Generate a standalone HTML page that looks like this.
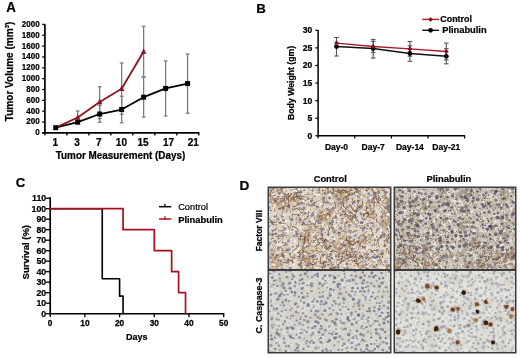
<!DOCTYPE html>
<html><head><meta charset="utf-8"><style>
html,body{margin:0;padding:0;background:#fff;width:520px;height:358px;overflow:hidden}
svg{display:block;filter:blur(0.4px)}
text{font-family:"Liberation Sans",sans-serif;stroke:#000;stroke-width:0.22px}
</style></head><body>
<svg width="520" height="358" viewBox="0 0 520 358">
<rect width="520" height="358" fill="#fff"/>
<text transform="translate(6.30 11.80) scale(1 1.070)" font-size="13.30" font-weight="bold" text-anchor="start" fill="#000">A</text>
<line x1="44.90" y1="24.20" x2="44.90" y2="133.60" stroke="#000" stroke-width="1.70"/>
<line x1="42.20" y1="132.90" x2="44.90" y2="132.90" stroke="#000" stroke-width="1.30"/>
<text transform="translate(39.60 135.30) scale(1 1.120)" font-size="8.00" font-weight="bold" text-anchor="end" fill="#000">0</text>
<line x1="42.20" y1="122.05" x2="44.90" y2="122.05" stroke="#000" stroke-width="1.30"/>
<text transform="translate(39.60 124.45) scale(1 1.120)" font-size="8.00" font-weight="bold" text-anchor="end" fill="#000">200</text>
<line x1="42.20" y1="111.20" x2="44.90" y2="111.20" stroke="#000" stroke-width="1.30"/>
<text transform="translate(39.60 113.60) scale(1 1.120)" font-size="8.00" font-weight="bold" text-anchor="end" fill="#000">400</text>
<line x1="42.20" y1="100.35" x2="44.90" y2="100.35" stroke="#000" stroke-width="1.30"/>
<text transform="translate(39.60 102.75) scale(1 1.120)" font-size="8.00" font-weight="bold" text-anchor="end" fill="#000">600</text>
<line x1="42.20" y1="89.50" x2="44.90" y2="89.50" stroke="#000" stroke-width="1.30"/>
<text transform="translate(39.60 91.90) scale(1 1.120)" font-size="8.00" font-weight="bold" text-anchor="end" fill="#000">800</text>
<line x1="42.20" y1="78.65" x2="44.90" y2="78.65" stroke="#000" stroke-width="1.30"/>
<text transform="translate(39.60 81.05) scale(1 1.120)" font-size="8.00" font-weight="bold" text-anchor="end" fill="#000">1000</text>
<line x1="42.20" y1="67.80" x2="44.90" y2="67.80" stroke="#000" stroke-width="1.30"/>
<text transform="translate(39.60 70.20) scale(1 1.120)" font-size="8.00" font-weight="bold" text-anchor="end" fill="#000">1200</text>
<line x1="42.20" y1="56.95" x2="44.90" y2="56.95" stroke="#000" stroke-width="1.30"/>
<text transform="translate(39.60 59.35) scale(1 1.120)" font-size="8.00" font-weight="bold" text-anchor="end" fill="#000">1400</text>
<line x1="42.20" y1="46.10" x2="44.90" y2="46.10" stroke="#000" stroke-width="1.30"/>
<text transform="translate(39.60 48.50) scale(1 1.120)" font-size="8.00" font-weight="bold" text-anchor="end" fill="#000">1600</text>
<line x1="42.20" y1="35.25" x2="44.90" y2="35.25" stroke="#000" stroke-width="1.30"/>
<text transform="translate(39.60 37.65) scale(1 1.120)" font-size="8.00" font-weight="bold" text-anchor="end" fill="#000">1800</text>
<line x1="42.20" y1="24.40" x2="44.90" y2="24.40" stroke="#000" stroke-width="1.30"/>
<text transform="translate(39.60 26.80) scale(1 1.120)" font-size="8.00" font-weight="bold" text-anchor="end" fill="#000">2000</text>
<line x1="42.20" y1="132.90" x2="199.40" y2="132.90" stroke="#000" stroke-width="1.70"/>
<line x1="44.90" y1="132.90" x2="44.90" y2="135.60" stroke="#000" stroke-width="1.30"/>
<line x1="66.89" y1="132.90" x2="66.89" y2="135.60" stroke="#000" stroke-width="1.30"/>
<line x1="88.87" y1="132.90" x2="88.87" y2="135.60" stroke="#000" stroke-width="1.30"/>
<line x1="110.86" y1="132.90" x2="110.86" y2="135.60" stroke="#000" stroke-width="1.30"/>
<line x1="132.84" y1="132.90" x2="132.84" y2="135.60" stroke="#000" stroke-width="1.30"/>
<line x1="154.83" y1="132.90" x2="154.83" y2="135.60" stroke="#000" stroke-width="1.30"/>
<line x1="176.81" y1="132.90" x2="176.81" y2="135.60" stroke="#000" stroke-width="1.30"/>
<line x1="198.80" y1="132.90" x2="198.80" y2="135.60" stroke="#000" stroke-width="1.30"/>
<text x="55.2" y="145.9" font-size="10.00" font-weight="bold" text-anchor="middle" fill="#000">1</text>
<text x="77.1" y="145.9" font-size="10.00" font-weight="bold" text-anchor="middle" fill="#000">3</text>
<text x="98.9" y="145.9" font-size="10.00" font-weight="bold" text-anchor="middle" fill="#000">7</text>
<text x="121.4" y="145.9" font-size="10.00" font-weight="bold" text-anchor="middle" fill="#000">10</text>
<text x="143.1" y="145.9" font-size="10.00" font-weight="bold" text-anchor="middle" fill="#000">15</text>
<text x="168.6" y="145.9" font-size="10.00" font-weight="bold" text-anchor="middle" fill="#000">17</text>
<text x="193.2" y="145.9" font-size="10.00" font-weight="bold" text-anchor="middle" fill="#000">21</text>
<text transform="translate(120.50 158.90) scale(1 1.120)" font-size="9.90" font-weight="bold" text-anchor="middle" fill="#000">Tumor Measurement (Days)</text>
<text transform="translate(12.5 71.4) rotate(-90)" x="0" y="0" font-size="10.05" font-weight="bold" text-anchor="middle" font-family="Liberation Sans, sans-serif">Tumor Volume (mm<tspan font-size="6" dy="-3.5">3</tspan><tspan dy="3.5">)</tspan></text>
<line x1="77.68" y1="111.00" x2="77.68" y2="122.60" stroke="#7c7c7c" stroke-width="1.30"/>
<line x1="75.78" y1="111.00" x2="79.58" y2="111.00" stroke="#7c7c7c" stroke-width="1.30"/>
<line x1="75.78" y1="122.60" x2="79.58" y2="122.60" stroke="#7c7c7c" stroke-width="1.30"/>
<line x1="99.66" y1="86.70" x2="99.66" y2="118.70" stroke="#7c7c7c" stroke-width="1.30"/>
<line x1="97.76" y1="86.70" x2="101.56" y2="86.70" stroke="#7c7c7c" stroke-width="1.30"/>
<line x1="97.76" y1="118.70" x2="101.56" y2="118.70" stroke="#7c7c7c" stroke-width="1.30"/>
<line x1="99.66" y1="105.50" x2="99.66" y2="122.30" stroke="#7c7c7c" stroke-width="1.30"/>
<line x1="97.76" y1="105.50" x2="101.56" y2="105.50" stroke="#7c7c7c" stroke-width="1.30"/>
<line x1="97.76" y1="122.30" x2="101.56" y2="122.30" stroke="#7c7c7c" stroke-width="1.30"/>
<line x1="121.65" y1="63.00" x2="121.65" y2="114.30" stroke="#7c7c7c" stroke-width="1.30"/>
<line x1="119.75" y1="63.00" x2="123.55" y2="63.00" stroke="#7c7c7c" stroke-width="1.30"/>
<line x1="119.75" y1="114.30" x2="123.55" y2="114.30" stroke="#7c7c7c" stroke-width="1.30"/>
<line x1="121.65" y1="96.30" x2="121.65" y2="122.80" stroke="#7c7c7c" stroke-width="1.30"/>
<line x1="119.75" y1="96.30" x2="123.55" y2="96.30" stroke="#7c7c7c" stroke-width="1.30"/>
<line x1="119.75" y1="122.80" x2="123.55" y2="122.80" stroke="#7c7c7c" stroke-width="1.30"/>
<line x1="143.64" y1="26.30" x2="143.64" y2="76.90" stroke="#7c7c7c" stroke-width="1.30"/>
<line x1="141.74" y1="26.30" x2="145.54" y2="26.30" stroke="#7c7c7c" stroke-width="1.30"/>
<line x1="141.74" y1="76.90" x2="145.54" y2="76.90" stroke="#7c7c7c" stroke-width="1.30"/>
<line x1="143.64" y1="77.40" x2="143.64" y2="117.10" stroke="#7c7c7c" stroke-width="1.30"/>
<line x1="141.74" y1="77.40" x2="145.54" y2="77.40" stroke="#7c7c7c" stroke-width="1.30"/>
<line x1="141.74" y1="117.10" x2="145.54" y2="117.10" stroke="#7c7c7c" stroke-width="1.30"/>
<line x1="165.62" y1="61.00" x2="165.62" y2="116.00" stroke="#7c7c7c" stroke-width="1.30"/>
<line x1="163.72" y1="61.00" x2="167.52" y2="61.00" stroke="#7c7c7c" stroke-width="1.30"/>
<line x1="163.72" y1="116.00" x2="167.52" y2="116.00" stroke="#7c7c7c" stroke-width="1.30"/>
<line x1="187.61" y1="54.00" x2="187.61" y2="113.20" stroke="#7c7c7c" stroke-width="1.30"/>
<line x1="185.71" y1="54.00" x2="189.51" y2="54.00" stroke="#7c7c7c" stroke-width="1.30"/>
<line x1="185.71" y1="113.20" x2="189.51" y2="113.20" stroke="#7c7c7c" stroke-width="1.30"/>
<polyline points="55.69,127.69 77.68,122.21 99.66,114.02 121.65,109.52 143.64,97.20 165.62,88.42 187.61,83.59" fill="none" stroke="#000" stroke-width="1.80"/>
<polyline points="55.69,127.69 77.68,117.49 99.66,101.98 121.65,88.69 143.64,51.58" fill="none" stroke="#8b1520" stroke-width="1.80"/>
<rect x="53.19" y="125.19" width="5" height="5" fill="#000"/>
<rect x="75.18" y="119.71" width="5" height="5" fill="#000"/>
<rect x="97.16" y="111.52" width="5" height="5" fill="#000"/>
<rect x="119.15" y="107.02" width="5" height="5" fill="#000"/>
<rect x="141.14" y="94.70" width="5" height="5" fill="#000"/>
<rect x="163.12" y="85.92" width="5" height="5" fill="#000"/>
<rect x="185.11" y="81.09" width="5" height="5" fill="#000"/>
<polygon points="77.68,114.29 74.88,119.69 80.48,119.69" fill="#8b1520"/>
<polygon points="99.66,98.78 96.86,104.18 102.46,104.18" fill="#8b1520"/>
<polygon points="121.65,85.49 118.85,90.89 124.45,90.89" fill="#8b1520"/>
<polygon points="143.64,48.38 140.84,53.78 146.44,53.78" fill="#8b1520"/>
<text x="256.3" y="13.3" font-size="13.30" font-weight="bold" text-anchor="start" fill="#000">B</text>
<line x1="318.10" y1="30.00" x2="318.10" y2="136.60" stroke="#000" stroke-width="1.50"/>
<line x1="315.30" y1="135.80" x2="318.10" y2="135.80" stroke="#000" stroke-width="1.20"/>
<text transform="translate(312.40 138.70) scale(1 1.100)" font-size="8.60" font-weight="bold" text-anchor="end" fill="#000">0</text>
<line x1="315.30" y1="118.22" x2="318.10" y2="118.22" stroke="#000" stroke-width="1.20"/>
<text transform="translate(312.40 121.12) scale(1 1.100)" font-size="8.60" font-weight="bold" text-anchor="end" fill="#000">5</text>
<line x1="315.30" y1="100.63" x2="318.10" y2="100.63" stroke="#000" stroke-width="1.20"/>
<text transform="translate(312.40 103.53) scale(1 1.100)" font-size="8.60" font-weight="bold" text-anchor="end" fill="#000">10</text>
<line x1="315.30" y1="83.05" x2="318.10" y2="83.05" stroke="#000" stroke-width="1.20"/>
<text transform="translate(312.40 85.95) scale(1 1.100)" font-size="8.60" font-weight="bold" text-anchor="end" fill="#000">15</text>
<line x1="315.30" y1="65.47" x2="318.10" y2="65.47" stroke="#000" stroke-width="1.20"/>
<text transform="translate(312.40 68.37) scale(1 1.100)" font-size="8.60" font-weight="bold" text-anchor="end" fill="#000">20</text>
<line x1="315.30" y1="47.88" x2="318.10" y2="47.88" stroke="#000" stroke-width="1.20"/>
<text transform="translate(312.40 50.78) scale(1 1.100)" font-size="8.60" font-weight="bold" text-anchor="end" fill="#000">25</text>
<line x1="315.30" y1="30.30" x2="318.10" y2="30.30" stroke="#000" stroke-width="1.20"/>
<text transform="translate(312.40 33.20) scale(1 1.100)" font-size="8.60" font-weight="bold" text-anchor="end" fill="#000">30</text>
<line x1="317.40" y1="135.80" x2="465.10" y2="135.80" stroke="#000" stroke-width="1.50"/>
<line x1="318.10" y1="135.80" x2="318.10" y2="138.40" stroke="#000" stroke-width="1.20"/>
<line x1="354.73" y1="135.80" x2="354.73" y2="138.40" stroke="#000" stroke-width="1.20"/>
<line x1="391.35" y1="135.80" x2="391.35" y2="138.40" stroke="#000" stroke-width="1.20"/>
<line x1="427.98" y1="135.80" x2="427.98" y2="138.40" stroke="#000" stroke-width="1.20"/>
<line x1="464.60" y1="135.80" x2="464.60" y2="138.40" stroke="#000" stroke-width="1.20"/>
<text x="336.5" y="149.6" font-size="8.50" font-weight="bold" text-anchor="middle" fill="#000">Day-0</text>
<text x="373.2" y="149.6" font-size="8.50" font-weight="bold" text-anchor="middle" fill="#000">Day-7</text>
<text x="409.9" y="149.6" font-size="8.50" font-weight="bold" text-anchor="middle" fill="#000">Day-14</text>
<text x="446.3" y="149.6" font-size="8.50" font-weight="bold" text-anchor="middle" fill="#000">Day-21</text>
<text x="0.0" y="0.0" font-size="8.70" font-weight="bold" text-anchor="middle" fill="#000" transform="translate(294.0 82.9) rotate(-90)">Body Weight (gm)</text>
<line x1="336.50" y1="37.50" x2="336.50" y2="56.00" stroke="#555" stroke-width="1.10"/>
<line x1="334.20" y1="37.50" x2="338.80" y2="37.50" stroke="#555" stroke-width="1.10"/>
<line x1="334.20" y1="56.00" x2="338.80" y2="56.00" stroke="#555" stroke-width="1.10"/>
<line x1="373.20" y1="39.40" x2="373.20" y2="52.50" stroke="#555" stroke-width="1.10"/>
<line x1="370.90" y1="39.40" x2="375.50" y2="39.40" stroke="#555" stroke-width="1.10"/>
<line x1="370.90" y1="52.50" x2="375.50" y2="52.50" stroke="#555" stroke-width="1.10"/>
<line x1="373.20" y1="41.30" x2="373.20" y2="58.10" stroke="#555" stroke-width="1.10"/>
<line x1="370.90" y1="41.30" x2="375.50" y2="41.30" stroke="#555" stroke-width="1.10"/>
<line x1="370.90" y1="58.10" x2="375.50" y2="58.10" stroke="#555" stroke-width="1.10"/>
<line x1="409.90" y1="41.50" x2="409.90" y2="56.20" stroke="#555" stroke-width="1.10"/>
<line x1="407.60" y1="41.50" x2="412.20" y2="41.50" stroke="#555" stroke-width="1.10"/>
<line x1="407.60" y1="56.20" x2="412.20" y2="56.20" stroke="#555" stroke-width="1.10"/>
<line x1="409.90" y1="45.80" x2="409.90" y2="61.30" stroke="#555" stroke-width="1.10"/>
<line x1="407.60" y1="45.80" x2="412.20" y2="45.80" stroke="#555" stroke-width="1.10"/>
<line x1="407.60" y1="61.30" x2="412.20" y2="61.30" stroke="#555" stroke-width="1.10"/>
<line x1="446.30" y1="43.10" x2="446.30" y2="59.90" stroke="#555" stroke-width="1.10"/>
<line x1="444.00" y1="43.10" x2="448.60" y2="43.10" stroke="#555" stroke-width="1.10"/>
<line x1="444.00" y1="59.90" x2="448.60" y2="59.90" stroke="#555" stroke-width="1.10"/>
<line x1="446.30" y1="48.70" x2="446.30" y2="63.80" stroke="#555" stroke-width="1.10"/>
<line x1="444.00" y1="48.70" x2="448.60" y2="48.70" stroke="#555" stroke-width="1.10"/>
<line x1="444.00" y1="63.80" x2="448.60" y2="63.80" stroke="#555" stroke-width="1.10"/>
<polyline points="336.50,46.60 373.20,48.60 409.90,53.40 446.30,56.30" fill="none" stroke="#111" stroke-width="1.50"/>
<polyline points="336.50,43.10 373.20,46.50 409.90,48.90 446.30,51.50" fill="none" stroke="#a81c2a" stroke-width="1.40"/>
<circle cx="336.50" cy="46.60" r="2.4" fill="#000"/>
<circle cx="373.20" cy="48.60" r="2.4" fill="#000"/>
<circle cx="409.90" cy="53.40" r="2.4" fill="#000"/>
<circle cx="446.30" cy="56.30" r="2.4" fill="#000"/>
<polygon points="336.50,40.50 338.90,43.10 336.50,45.70 334.10,43.10" fill="#8a1020"/>
<polygon points="373.20,43.90 375.60,46.50 373.20,49.10 370.80,46.50" fill="#8a1020"/>
<polygon points="409.90,46.30 412.30,48.90 409.90,51.50 407.50,48.90" fill="#8a1020"/>
<polygon points="446.30,48.90 448.70,51.50 446.30,54.10 443.90,51.50" fill="#8a1020"/>
<line x1="422.30" y1="19.40" x2="439.10" y2="19.40" stroke="#a81c2a" stroke-width="1.40"/>
<polygon points="430.60,16.90 432.90,19.40 430.60,21.90 428.30,19.40" fill="#8a1020"/>
<text x="440.3" y="22.0" font-size="8.90" font-weight="bold" text-anchor="start" fill="#000">Control</text>
<line x1="422.30" y1="30.30" x2="439.10" y2="30.30" stroke="#111" stroke-width="1.40"/>
<circle cx="430.6" cy="30.3" r="2.4" fill="#000"/>
<text x="442.2" y="32.9" font-size="9.30" font-weight="bold" text-anchor="start" fill="#000">Plinabulin</text>
<text x="15.8" y="187.0" font-size="13.20" font-weight="bold" text-anchor="start" fill="#000">C</text>
<line x1="50.20" y1="197.20" x2="50.20" y2="314.50" stroke="#000" stroke-width="1.70"/>
<line x1="45.60" y1="313.70" x2="50.20" y2="313.70" stroke="#000" stroke-width="1.30"/>
<text transform="translate(46.20 316.80) scale(1 1.080)" font-size="8.80" font-weight="bold" text-anchor="end" fill="#000">0</text>
<line x1="45.60" y1="303.20" x2="50.20" y2="303.20" stroke="#000" stroke-width="1.30"/>
<text transform="translate(46.20 306.30) scale(1 1.080)" font-size="8.80" font-weight="bold" text-anchor="end" fill="#000">10</text>
<line x1="45.60" y1="292.70" x2="50.20" y2="292.70" stroke="#000" stroke-width="1.30"/>
<text transform="translate(46.20 295.80) scale(1 1.080)" font-size="8.80" font-weight="bold" text-anchor="end" fill="#000">20</text>
<line x1="45.60" y1="282.20" x2="50.20" y2="282.20" stroke="#000" stroke-width="1.30"/>
<text transform="translate(46.20 285.30) scale(1 1.080)" font-size="8.80" font-weight="bold" text-anchor="end" fill="#000">30</text>
<line x1="45.60" y1="271.70" x2="50.20" y2="271.70" stroke="#000" stroke-width="1.30"/>
<text transform="translate(46.20 274.80) scale(1 1.080)" font-size="8.80" font-weight="bold" text-anchor="end" fill="#000">40</text>
<line x1="45.60" y1="261.20" x2="50.20" y2="261.20" stroke="#000" stroke-width="1.30"/>
<text transform="translate(46.20 264.30) scale(1 1.080)" font-size="8.80" font-weight="bold" text-anchor="end" fill="#000">50</text>
<line x1="45.60" y1="250.70" x2="50.20" y2="250.70" stroke="#000" stroke-width="1.30"/>
<text transform="translate(46.20 253.80) scale(1 1.080)" font-size="8.80" font-weight="bold" text-anchor="end" fill="#000">60</text>
<line x1="45.60" y1="240.20" x2="50.20" y2="240.20" stroke="#000" stroke-width="1.30"/>
<text transform="translate(46.20 243.30) scale(1 1.080)" font-size="8.80" font-weight="bold" text-anchor="end" fill="#000">70</text>
<line x1="45.60" y1="229.70" x2="50.20" y2="229.70" stroke="#000" stroke-width="1.30"/>
<text transform="translate(46.20 232.80) scale(1 1.080)" font-size="8.80" font-weight="bold" text-anchor="end" fill="#000">80</text>
<line x1="45.60" y1="219.20" x2="50.20" y2="219.20" stroke="#000" stroke-width="1.30"/>
<text transform="translate(46.20 222.30) scale(1 1.080)" font-size="8.80" font-weight="bold" text-anchor="end" fill="#000">90</text>
<line x1="45.60" y1="208.70" x2="50.20" y2="208.70" stroke="#000" stroke-width="1.30"/>
<text transform="translate(46.20 211.80) scale(1 1.080)" font-size="8.80" font-weight="bold" text-anchor="end" fill="#000">100</text>
<line x1="45.60" y1="198.20" x2="50.20" y2="198.20" stroke="#000" stroke-width="1.30"/>
<text transform="translate(46.20 201.30) scale(1 1.080)" font-size="8.80" font-weight="bold" text-anchor="end" fill="#000">110</text>
<line x1="49.40" y1="313.70" x2="224.30" y2="313.70" stroke="#000" stroke-width="1.60"/>
<line x1="50.20" y1="313.70" x2="50.20" y2="317.20" stroke="#000" stroke-width="1.30"/>
<text transform="translate(50.20 325.90) scale(1 1.140)" font-size="8.40" font-weight="bold" text-anchor="middle" fill="#000">0</text>
<line x1="84.90" y1="313.70" x2="84.90" y2="317.20" stroke="#000" stroke-width="1.30"/>
<text transform="translate(84.90 325.90) scale(1 1.140)" font-size="8.40" font-weight="bold" text-anchor="middle" fill="#000">10</text>
<line x1="119.60" y1="313.70" x2="119.60" y2="317.20" stroke="#000" stroke-width="1.30"/>
<text transform="translate(119.60 325.90) scale(1 1.140)" font-size="8.40" font-weight="bold" text-anchor="middle" fill="#000">20</text>
<line x1="154.30" y1="313.70" x2="154.30" y2="317.20" stroke="#000" stroke-width="1.30"/>
<text transform="translate(154.30 325.90) scale(1 1.140)" font-size="8.40" font-weight="bold" text-anchor="middle" fill="#000">30</text>
<line x1="189.00" y1="313.70" x2="189.00" y2="317.20" stroke="#000" stroke-width="1.30"/>
<text transform="translate(189.00 325.90) scale(1 1.140)" font-size="8.40" font-weight="bold" text-anchor="middle" fill="#000">40</text>
<line x1="223.70" y1="313.70" x2="223.70" y2="317.20" stroke="#000" stroke-width="1.30"/>
<text transform="translate(223.70 325.90) scale(1 1.140)" font-size="8.40" font-weight="bold" text-anchor="middle" fill="#000">50</text>
<text x="136.7" y="339.8" font-size="9.00" font-weight="bold" text-anchor="middle" fill="#000">Days</text>
<text transform="translate(29.0 252.2) rotate(-90)" font-size="9.5" font-weight="bold" text-anchor="middle" font-family="Liberation Sans, sans-serif">Survival (%)</text>
<polyline points="50.20,208.70 102.25,208.70 102.25,278.74 119.60,278.74 119.60,296.16 123.07,296.16 123.07,313.70" fill="none" stroke="#000" stroke-width="1.60"/>
<polyline points="50.20,208.70 123.07,208.70 123.07,229.70 154.30,229.70 154.30,250.70 171.65,250.70 171.65,271.70 178.59,271.70 178.59,292.70 185.53,292.70 185.53,313.70" fill="none" stroke="#a8101e" stroke-width="1.70"/>
<line x1="159.00" y1="206.70" x2="171.20" y2="206.70" stroke="#000" stroke-width="1.50"/>
<line x1="164.90" y1="203.80" x2="164.90" y2="206.70" stroke="#000" stroke-width="1.30"/>
<text transform="translate(178.20 210.30) scale(1 1.050)" font-size="9.25" text-anchor="start" fill="#000">Control</text>
<line x1="159.00" y1="219.00" x2="171.20" y2="219.00" stroke="#a8101e" stroke-width="1.50"/>
<line x1="164.90" y1="216.20" x2="164.90" y2="219.00" stroke="#a8101e" stroke-width="1.30"/>
<text x="178.2" y="222.5" font-size="9.35" font-weight="bold" text-anchor="start" fill="#000">Plinabulin</text>
<text x="239.4" y="189.6" font-size="13.60" font-weight="bold" text-anchor="start" fill="#000">D</text>
<text transform="translate(330.20 182.10) scale(1 1.060)" font-size="9.30" font-weight="bold" text-anchor="middle" fill="#000">Control</text>
<text transform="translate(448.90 182.30) scale(1 1.060)" font-size="9.40" font-weight="bold" text-anchor="middle" fill="#000">Plinabulin</text>
<text transform="translate(261.5 230.8) rotate(-90)" font-size="8.5" font-weight="bold" text-anchor="middle" font-family="Liberation Sans, sans-serif">Factor VIII</text>
<text transform="translate(261.5 305.5) rotate(-90)" font-size="8.9" font-weight="bold" text-anchor="middle" font-family="Liberation Sans, sans-serif">C. Caspase-3</text>
<defs><filter id="bl" x="-5%" y="-5%" width="110%" height="110%"><feGaussianBlur stdDeviation="0.45"/></filter><style>polyline{fill:none;stroke-linecap:round;stroke-linejoin:round}</style></defs>
<clipPath id="c1"><rect x="269" y="188" width="121" height="81"/></clipPath>
<g clip-path="url(#c1)">
<rect x="269" y="188" width="121" height="81" fill="#dcd6cb"/>
<filter id="f1_0" x="0" y="0" width="100%" height="100%" color-interpolation-filters="sRGB"><feTurbulence type="fractalNoise" baseFrequency="0.06" numOctaves="2" seed="10"/><feColorMatrix type="matrix" values="0 0 0 0 0.776 0 0 0 0 0.682 0 0 0 0 0.565 4.00 0 0 0 -1.90"/><feGaussianBlur stdDeviation="0.3"/></filter>
<rect x="269" y="188" width="121" height="81" filter="url(#f1_0)"/>
<filter id="f1_1" x="0" y="0" width="100%" height="100%" color-interpolation-filters="sRGB"><feTurbulence type="fractalNoise" baseFrequency="0.5" numOctaves="2" seed="11"/><feColorMatrix type="matrix" values="0 0 0 0 0.557 0 0 0 0 0.416 0 0 0 0 0.282 0 5.00 0 0 -2.85"/><feGaussianBlur stdDeviation="0.3"/></filter>
<rect x="269" y="188" width="121" height="81" filter="url(#f1_1)"/>
<filter id="f1_2" x="0" y="0" width="100%" height="100%" color-interpolation-filters="sRGB"><feTurbulence type="fractalNoise" baseFrequency="0.3" numOctaves="1" seed="12"/><feColorMatrix type="matrix" values="0 0 0 0 0.949 0 0 0 0 0.941 0 0 0 0 0.918 0 0 5.00 0 -2.70"/><feGaussianBlur stdDeviation="0.3"/></filter>
<rect x="269" y="188" width="121" height="81" filter="url(#f1_2)"/>
<g filter="url(#bl)">
<polyline points="283.8,258.0 283.0,256.0 282.0,253.8 282.1,252.3" stroke="#6a4428" stroke-width="1.0" stroke-opacity="0.72"/>
<polyline points="315.7,237.6 316.5,236.0 318.5,234.8 319.0,233.0" stroke="#6a4428" stroke-width="0.6" stroke-opacity="0.72"/>
<polyline points="334.7,265.8 334.0,267.8 334.9,269.2 336.2,271.0" stroke="#7a5030" stroke-width="0.7" stroke-opacity="0.72"/>
<polyline points="351.6,250.7 353.4,251.6 354.4,254.3 356.5,255.4" stroke="#a08060" stroke-width="0.9" stroke-opacity="0.72"/>
<polyline points="282.1,214.3 282.7,211.4 282.9,208.7 283.5,207.0" stroke="#90704c" stroke-width="1.0" stroke-opacity="0.72"/>
<polyline points="329.4,266.0 327.3,266.1 325.4,265.3 324.0,264.0" stroke="#a08060" stroke-width="0.9" stroke-opacity="0.72"/>
<polyline points="359.3,193.3 357.8,192.8 356.6,191.3 356.1,189.2" stroke="#86603c" stroke-width="0.9" stroke-opacity="0.72"/>
<polyline points="389.9,236.4 389.2,238.5 386.8,239.5 384.2,240.4" stroke="#7a5030" stroke-width="0.8" stroke-opacity="0.72"/>
<polyline points="310.0,258.0 307.6,258.5 305.0,258.5 302.3,259.0" stroke="#a08060" stroke-width="0.8" stroke-opacity="0.72"/>
<polyline points="283.2,252.1 282.1,253.9 281.4,256.1 279.7,257.0" stroke="#86603c" stroke-width="0.8" stroke-opacity="0.72"/>
<polyline points="267.2,231.9 267.0,229.6 268.1,227.5 269.0,226.1" stroke="#6a4428" stroke-width="0.9" stroke-opacity="0.72"/>
<polyline points="366.6,255.4 365.2,257.4 365.3,258.7 367.4,260.2" stroke="#7a5030" stroke-width="0.7" stroke-opacity="0.72"/>
<polyline points="366.7,201.7 367.3,203.3 366.2,205.5 364.9,206.9" stroke="#a08060" stroke-width="0.7" stroke-opacity="0.72"/>
<polyline points="326.2,188.0 325.1,189.3 325.1,192.1 325.1,193.8" stroke="#90704c" stroke-width="0.8" stroke-opacity="0.72"/>
<polyline points="388.9,205.2 388.7,208.1 388.7,210.3 389.1,212.9" stroke="#a08060" stroke-width="0.9" stroke-opacity="0.72"/>
<polyline points="331.6,205.0 329.9,203.4 327.7,202.4 326.0,203.1" stroke="#7a5030" stroke-width="1.0" stroke-opacity="0.72"/>
<polyline points="305.3,259.0 302.9,260.0 301.4,260.9 301.1,263.7" stroke="#6a4428" stroke-width="0.8" stroke-opacity="0.72"/>
<polyline points="294.2,262.6 291.6,261.6 290.0,259.9 288.3,259.8" stroke="#6a4428" stroke-width="0.7" stroke-opacity="0.72"/>
<polyline points="351.3,222.8 353.4,224.0 355.5,224.3 358.3,223.8" stroke="#86603c" stroke-width="0.6" stroke-opacity="0.72"/>
<polyline points="292.1,213.9 293.8,214.6 296.3,214.4 298.8,215.9" stroke="#86603c" stroke-width="1.0" stroke-opacity="0.72"/>
<polyline points="371.7,231.4 372.0,230.0 371.0,228.8 368.9,228.1" stroke="#86603c" stroke-width="0.9" stroke-opacity="0.72"/>
<polyline points="342.0,257.5 341.2,259.1 339.1,260.2 336.5,259.2" stroke="#7a5030" stroke-width="0.8" stroke-opacity="0.72"/>
<polyline points="363.3,213.3 361.2,215.4 361.0,216.9 362.2,218.9" stroke="#5a3c22" stroke-width="0.6" stroke-opacity="0.72"/>
<polyline points="335.8,234.1 337.3,233.2 338.7,232.5 340.2,232.8" stroke="#6a4428" stroke-width="0.9" stroke-opacity="0.72"/>
<polyline points="268.5,243.0 271.3,242.7 272.4,241.3 274.4,241.1" stroke="#6a4428" stroke-width="0.8" stroke-opacity="0.72"/>
<polyline points="352.1,199.5 353.5,196.9 355.4,195.8 357.6,195.8" stroke="#a08060" stroke-width="0.8" stroke-opacity="0.72"/>
<polyline points="279.5,241.4 281.9,239.7 283.2,237.7 284.0,236.1" stroke="#6a4428" stroke-width="0.6" stroke-opacity="0.72"/>
<polyline points="306.7,237.1 304.7,238.9 301.9,239.5 300.0,238.6" stroke="#86603c" stroke-width="0.7" stroke-opacity="0.72"/>
<polyline points="334.7,212.1 336.0,213.4 335.8,215.5 334.9,217.7" stroke="#7a5030" stroke-width="0.8" stroke-opacity="0.72"/>
<polyline points="305.3,213.8 302.9,215.2 301.7,216.7 300.1,218.3" stroke="#90704c" stroke-width="0.6" stroke-opacity="0.72"/>
<polyline points="294.5,254.7 293.1,257.1 292.0,257.9 291.8,260.5" stroke="#86603c" stroke-width="0.8" stroke-opacity="0.72"/>
<polyline points="374.8,199.1 373.6,198.4 373.2,196.8 374.0,193.9" stroke="#86603c" stroke-width="0.7" stroke-opacity="0.72"/>
<polyline points="355.7,256.9 354.0,257.0 351.5,256.9 349.2,255.5" stroke="#90704c" stroke-width="0.9" stroke-opacity="0.72"/>
<polyline points="380.4,257.5 380.9,255.9 381.2,254.3 382.6,252.3" stroke="#86603c" stroke-width="0.9" stroke-opacity="0.72"/>
<polyline points="352.3,224.0 351.0,225.6 350.0,226.6 348.5,226.9" stroke="#5a3c22" stroke-width="0.6" stroke-opacity="0.72"/>
<polyline points="347.8,221.4 346.0,222.1 345.2,223.4 344.8,226.0" stroke="#5a3c22" stroke-width="0.8" stroke-opacity="0.72"/>
<polyline points="288.5,193.6 287.1,194.7 284.2,194.6 282.5,192.9" stroke="#7a5030" stroke-width="0.7" stroke-opacity="0.72"/>
<polyline points="328.9,226.7 329.6,228.9 328.4,231.5 328.4,233.9" stroke="#6a4428" stroke-width="1.0" stroke-opacity="0.72"/>
<polyline points="362.4,240.8 360.6,242.8 360.1,244.5 360.4,246.8" stroke="#7a5030" stroke-width="0.9" stroke-opacity="0.72"/>
<polyline points="359.1,236.5 361.9,236.0 363.6,235.9 365.0,235.1" stroke="#90704c" stroke-width="0.9" stroke-opacity="0.72"/>
<polyline points="364.8,228.1 363.0,228.9 360.8,228.4 359.8,226.5" stroke="#6a4428" stroke-width="0.9" stroke-opacity="0.72"/>
<polyline points="345.6,208.7 347.1,209.2 349.0,211.1 350.2,213.3" stroke="#5a3c22" stroke-width="0.9" stroke-opacity="0.72"/>
<polyline points="297.1,258.3 299.0,259.0 300.0,260.8 300.5,262.9" stroke="#7a5030" stroke-width="0.6" stroke-opacity="0.72"/>
<polyline points="342.1,220.7 343.7,221.3 344.6,222.3 346.6,222.9" stroke="#6a4428" stroke-width="0.6" stroke-opacity="0.72"/>
<polyline points="388.6,206.6 389.4,208.0 391.0,208.9 392.6,211.1" stroke="#5a3c22" stroke-width="0.9" stroke-opacity="0.72"/>
<polyline points="368.1,268.8 365.4,268.0 363.8,266.5 362.2,265.5" stroke="#6a4428" stroke-width="1.0" stroke-opacity="0.72"/>
<polyline points="270.0,234.4 272.4,233.7 274.8,234.0 276.3,232.8" stroke="#86603c" stroke-width="0.8" stroke-opacity="0.72"/>
<polyline points="351.7,250.5 352.2,253.0 353.2,254.9 355.0,256.8" stroke="#90704c" stroke-width="0.8" stroke-opacity="0.72"/>
<polyline points="348.0,218.1 349.6,218.8 352.0,220.3 352.9,222.3" stroke="#5a3c22" stroke-width="0.8" stroke-opacity="0.72"/>
<polyline points="331.6,265.7 333.1,263.7 334.4,261.6 334.4,259.4" stroke="#a08060" stroke-width="0.8" stroke-opacity="0.72"/>
<polyline points="320.2,220.4 322.2,218.8 324.7,218.8 327.3,218.7" stroke="#a08060" stroke-width="1.0" stroke-opacity="0.72"/>
<polyline points="303.4,187.8 301.5,185.9 300.0,184.9 298.5,184.9" stroke="#90704c" stroke-width="0.6" stroke-opacity="0.72"/>
<polyline points="381.1,253.9 379.3,254.3 377.6,254.8 376.2,256.5" stroke="#86603c" stroke-width="0.8" stroke-opacity="0.72"/>
<polyline points="360.1,221.9 359.0,222.7 356.6,224.4 354.7,224.9" stroke="#a08060" stroke-width="0.7" stroke-opacity="0.72"/>
<polyline points="305.1,230.9 305.6,232.2 305.6,235.1 305.1,237.1" stroke="#90704c" stroke-width="0.9" stroke-opacity="0.72"/>
<polyline points="288.1,241.5 288.7,239.8 289.5,238.3 290.5,237.1" stroke="#86603c" stroke-width="0.9" stroke-opacity="0.72"/>
<polyline points="308.2,204.9 310.9,205.3 313.1,203.5 314.7,202.6" stroke="#5a3c22" stroke-width="1.0" stroke-opacity="0.72"/>
<polyline points="298.1,208.9 299.8,211.0 301.1,213.0 300.7,214.5" stroke="#86603c" stroke-width="0.8" stroke-opacity="0.72"/>
<polyline points="287.3,252.2 288.6,250.9 289.5,249.6 289.7,247.2" stroke="#6a4428" stroke-width="0.6" stroke-opacity="0.72"/>
<polyline points="316.6,227.9 318.0,227.9 320.8,228.6 322.1,228.2" stroke="#a08060" stroke-width="0.8" stroke-opacity="0.72"/>
<polyline points="357.5,261.4 355.7,261.5 354.1,261.3 352.5,261.9" stroke="#5a3c22" stroke-width="0.8" stroke-opacity="0.72"/>
<polyline points="288.1,205.7 288.9,203.6 288.5,201.1 287.5,199.0" stroke="#7a5030" stroke-width="1.0" stroke-opacity="0.72"/>
<polyline points="272.8,253.8 273.5,251.9 274.8,249.4 275.7,246.7" stroke="#a08060" stroke-width="0.7" stroke-opacity="0.72"/>
<polyline points="381.2,187.3 381.7,188.6 382.6,189.9 384.2,192.1" stroke="#6a4428" stroke-width="0.6" stroke-opacity="0.72"/>
<polyline points="274.6,257.5 276.1,257.2 277.0,256.2 279.1,254.7" stroke="#a08060" stroke-width="0.9" stroke-opacity="0.72"/>
<polyline points="291.0,224.0 290.8,225.8 290.3,227.4 289.0,229.8" stroke="#7a5030" stroke-width="0.7" stroke-opacity="0.72"/>
<polyline points="342.7,233.6 341.1,234.8 340.0,236.0 338.0,236.2" stroke="#a08060" stroke-width="0.6" stroke-opacity="0.72"/>
<polyline points="300.4,237.9 301.3,236.6 301.2,235.2 300.0,233.5" stroke="#6a4428" stroke-width="0.6" stroke-opacity="0.72"/>
<polyline points="278.4,255.1 275.7,256.3 275.0,258.5 274.7,260.0" stroke="#5a3c22" stroke-width="0.9" stroke-opacity="0.72"/>
<polyline points="379.3,223.9 378.5,222.4 377.2,221.1 376.9,219.7" stroke="#86603c" stroke-width="0.7" stroke-opacity="0.72"/>
<polyline points="283.3,253.5 284.8,252.5 286.1,251.4 287.7,250.3" stroke="#86603c" stroke-width="0.8" stroke-opacity="0.72"/>
<polyline points="315.9,262.1 314.0,264.0 312.3,265.6 310.0,265.9" stroke="#90704c" stroke-width="0.8" stroke-opacity="0.72"/>
<polyline points="379.1,256.7 379.8,258.5 380.3,259.9 381.5,261.8" stroke="#6a4428" stroke-width="0.7" stroke-opacity="0.72"/>
<polyline points="366.9,231.4 365.7,232.7 363.7,233.5 363.2,235.0" stroke="#86603c" stroke-width="1.0" stroke-opacity="0.72"/>
<polyline points="307.7,213.8 308.3,215.9 307.0,218.5 304.4,219.2" stroke="#6a4428" stroke-width="1.0" stroke-opacity="0.72"/>
<polyline points="367.2,197.4 364.3,196.6 362.6,194.8 361.9,193.0" stroke="#a08060" stroke-width="0.7" stroke-opacity="0.72"/>
<polyline points="305.4,236.9 304.7,238.0 304.4,239.7 305.2,241.0" stroke="#5a3c22" stroke-width="1.0" stroke-opacity="0.72"/>
<polyline points="344.5,255.0 346.9,255.5 348.3,255.0 350.7,254.5" stroke="#6a4428" stroke-width="0.9" stroke-opacity="0.72"/>
<polyline points="294.2,257.3 291.9,257.4 290.2,256.0 289.6,254.4" stroke="#7a5030" stroke-width="0.8" stroke-opacity="0.72"/>
<polyline points="375.2,261.9 373.0,262.2 370.8,260.6 369.5,258.3" stroke="#86603c" stroke-width="0.8" stroke-opacity="0.72"/>
<polyline points="268.0,231.2 266.6,231.3 264.4,231.0 262.4,230.5" stroke="#86603c" stroke-width="0.9" stroke-opacity="0.72"/>
<polyline points="324.3,202.1 323.5,203.2 323.5,205.0 321.9,207.1" stroke="#90704c" stroke-width="0.9" stroke-opacity="0.72"/>
<polyline points="391.2,210.0 388.4,209.3 386.2,208.7 384.3,207.9" stroke="#7a5030" stroke-width="0.8" stroke-opacity="0.72"/>
<polyline points="340.3,232.7 342.0,231.1 344.6,231.5 346.4,231.9" stroke="#5a3c22" stroke-width="0.7" stroke-opacity="0.72"/>
<polyline points="349.4,249.8 350.6,249.0 350.7,247.2 349.8,244.7" stroke="#a08060" stroke-width="0.9" stroke-opacity="0.72"/>
<polyline points="327.2,214.6 326.1,216.2 325.5,217.4 325.7,219.2" stroke="#7a5030" stroke-width="0.8" stroke-opacity="0.72"/>
<polyline points="302.9,270.8 302.7,273.4 301.9,275.2 300.2,276.5" stroke="#a08060" stroke-width="0.9" stroke-opacity="0.72"/>
<polyline points="385.7,220.2 385.1,221.8 385.9,224.2 387.3,225.0" stroke="#6a4428" stroke-width="0.8" stroke-opacity="0.72"/>
<polyline points="357.4,256.9 359.6,259.0 361.1,260.7 363.5,262.2" stroke="#6a4428" stroke-width="0.9" stroke-opacity="0.72"/>
<polyline points="351.9,257.0 353.7,255.3 354.4,252.7 355.2,251.6" stroke="#7a5030" stroke-width="0.9" stroke-opacity="0.72"/>
<polyline points="277.9,219.1 276.2,217.7 276.0,216.2 276.7,214.9" stroke="#5a3c22" stroke-width="0.8" stroke-opacity="0.72"/>
<polyline points="354.8,200.2 353.4,202.8 352.0,205.1 350.1,207.0" stroke="#7a5030" stroke-width="0.9" stroke-opacity="0.72"/>
<polyline points="344.9,259.2 346.1,261.5 348.0,263.6 348.5,264.9" stroke="#a08060" stroke-width="0.8" stroke-opacity="0.72"/>
<polyline points="362.0,257.6 363.3,259.8 364.3,260.9 366.4,261.7" stroke="#90704c" stroke-width="1.0" stroke-opacity="0.72"/>
<polyline points="274.3,256.9 273.1,255.6 271.9,254.2 270.4,252.7" stroke="#90704c" stroke-width="0.8" stroke-opacity="0.72"/>
<polyline points="309.3,237.5 308.7,239.9 308.2,241.3 308.2,243.7" stroke="#a08060" stroke-width="0.9" stroke-opacity="0.72"/>
<polyline points="390.6,204.1 389.5,203.1 389.1,200.6 387.7,198.7" stroke="#a08060" stroke-width="0.6" stroke-opacity="0.72"/>
<polyline points="288.5,195.9 286.3,194.9 284.4,194.8 282.1,193.4" stroke="#90704c" stroke-width="0.7" stroke-opacity="0.72"/>
<polyline points="359.9,209.8 359.6,208.0 360.2,206.2 359.4,204.4" stroke="#6a4428" stroke-width="0.7" stroke-opacity="0.72"/>
<polyline points="363.2,243.9 365.5,242.7 366.1,240.9 366.0,239.5" stroke="#6a4428" stroke-width="0.6" stroke-opacity="0.72"/>
<polyline points="382.7,217.6 383.0,216.2 382.7,214.8 384.3,212.3" stroke="#6a4428" stroke-width="0.7" stroke-opacity="0.72"/>
<polyline points="367.4,240.5 369.4,238.5 370.8,236.5 372.4,235.0" stroke="#90704c" stroke-width="0.8" stroke-opacity="0.72"/>
<polyline points="383.7,211.6 384.5,212.9 385.1,214.3 387.2,216.2" stroke="#86603c" stroke-width="0.8" stroke-opacity="0.72"/>
<polyline points="298.3,209.0 296.3,208.7 294.7,209.8 292.5,210.5" stroke="#90704c" stroke-width="0.8" stroke-opacity="0.72"/>
<polyline points="367.6,229.1 366.0,227.8 364.5,227.7 362.1,227.2" stroke="#7a5030" stroke-width="0.8" stroke-opacity="0.72"/>
<polyline points="367.1,251.2 366.6,252.7 364.5,254.5 362.5,256.7" stroke="#7a5030" stroke-width="0.7" stroke-opacity="0.72"/>
<polyline points="350.4,253.9 347.5,254.6 345.4,253.4 343.3,252.7" stroke="#6a4428" stroke-width="0.8" stroke-opacity="0.72"/>
<polyline points="364.4,236.9 362.5,236.3 361.2,235.6 359.9,235.1" stroke="#a08060" stroke-width="0.9" stroke-opacity="0.72"/>
<polyline points="368.5,256.7 366.4,255.2 364.4,253.5 362.3,251.4" stroke="#86603c" stroke-width="0.9" stroke-opacity="0.72"/>
<polyline points="369.5,206.8 369.2,204.6 368.7,203.1 369.1,200.3" stroke="#86603c" stroke-width="0.8" stroke-opacity="0.72"/>
<polyline points="357.9,207.5 357.7,204.7 358.0,202.7 357.7,200.1" stroke="#86603c" stroke-width="0.8" stroke-opacity="0.72"/>
<polyline points="354.4,240.0 352.5,241.5 350.9,241.5 348.8,240.9" stroke="#86603c" stroke-width="0.9" stroke-opacity="0.72"/>
<polyline points="282.2,235.5 280.3,237.0 278.3,236.6 276.7,237.2" stroke="#86603c" stroke-width="0.9" stroke-opacity="0.72"/>
<polyline points="365.1,225.2 362.5,225.7 360.9,225.4 358.6,225.2" stroke="#90704c" stroke-width="0.8" stroke-opacity="0.72"/>
<polyline points="300.3,196.6 303.0,196.4 305.8,197.0 307.8,197.2" stroke="#90704c" stroke-width="0.9" stroke-opacity="0.72"/>
<polyline points="303.1,199.2 305.7,200.4 307.5,199.5 310.0,199.0" stroke="#7a5030" stroke-width="0.8" stroke-opacity="0.72"/>
<polyline points="315.8,186.5 318.5,185.4 320.4,185.3 322.7,183.9" stroke="#90704c" stroke-width="1.0" stroke-opacity="0.72"/>
<polyline points="289.0,235.8 286.3,235.9 284.4,234.2 283.3,232.0" stroke="#a08060" stroke-width="1.0" stroke-opacity="0.72"/>
<polyline points="276.7,219.8 275.2,220.0 274.2,221.1 272.9,221.5" stroke="#90704c" stroke-width="0.7" stroke-opacity="0.72"/>
<polyline points="268.5,267.2 268.5,269.2 268.1,272.2 267.1,273.8" stroke="#90704c" stroke-width="0.9" stroke-opacity="0.72"/>
<polyline points="391.0,254.3 389.1,252.7 388.4,250.6 386.5,248.4" stroke="#86603c" stroke-width="0.8" stroke-opacity="0.72"/>
<polyline points="372.6,252.3 371.9,250.6 370.4,249.7 368.6,249.2" stroke="#5a3c22" stroke-width="0.6" stroke-opacity="0.72"/>
<polyline points="386.2,267.5 388.1,268.9 389.5,270.6 390.1,272.2" stroke="#7a5030" stroke-width="0.8" stroke-opacity="0.72"/>
<polyline points="315.9,202.6 313.3,202.6 311.4,204.4 310.0,206.4" stroke="#90704c" stroke-width="0.8" stroke-opacity="0.72"/>
<polyline points="351.1,232.4 352.6,232.7 355.0,231.8 357.2,230.5" stroke="#7a5030" stroke-width="0.7" stroke-opacity="0.72"/>
<polyline points="355.7,215.6 353.3,216.9 352.2,218.7 351.8,221.4" stroke="#90704c" stroke-width="0.6" stroke-opacity="0.72"/>
<polyline points="313.6,223.7 310.9,223.9 309.7,224.8 307.0,224.6" stroke="#6a4428" stroke-width="0.9" stroke-opacity="0.72"/>
<polyline points="346.2,206.9 346.6,208.4 345.4,210.6 343.7,211.6" stroke="#90704c" stroke-width="0.7" stroke-opacity="0.72"/>
<polyline points="356.5,207.6 357.9,206.6 359.8,206.3 362.1,205.7" stroke="#86603c" stroke-width="0.6" stroke-opacity="0.72"/>
<polyline points="288.0,243.0 286.0,243.3 283.9,244.5 282.3,246.0" stroke="#a08060" stroke-width="0.9" stroke-opacity="0.72"/>
<polyline points="283.2,233.6 282.4,235.1 280.5,236.2 277.8,235.5" stroke="#6a4428" stroke-width="0.6" stroke-opacity="0.72"/>
<polyline points="360.3,257.9 360.2,256.3 360.1,253.6 359.7,251.7" stroke="#7a5030" stroke-width="0.7" stroke-opacity="0.72"/>
<polyline points="376.7,269.4 375.0,267.1 373.3,265.0 371.8,264.5" stroke="#86603c" stroke-width="0.8" stroke-opacity="0.72"/>
<polyline points="339.9,191.5 341.0,190.5 342.4,188.8 343.7,187.5" stroke="#86603c" stroke-width="1.0" stroke-opacity="0.72"/>
<polyline points="325.8,265.4 324.8,263.6 323.4,261.7 322.1,260.8" stroke="#90704c" stroke-width="0.8" stroke-opacity="0.72"/>
<polyline points="391.6,191.6 390.9,189.8 389.7,187.9 387.4,187.6" stroke="#6a4428" stroke-width="0.8" stroke-opacity="0.72"/>
<polyline points="268.8,262.7 268.1,264.8 266.9,266.8 265.7,268.9" stroke="#90704c" stroke-width="0.8" stroke-opacity="0.72"/>
<polyline points="329.5,254.9 331.1,253.8 332.3,251.3 332.1,249.8" stroke="#86603c" stroke-width="0.9" stroke-opacity="0.72"/>
<polyline points="319.6,216.6 319.3,218.5 318.0,220.8 317.9,223.4" stroke="#5a3c22" stroke-width="0.8" stroke-opacity="0.72"/>
<polyline points="338.7,238.6 341.6,238.2 342.9,237.5 344.4,235.4" stroke="#86603c" stroke-width="0.7" stroke-opacity="0.72"/>
<polyline points="279.4,247.3 281.9,248.2 282.9,249.5 284.2,251.3" stroke="#86603c" stroke-width="1.0" stroke-opacity="0.72"/>
<polyline points="374.4,197.3 372.3,198.8 372.1,200.6 370.6,203.0" stroke="#6a4428" stroke-width="0.9" stroke-opacity="0.72"/>
<polyline points="354.8,239.5 352.1,240.6 350.7,242.4 348.5,242.5" stroke="#a08060" stroke-width="0.7" stroke-opacity="0.72"/>
<polyline points="291.5,190.7 294.1,189.2 295.8,189.0 296.8,189.8" stroke="#5a3c22" stroke-width="0.6" stroke-opacity="0.72"/>
<polyline points="298.7,232.9 299.9,233.7 300.6,234.9 301.2,236.4" stroke="#86603c" stroke-width="0.7" stroke-opacity="0.72"/>
<polyline points="330.2,213.6 331.3,211.5 331.0,209.2 332.5,207.4" stroke="#90704c" stroke-width="0.8" stroke-opacity="0.72"/>
<polyline points="269.9,187.8 271.4,189.6 271.2,191.7 270.3,193.4" stroke="#6a4428" stroke-width="0.9" stroke-opacity="0.72"/>
<polyline points="291.4,229.7 289.4,228.4 287.6,226.2 287.4,223.9" stroke="#a08060" stroke-width="0.8" stroke-opacity="0.72"/>
<polyline points="374.1,224.3 371.9,223.3 369.9,222.3 368.6,220.3" stroke="#86603c" stroke-width="0.7" stroke-opacity="0.72"/>
<polyline points="268.8,250.4 269.1,248.5 269.3,246.8 269.5,244.9" stroke="#a08060" stroke-width="0.7" stroke-opacity="0.72"/>
<polyline points="374.8,190.6 375.4,193.4 376.7,195.2 378.7,195.4" stroke="#86603c" stroke-width="0.7" stroke-opacity="0.72"/>
<polyline points="340.6,252.9 341.0,251.5 339.7,248.8 339.4,247.3" stroke="#a08060" stroke-width="0.7" stroke-opacity="0.72"/>
<polyline points="318.2,215.0 320.5,216.0 322.1,218.0 322.6,220.4" stroke="#86603c" stroke-width="0.7" stroke-opacity="0.72"/>
<polyline points="319.6,230.7 318.2,230.2 315.3,230.5 313.0,230.4" stroke="#a08060" stroke-width="0.7" stroke-opacity="0.72"/>
<polyline points="356.1,218.2 355.4,216.6 355.4,214.6 356.3,212.3" stroke="#5a3c22" stroke-width="0.8" stroke-opacity="0.72"/>
<polyline points="351.4,188.7 349.3,190.5 347.9,191.7 345.8,192.8" stroke="#86603c" stroke-width="0.9" stroke-opacity="0.72"/>
<polyline points="349.8,222.5 351.9,221.3 352.5,219.7 353.7,217.6" stroke="#86603c" stroke-width="0.8" stroke-opacity="0.72"/>
<polyline points="365.1,190.6 363.8,189.7 362.4,189.3 361.4,187.9" stroke="#a08060" stroke-width="0.6" stroke-opacity="0.72"/>
<polyline points="358.5,258.5 360.5,257.5 361.4,256.5 361.3,254.8" stroke="#7a5030" stroke-width="0.7" stroke-opacity="0.72"/>
<polyline points="339.7,230.3 340.3,228.4 338.9,225.8 338.7,224.5" stroke="#86603c" stroke-width="0.8" stroke-opacity="0.72"/>
<polyline points="269.0,201.7 268.6,200.1 266.6,198.1 263.9,198.0" stroke="#a08060" stroke-width="0.7" stroke-opacity="0.72"/>
<polyline points="371.1,198.8 373.0,198.5 375.1,198.6 377.1,200.0" stroke="#6a4428" stroke-width="0.6" stroke-opacity="0.72"/>
<polyline points="273.8,247.9 275.0,250.2 274.3,252.6 273.4,255.2" stroke="#a08060" stroke-width="0.6" stroke-opacity="0.72"/>
<polyline points="298.5,202.6 297.0,204.9 295.3,206.5 293.3,206.7" stroke="#5a3c22" stroke-width="1.0" stroke-opacity="0.72"/>
<polyline points="371.0,227.6 371.0,230.0 372.1,232.4 373.1,233.9" stroke="#86603c" stroke-width="1.0" stroke-opacity="0.72"/>
<polyline points="383.3,250.2 382.1,251.6 381.1,253.5 381.7,255.0" stroke="#7a5030" stroke-width="0.7" stroke-opacity="0.72"/>
<polyline points="282.8,232.6 281.2,230.9 279.6,230.5 278.4,229.3" stroke="#86603c" stroke-width="0.9" stroke-opacity="0.72"/>
<polyline points="288.4,258.8 287.9,260.9 285.6,262.6 283.1,262.6" stroke="#6a4428" stroke-width="0.9" stroke-opacity="0.72"/>
<polyline points="326.9,189.0 328.0,191.1 328.1,193.1 326.8,194.5" stroke="#90704c" stroke-width="0.9" stroke-opacity="0.72"/>
<polyline points="350.2,215.1 350.2,216.5 351.2,218.6 350.5,220.2" stroke="#7a5030" stroke-width="0.9" stroke-opacity="0.72"/>
<polyline points="305.1,233.9 304.3,235.4 304.1,237.7 305.5,240.3" stroke="#7a5030" stroke-width="0.7" stroke-opacity="0.72"/>
<polyline points="378.3,198.0 379.3,199.9 378.8,202.1 376.9,203.3" stroke="#5a3c22" stroke-width="0.9" stroke-opacity="0.72"/>
<polyline points="321.9,229.5 321.5,231.1 320.3,232.4 319.8,233.9" stroke="#7a5030" stroke-width="0.6" stroke-opacity="0.72"/>
<polyline points="327.7,201.6 326.8,200.2 326.5,198.5 325.8,196.2" stroke="#90704c" stroke-width="0.7" stroke-opacity="0.72"/>
<polyline points="338.9,257.2 339.4,256.0 339.5,253.8 338.5,252.8" stroke="#86603c" stroke-width="0.8" stroke-opacity="0.72"/>
<polyline points="310.7,227.5 308.0,226.5 306.5,225.3 304.1,224.4" stroke="#6a4428" stroke-width="0.8" stroke-opacity="0.72"/>
<polyline points="318.9,192.1 321.1,193.8 322.7,193.5 324.3,192.6" stroke="#86603c" stroke-width="0.9" stroke-opacity="0.72"/>
<polyline points="386.0,221.4 387.6,220.4 388.3,218.5 389.2,217.0" stroke="#a08060" stroke-width="0.9" stroke-opacity="0.72"/>
<polyline points="328.8,209.9 329.6,211.2 331.4,211.8 333.3,213.5" stroke="#7a5030" stroke-width="0.8" stroke-opacity="0.72"/>
<polyline points="323.2,256.8 325.2,255.2 326.4,253.0 325.6,250.9" stroke="#90704c" stroke-width="0.8" stroke-opacity="0.72"/>
<polyline points="307.9,230.2 308.2,232.2 309.0,234.6 308.4,236.6" stroke="#90704c" stroke-width="0.8" stroke-opacity="0.72"/>
<polyline points="273.4,247.7 274.3,245.4 275.4,243.9 275.1,241.3" stroke="#86603c" stroke-width="0.7" stroke-opacity="0.72"/>
<polyline points="283.8,265.1 285.7,265.2 287.6,266.4 289.6,267.6" stroke="#90704c" stroke-width="0.6" stroke-opacity="0.72"/>
<polyline points="348.8,229.3 349.9,230.4 352.6,231.5 354.3,231.7" stroke="#a08060" stroke-width="0.8" stroke-opacity="0.72"/>
<polyline points="305.5,233.1 303.6,234.3 302.6,236.4 300.4,237.1" stroke="#7a5030" stroke-width="0.7" stroke-opacity="0.72"/>
<polyline points="286.3,186.5 287.7,185.1 289.9,183.9 291.9,183.2" stroke="#90704c" stroke-width="0.8" stroke-opacity="0.72"/>
<polyline points="371.4,190.6 369.9,189.4 368.5,188.5 366.0,187.2" stroke="#6a4428" stroke-width="0.8" stroke-opacity="0.72"/>
<polyline points="385.4,236.2 383.6,237.0 380.9,237.0 378.3,238.1" stroke="#6a4428" stroke-width="0.8" stroke-opacity="0.72"/>
<polyline points="366.8,191.5 368.4,189.3 369.9,186.9 369.6,185.5" stroke="#5a3c22" stroke-width="0.7" stroke-opacity="0.72"/>
<polyline points="318.2,214.2 320.7,215.3 321.7,217.4 321.3,219.6" stroke="#86603c" stroke-width="0.7" stroke-opacity="0.72"/>
<polyline points="388.4,237.9 387.7,239.5 386.9,242.1 387.4,243.5" stroke="#6a4428" stroke-width="0.8" stroke-opacity="0.72"/>
<polyline points="390.7,233.6 392.3,232.5 394.1,232.2 396.5,232.7" stroke="#5a3c22" stroke-width="0.7" stroke-opacity="0.72"/>
<polyline points="361.1,200.8 359.1,201.1 356.8,201.4 354.4,202.5" stroke="#a08060" stroke-width="0.8" stroke-opacity="0.72"/>
<polyline points="346.4,247.5 345.2,249.2 344.2,250.9 343.1,252.3" stroke="#7a5030" stroke-width="0.8" stroke-opacity="0.72"/>
<polyline points="374.4,265.3 376.7,265.3 378.2,263.9 378.0,262.0" stroke="#90704c" stroke-width="0.8" stroke-opacity="0.72"/>
<polyline points="349.6,220.8 351.0,219.6 351.7,217.7 353.3,215.9" stroke="#7a5030" stroke-width="0.6" stroke-opacity="0.72"/>
<polyline points="348.4,268.3 346.3,269.3 344.6,268.8 343.4,267.4" stroke="#7a5030" stroke-width="0.9" stroke-opacity="0.72"/>
<polyline points="303.7,222.9 303.0,221.0 301.1,219.8 299.5,217.3" stroke="#86603c" stroke-width="0.7" stroke-opacity="0.72"/>
<polyline points="321.6,232.1 320.6,229.3 321.4,227.8 320.9,224.9" stroke="#7a5030" stroke-width="1.0" stroke-opacity="0.72"/>
<polyline points="285.3,223.6 282.6,223.5 280.1,223.0 278.1,221.8" stroke="#6a4428" stroke-width="0.7" stroke-opacity="0.72"/>
<polyline points="288.8,206.0 285.9,206.1 284.3,207.6 283.1,208.6" stroke="#86603c" stroke-width="0.9" stroke-opacity="0.72"/>
<polyline points="302.0,248.9 303.3,248.5 304.9,247.9 306.5,246.0" stroke="#6a4428" stroke-width="0.9" stroke-opacity="0.72"/>
<polyline points="305.0,208.7 303.8,209.6 301.1,209.9 299.5,208.9" stroke="#5a3c22" stroke-width="0.9" stroke-opacity="0.72"/>
<polyline points="391.3,230.4 390.8,228.9 389.8,227.3 389.6,225.3" stroke="#86603c" stroke-width="1.0" stroke-opacity="0.72"/>
<polyline points="382.4,202.6 383.9,203.4 386.5,204.0 388.0,204.2" stroke="#7a5030" stroke-width="0.9" stroke-opacity="0.72"/>
<polyline points="369.4,186.6 367.3,186.5 365.5,184.8 364.0,182.4" stroke="#86603c" stroke-width="0.8" stroke-opacity="0.72"/>
<polyline points="272.9,224.6 272.1,222.5 270.6,220.2 268.5,219.1" stroke="#5a3c22" stroke-width="1.0" stroke-opacity="0.72"/>
<polyline points="367.6,217.1 370.0,217.3 372.6,217.4 374.0,219.3" stroke="#6a4428" stroke-width="0.8" stroke-opacity="0.72"/>
<polyline points="342.3,194.2 339.9,192.7 338.3,191.1 336.1,189.3" stroke="#90704c" stroke-width="0.8" stroke-opacity="0.72"/>
<polyline points="371.1,213.0 373.4,213.5 374.6,214.3 377.3,215.1" stroke="#7a5030" stroke-width="0.6" stroke-opacity="0.72"/>
<polyline points="348.8,193.4 347.6,192.2 345.5,191.1 343.6,189.8" stroke="#5a3c22" stroke-width="0.9" stroke-opacity="0.72"/>
<polyline points="350.8,188.5 352.2,187.5 354.9,187.8 357.3,189.5" stroke="#5a3c22" stroke-width="0.8" stroke-opacity="0.72"/>
<polyline points="300.6,200.8 299.8,198.6 298.1,197.3 296.5,195.2" stroke="#a08060" stroke-width="0.9" stroke-opacity="0.72"/>
<polyline points="390.6,233.6 388.9,233.9 387.4,236.5 386.1,238.9" stroke="#6a4428" stroke-width="0.9" stroke-opacity="0.72"/>
<polyline points="299.4,257.3 300.0,255.6 298.9,252.8 300.2,250.4" stroke="#5a3c22" stroke-width="0.8" stroke-opacity="0.72"/>
<polyline points="338.2,213.7 337.0,214.3 336.0,215.7 333.5,216.8" stroke="#86603c" stroke-width="0.6" stroke-opacity="0.72"/>
<polyline points="300.2,267.7 299.9,266.3 300.1,263.9 300.9,261.6" stroke="#5a3c22" stroke-width="0.6" stroke-opacity="0.72"/>
<polyline points="329.3,215.2 329.2,213.6 329.7,211.0 328.6,209.0" stroke="#7a5030" stroke-width="0.7" stroke-opacity="0.72"/>
<polyline points="285.8,259.6 288.1,260.3 289.8,261.0 292.0,260.5" stroke="#7a5030" stroke-width="0.6" stroke-opacity="0.72"/>
<polyline points="341.5,190.8 344.4,190.3 346.2,191.2 346.9,192.5" stroke="#7a5030" stroke-width="0.9" stroke-opacity="0.72"/>
<polyline points="271.3,240.1 272.2,237.5 272.3,235.6 274.5,233.6" stroke="#7a5030" stroke-width="0.7" stroke-opacity="0.72"/>
<polyline points="384.8,217.1 385.5,215.5 385.4,213.0 387.1,211.6" stroke="#6a4428" stroke-width="0.8" stroke-opacity="0.72"/>
<polyline points="358.5,265.0 357.1,264.0 356.4,262.3 357.2,260.8" stroke="#7a5030" stroke-width="0.9" stroke-opacity="0.72"/>
<polyline points="314.6,189.0 314.7,186.2 313.1,184.0 312.1,181.3" stroke="#a08060" stroke-width="0.8" stroke-opacity="0.72"/>
<polyline points="292.1,214.4 292.1,215.9 292.2,218.4 290.6,220.1" stroke="#90704c" stroke-width="0.8" stroke-opacity="0.72"/>
<polyline points="336.2,221.9 336.9,219.0 336.4,217.6 334.7,215.9" stroke="#a08060" stroke-width="0.6" stroke-opacity="0.72"/>
<polyline points="341.8,226.7 339.5,227.9 337.4,229.9 335.7,231.3" stroke="#86603c" stroke-width="1.0" stroke-opacity="0.72"/>
<polyline points="379.8,188.1 380.2,185.5 380.5,182.9 379.7,180.4" stroke="#5a3c22" stroke-width="0.9" stroke-opacity="0.72"/>
<polyline points="314.6,226.7 315.2,224.5 315.5,221.9 316.7,220.1" stroke="#5a3c22" stroke-width="0.9" stroke-opacity="0.72"/>
<polyline points="318.3,193.1 318.7,191.7 319.5,190.0 318.9,188.6" stroke="#6a4428" stroke-width="0.8" stroke-opacity="0.72"/>
<polyline points="311.3,193.7 309.6,194.5 306.8,194.4 304.6,194.9" stroke="#86603c" stroke-width="0.8" stroke-opacity="0.72"/>
<polyline points="390.5,239.9 388.7,237.5 388.6,235.7 388.1,234.4" stroke="#5a3c22" stroke-width="0.7" stroke-opacity="0.72"/>
<polyline points="349.2,205.6 350.5,206.2 352.0,206.7 353.9,208.9" stroke="#90704c" stroke-width="0.6" stroke-opacity="0.72"/>
<polyline points="315.3,246.0 316.5,247.5 319.3,248.1 321.2,249.7" stroke="#86603c" stroke-width="0.8" stroke-opacity="0.72"/>
<polyline points="366.3,223.9 367.9,223.5 370.4,223.0 371.7,222.8" stroke="#7a5030" stroke-width="0.8" stroke-opacity="0.72"/>
<polyline points="334.5,202.3 335.8,204.3 335.5,206.1 335.6,207.9" stroke="#6a4428" stroke-width="0.9" stroke-opacity="0.72"/>
<polyline points="345.4,258.7 344.2,260.1 342.9,261.0 341.5,261.4" stroke="#6a4428" stroke-width="0.7" stroke-opacity="0.72"/>
<polyline points="380.3,239.0 380.1,237.6 381.1,236.6 381.6,234.6" stroke="#90704c" stroke-width="1.0" stroke-opacity="0.72"/>
<polyline points="268.1,197.8 270.5,196.3 271.1,194.1 270.8,192.8" stroke="#86603c" stroke-width="0.7" stroke-opacity="0.72"/>
<polyline points="390.3,218.8 388.6,219.9 387.8,222.4 387.2,223.8" stroke="#90704c" stroke-width="0.7" stroke-opacity="0.72"/>
<polyline points="270.2,190.4 270.4,192.4 268.9,194.5 267.0,196.4" stroke="#6a4428" stroke-width="0.9" stroke-opacity="0.72"/>
<polyline points="271.3,233.2 269.1,232.4 267.3,232.6 265.6,233.3" stroke="#90704c" stroke-width="0.6" stroke-opacity="0.72"/>
<polyline points="338.2,202.2 336.6,201.9 334.8,203.0 334.2,205.7" stroke="#86603c" stroke-width="0.6" stroke-opacity="0.72"/>
<polyline points="367.1,257.3 369.1,258.1 371.7,257.7 374.4,257.5" stroke="#6a4428" stroke-width="1.0" stroke-opacity="0.72"/>
<polyline points="349.8,260.2 351.9,260.4 353.9,260.7 355.6,262.2" stroke="#5a3c22" stroke-width="0.7" stroke-opacity="0.72"/>
<polyline points="317.5,218.8 317.1,216.0 317.8,214.6 320.0,213.6" stroke="#86603c" stroke-width="0.6" stroke-opacity="0.72"/>
<polyline points="319.4,235.8 321.3,238.0 322.5,240.3 321.9,242.3" stroke="#90704c" stroke-width="0.6" stroke-opacity="0.72"/>
<polyline points="308.9,189.2 310.3,187.2 311.0,185.1 311.4,183.3" stroke="#5a3c22" stroke-width="0.9" stroke-opacity="0.72"/>
<polyline points="328.2,218.6 329.6,217.5 329.6,216.0 330.2,213.6" stroke="#7a5030" stroke-width="0.7" stroke-opacity="0.72"/>
<polyline points="277.1,224.7 274.2,224.9 272.1,223.6 270.4,221.4" stroke="#6a4428" stroke-width="0.8" stroke-opacity="0.72"/>
<polyline points="337.3,265.3 338.4,264.5 339.6,262.6 341.4,260.8" stroke="#6a4428" stroke-width="0.8" stroke-opacity="0.72"/>
<polyline points="309.7,258.1 309.0,260.8 310.0,262.6 311.4,263.4" stroke="#7a5030" stroke-width="0.7" stroke-opacity="0.72"/>
<polyline points="316.4,200.8 318.7,201.0 321.1,199.7 322.7,197.3" stroke="#a08060" stroke-width="0.8" stroke-opacity="0.72"/>
<polyline points="386.8,202.1 388.1,203.6 389.7,204.9 391.6,206.1" stroke="#6a4428" stroke-width="0.6" stroke-opacity="0.72"/>
<polyline points="371.0,249.7 372.7,251.9 374.1,253.6 375.1,254.9" stroke="#5a3c22" stroke-width="0.9" stroke-opacity="0.72"/>
<polyline points="302.7,215.5 303.6,213.4 303.6,211.5 303.9,208.7" stroke="#a08060" stroke-width="0.8" stroke-opacity="0.72"/>
<polyline points="300.1,258.4 301.4,259.9 303.8,260.9 305.6,262.1" stroke="#7a5030" stroke-width="0.9" stroke-opacity="0.72"/>
<polyline points="280.8,198.9 280.4,200.4 279.6,202.7 278.5,203.6" stroke="#6a4428" stroke-width="0.8" stroke-opacity="0.72"/>
<polyline points="378.1,240.5 377.2,242.2 376.7,244.1 375.8,245.7" stroke="#7a5030" stroke-width="0.9" stroke-opacity="0.72"/>
<polyline points="322.2,215.7 319.6,215.9 317.9,216.3 316.9,217.3" stroke="#86603c" stroke-width="1.0" stroke-opacity="0.72"/>
<polyline points="275.4,236.4 278.4,236.3 280.3,234.7 281.9,234.7" stroke="#7a5030" stroke-width="0.8" stroke-opacity="0.72"/>
<polyline points="355.1,216.5 353.6,215.8 352.0,216.1 349.7,215.3" stroke="#5a3c22" stroke-width="0.8" stroke-opacity="0.72"/>
<polyline points="355.0,188.9 356.5,189.3 357.7,191.0 358.6,192.8" stroke="#86603c" stroke-width="1.0" stroke-opacity="0.72"/>
<polyline points="379.5,192.9 378.5,190.2 377.9,188.2 376.9,187.3" stroke="#6a4428" stroke-width="0.7" stroke-opacity="0.72"/>
<polyline points="291.3,225.1 290.8,222.7 291.8,220.5 293.2,218.1" stroke="#a08060" stroke-width="0.8" stroke-opacity="0.72"/>
<polyline points="297.2,247.8 296.3,248.8 294.1,249.9 292.4,251.8" stroke="#6a4428" stroke-width="0.9" stroke-opacity="0.72"/>
<polyline points="321.9,235.7 321.2,233.0 321.8,230.6 322.8,229.5" stroke="#a08060" stroke-width="0.8" stroke-opacity="0.72"/>
<polyline points="352.8,241.3 350.1,241.5 349.1,240.5 349.2,237.8" stroke="#90704c" stroke-width="0.8" stroke-opacity="0.72"/>
<polyline points="388.5,200.9 386.6,198.8 384.3,197.7 382.0,197.0" stroke="#90704c" stroke-width="0.8" stroke-opacity="0.72"/>
<polyline points="303.7,254.9 303.0,253.7 303.3,251.5 304.2,248.8" stroke="#86603c" stroke-width="0.7" stroke-opacity="0.72"/>
<polyline points="316.1,269.9 318.5,270.3 320.9,270.8 323.6,271.9" stroke="#5a3c22" stroke-width="0.7" stroke-opacity="0.72"/>
<polyline points="328.1,188.8 325.6,187.7 324.9,185.9 322.4,184.4" stroke="#6a4428" stroke-width="0.9" stroke-opacity="0.72"/>
<polyline points="382.5,257.6 381.3,258.8 380.9,260.5 382.1,263.1" stroke="#a08060" stroke-width="0.6" stroke-opacity="0.72"/>
<polyline points="349.2,189.7 347.7,189.7 345.4,188.0 345.2,185.6" stroke="#7a5030" stroke-width="0.7" stroke-opacity="0.72"/>
<polyline points="338.8,260.4 339.1,257.7 339.0,255.5 340.2,253.4" stroke="#86603c" stroke-width="0.8" stroke-opacity="0.72"/>
<polyline points="275.8,239.5 277.8,237.7 278.7,235.8 277.7,233.6" stroke="#a08060" stroke-width="0.7" stroke-opacity="0.72"/>
<polyline points="305.1,265.3 307.2,265.6 309.8,264.2 311.0,262.2" stroke="#7a5030" stroke-width="0.8" stroke-opacity="0.72"/>
<polyline points="377.7,265.8 376.4,266.5 374.3,267.8 373.2,269.5" stroke="#7a5030" stroke-width="0.7" stroke-opacity="0.72"/>
<polyline points="344.6,233.4 345.3,231.1 346.0,228.7 346.2,226.8" stroke="#90704c" stroke-width="0.8" stroke-opacity="0.72"/>
<polyline points="298.3,230.8 296.8,228.3 294.6,226.9 292.9,226.4" stroke="#6a4428" stroke-width="1.0" stroke-opacity="0.72"/>
<polyline points="363.5,197.9 361.9,195.8 360.5,195.0 359.0,194.4" stroke="#a08060" stroke-width="0.8" stroke-opacity="0.72"/>
<polyline points="331.8,266.9 333.0,268.3 333.7,270.1 335.6,271.9" stroke="#6a4428" stroke-width="0.7" stroke-opacity="0.72"/>
<polyline points="382.4,262.7 381.1,263.0 378.8,261.7 377.7,260.3" stroke="#7a5030" stroke-width="0.6" stroke-opacity="0.72"/>
<polyline points="353.0,244.5 351.4,244.9 349.0,243.3 347.2,242.8" stroke="#5a3c22" stroke-width="0.7" stroke-opacity="0.72"/>
<polyline points="340.6,244.7 342.3,244.9 343.8,244.7 346.3,245.8" stroke="#7a5030" stroke-width="0.8" stroke-opacity="0.72"/>
<polyline points="377.1,251.7 375.3,250.3 373.0,250.7 370.8,252.4" stroke="#5a3c22" stroke-width="0.9" stroke-opacity="0.72"/>
<polyline points="319.9,238.8 322.2,238.3 324.1,239.2 324.9,241.2" stroke="#5a3c22" stroke-width="1.0" stroke-opacity="0.72"/>
<polyline points="347.8,200.0 347.2,197.7 348.7,195.5 350.5,194.9" stroke="#7a5030" stroke-width="0.7" stroke-opacity="0.72"/>
<polyline points="348.0,211.8 349.6,212.8 351.5,213.0 352.9,214.8" stroke="#5a3c22" stroke-width="0.7" stroke-opacity="0.72"/>
<polyline points="287.0,208.4 288.7,208.7 290.0,210.3 291.1,212.9" stroke="#a08060" stroke-width="0.7" stroke-opacity="0.72"/>
<polyline points="383.2,189.1 382.8,187.2 382.5,185.4 382.0,184.0" stroke="#90704c" stroke-width="1.0" stroke-opacity="0.78"/>
<polyline points="349.4,212.9 347.8,214.4 346.1,214.3 344.7,215.6" stroke="#a08060" stroke-width="0.9" stroke-opacity="0.78"/>
<polyline points="340.1,209.8 341.3,207.8 341.3,205.1 340.7,203.6" stroke="#6a4428" stroke-width="0.9" stroke-opacity="0.78"/>
<polyline points="382.2,202.6 382.8,200.9 384.1,200.3 385.3,198.7" stroke="#90704c" stroke-width="0.9" stroke-opacity="0.78"/>
<polyline points="342.2,201.8 343.1,203.6 343.6,206.2 345.5,208.4" stroke="#5a3c22" stroke-width="1.0" stroke-opacity="0.78"/>
<polyline points="378.1,199.3 377.5,200.5 378.5,203.0 379.9,204.0" stroke="#5a3c22" stroke-width="1.0" stroke-opacity="0.78"/>
<polyline points="348.3,196.0 350.0,195.6 351.0,194.6 351.8,193.5" stroke="#90704c" stroke-width="0.8" stroke-opacity="0.78"/>
<polyline points="373.6,197.2 373.2,198.8 374.1,201.1 374.6,203.1" stroke="#90704c" stroke-width="1.0" stroke-opacity="0.78"/>
<polyline points="343.2,199.0 344.7,197.5 347.1,196.0 348.6,196.0" stroke="#5a3c22" stroke-width="1.0" stroke-opacity="0.78"/>
<polyline points="341.5,194.0 340.1,192.7 339.3,191.1 338.4,189.6" stroke="#5a3c22" stroke-width="0.8" stroke-opacity="0.78"/>
<polyline points="347.5,195.0 349.2,193.2 350.4,191.0 351.3,189.5" stroke="#7a5030" stroke-width="0.9" stroke-opacity="0.78"/>
<polyline points="331.3,193.9 332.5,195.0 333.8,197.0 335.0,198.2" stroke="#a08060" stroke-width="0.8" stroke-opacity="0.78"/>
<polyline points="332.5,188.9 333.7,190.6 333.3,192.5 332.0,194.0" stroke="#7a5030" stroke-width="0.8" stroke-opacity="0.78"/>
<polyline points="346.8,211.1 345.1,212.7 344.8,214.1 345.4,216.6" stroke="#7a5030" stroke-width="0.9" stroke-opacity="0.78"/>
<polyline points="348.5,195.3 350.7,194.3 352.6,193.5 354.6,194.1" stroke="#86603c" stroke-width="1.1" stroke-opacity="0.78"/>
<polyline points="373.2,208.5 374.2,207.0 373.9,204.1 372.6,202.7" stroke="#86603c" stroke-width="0.9" stroke-opacity="0.78"/>
<polyline points="372.3,191.3 372.2,189.0 371.1,187.7 370.4,185.9" stroke="#a08060" stroke-width="0.8" stroke-opacity="0.78"/>
<polyline points="367.2,206.7 366.3,209.2 366.9,211.5 367.7,214.3" stroke="#6a4428" stroke-width="0.9" stroke-opacity="0.78"/>
<polyline points="370.8,208.6 370.7,210.9 372.1,212.0 372.5,213.4" stroke="#86603c" stroke-width="1.0" stroke-opacity="0.78"/>
<polyline points="338.9,189.8 340.6,191.8 343.4,192.2 344.4,193.5" stroke="#5a3c22" stroke-width="0.8" stroke-opacity="0.78"/>
<polyline points="353.6,210.9 355.6,211.6 358.0,211.0 359.3,209.9" stroke="#90704c" stroke-width="1.0" stroke-opacity="0.78"/>
<polyline points="338.8,195.0 340.6,197.2 340.3,200.1 340.7,201.9" stroke="#a08060" stroke-width="0.9" stroke-opacity="0.78"/>
<polyline points="356.0,203.0 353.6,201.4 352.4,200.5 351.9,198.0" stroke="#86603c" stroke-width="0.8" stroke-opacity="0.78"/>
<polyline points="370.5,213.7 369.5,215.0 368.3,215.6 366.4,217.1" stroke="#7a5030" stroke-width="1.0" stroke-opacity="0.78"/>
<polyline points="358.0,198.1 359.9,199.0 361.6,199.1 363.3,199.5" stroke="#a08060" stroke-width="0.7" stroke-opacity="0.78"/>
<polyline points="343.6,199.5 342.8,201.5 343.5,203.0 343.6,204.8" stroke="#86603c" stroke-width="0.9" stroke-opacity="0.78"/>
<polyline points="355.7,215.0 353.5,216.0 352.8,217.2 352.2,218.7" stroke="#6a4428" stroke-width="0.9" stroke-opacity="0.78"/>
<polyline points="385.6,198.0 385.2,195.6 385.5,193.6 384.5,190.8" stroke="#90704c" stroke-width="1.0" stroke-opacity="0.78"/>
<polyline points="387.9,205.6 387.5,207.0 386.3,207.9 384.6,208.0" stroke="#7a5030" stroke-width="0.8" stroke-opacity="0.78"/>
<polyline points="389.6,198.3 392.1,198.1 394.1,197.4 395.6,195.8" stroke="#7a5030" stroke-width="1.1" stroke-opacity="0.78"/>
<polyline points="387.2,192.6 386.3,194.2 384.1,196.0 381.4,196.3" stroke="#90704c" stroke-width="0.9" stroke-opacity="0.78"/>
<polyline points="360.4,208.5 362.0,206.1 362.9,205.0 362.7,203.2" stroke="#90704c" stroke-width="1.0" stroke-opacity="0.78"/>
<polyline points="357.4,190.2 357.9,188.9 360.5,187.8 362.4,186.2" stroke="#a08060" stroke-width="0.8" stroke-opacity="0.78"/>
<polyline points="388.7,193.1 387.2,193.2 385.9,193.4 384.4,194.7" stroke="#a08060" stroke-width="0.7" stroke-opacity="0.78"/>
<polyline points="356.7,210.7 354.9,211.2 352.9,209.8 351.5,207.3" stroke="#7a5030" stroke-width="1.1" stroke-opacity="0.78"/>
<polyline points="333.1,188.5 334.5,191.1 337.0,191.7 339.7,192.5" stroke="#6a4428" stroke-width="1.0" stroke-opacity="0.78"/>
<polyline points="345.0,212.6 346.2,214.2 348.6,215.7 350.3,216.7" stroke="#86603c" stroke-width="1.0" stroke-opacity="0.78"/>
<polyline points="375.1,194.2 374.0,193.4 372.9,190.6 371.9,188.2" stroke="#7a5030" stroke-width="1.1" stroke-opacity="0.78"/>
<polyline points="388.7,211.9 390.9,213.6 393.3,214.1 396.1,215.0" stroke="#5a3c22" stroke-width="0.8" stroke-opacity="0.78"/>
<polyline points="371.7,213.9 374.1,215.4 374.5,216.9 376.2,217.6" stroke="#86603c" stroke-width="0.8" stroke-opacity="0.78"/>
<polyline points="383.9,206.9 386.3,208.5 388.1,209.4 389.5,210.9" stroke="#86603c" stroke-width="1.0" stroke-opacity="0.78"/>
<polyline points="351.0,211.9 352.3,213.1 353.0,214.4 354.3,214.8" stroke="#90704c" stroke-width="1.1" stroke-opacity="0.78"/>
<polyline points="330.2,209.2 329.2,211.7 327.2,213.8 326.4,216.5" stroke="#90704c" stroke-width="0.8" stroke-opacity="0.78"/>
<polyline points="373.4,192.4 376.3,192.5 378.5,190.6 380.3,190.6" stroke="#86603c" stroke-width="1.0" stroke-opacity="0.78"/>
<polyline points="362.2,209.4 361.4,207.6 361.9,206.1 360.8,203.5" stroke="#a08060" stroke-width="1.0" stroke-opacity="0.78"/>
<polyline points="359.6,190.1 358.6,191.2 357.0,192.1 354.7,192.0" stroke="#5a3c22" stroke-width="0.9" stroke-opacity="0.78"/>
<polyline points="365.9,189.9 367.4,187.8 367.9,186.4 368.0,184.7" stroke="#86603c" stroke-width="0.9" stroke-opacity="0.78"/>
<polyline points="387.1,191.8 386.8,193.2 385.5,194.4 384.0,194.2" stroke="#a08060" stroke-width="0.9" stroke-opacity="0.78"/>
<polyline points="386.3,207.1 384.7,206.2 383.4,205.6 380.7,204.4" stroke="#90704c" stroke-width="0.8" stroke-opacity="0.78"/>
<polyline points="352.5,190.4 350.0,190.6 348.2,191.7 345.6,192.7" stroke="#86603c" stroke-width="0.9" stroke-opacity="0.78"/>
<polyline points="341.1,207.1 342.2,208.4 343.5,210.4 344.3,211.8" stroke="#7a5030" stroke-width="0.7" stroke-opacity="0.78"/>
<polyline points="386.6,202.4 388.8,201.8 390.3,202.2 392.2,201.9" stroke="#a08060" stroke-width="0.8" stroke-opacity="0.78"/>
<polyline points="345.4,214.3 343.2,214.8 341.2,214.0 340.0,212.6" stroke="#86603c" stroke-width="1.0" stroke-opacity="0.78"/>
<polyline points="374.5,198.5 375.1,196.1 376.0,193.8 375.3,192.5" stroke="#6a4428" stroke-width="0.8" stroke-opacity="0.78"/>
<polyline points="367.8,194.6 370.7,195.4 372.5,194.9 374.4,195.7" stroke="#90704c" stroke-width="0.9" stroke-opacity="0.78"/>
<polyline points="360.6,206.8 359.2,207.3 356.9,209.2 355.2,211.1" stroke="#5a3c22" stroke-width="1.1" stroke-opacity="0.78"/>
<polyline points="368.6,212.9 366.0,213.0 363.6,214.5 363.3,216.3" stroke="#5a3c22" stroke-width="1.1" stroke-opacity="0.78"/>
<polyline points="381.3,208.4 379.8,206.3 377.9,205.5 376.4,205.6" stroke="#a08060" stroke-width="1.0" stroke-opacity="0.78"/>
<polyline points="388.6,207.0 387.7,208.2 388.0,210.4 389.6,212.1" stroke="#7a5030" stroke-width="1.0" stroke-opacity="0.78"/>
<polyline points="362.6,207.5 360.9,206.2 358.9,206.7 356.9,205.2" stroke="#86603c" stroke-width="0.9" stroke-opacity="0.78"/>
<polyline points="321.8,246.3 323.5,245.2 326.2,245.5 327.5,247.4" stroke="#86603c" stroke-width="0.8" stroke-opacity="0.78"/>
<polyline points="326.6,243.2 324.3,244.1 322.1,246.1 320.4,246.2" stroke="#86603c" stroke-width="0.8" stroke-opacity="0.78"/>
<polyline points="309.4,260.5 309.8,259.2 310.1,257.5 309.2,256.2" stroke="#90704c" stroke-width="1.0" stroke-opacity="0.78"/>
<polyline points="347.7,266.8 347.6,268.1 346.4,269.0 344.5,270.7" stroke="#86603c" stroke-width="1.0" stroke-opacity="0.78"/>
<polyline points="333.2,259.2 330.9,258.1 328.4,257.0 327.0,257.3" stroke="#a08060" stroke-width="0.8" stroke-opacity="0.78"/>
<polyline points="302.2,268.8 301.3,267.2 300.8,265.5 301.0,263.9" stroke="#86603c" stroke-width="1.1" stroke-opacity="0.78"/>
<polyline points="320.3,263.7 320.5,260.7 320.3,258.9 321.0,257.4" stroke="#6a4428" stroke-width="1.0" stroke-opacity="0.78"/>
<polyline points="315.9,255.8 313.7,256.1 311.2,256.7 309.1,255.9" stroke="#5a3c22" stroke-width="0.7" stroke-opacity="0.78"/>
<polyline points="352.4,256.5 351.1,254.0 350.2,253.0 348.0,251.3" stroke="#86603c" stroke-width="0.8" stroke-opacity="0.78"/>
<polyline points="300.5,253.7 300.1,255.1 299.8,257.3 298.9,258.4" stroke="#5a3c22" stroke-width="0.8" stroke-opacity="0.78"/>
<polyline points="355.1,263.5 356.6,263.7 358.8,263.3 361.0,262.1" stroke="#7a5030" stroke-width="0.9" stroke-opacity="0.78"/>
<polyline points="309.5,244.7 308.5,242.2 307.7,239.4 307.0,237.4" stroke="#90704c" stroke-width="0.9" stroke-opacity="0.78"/>
<polyline points="321.8,262.3 320.2,262.1 317.8,261.0 316.1,261.8" stroke="#a08060" stroke-width="1.0" stroke-opacity="0.78"/>
<polyline points="312.4,262.5 313.5,260.0 312.8,258.0 312.2,256.1" stroke="#a08060" stroke-width="1.0" stroke-opacity="0.78"/>
<polyline points="332.7,258.7 331.7,257.2 329.4,256.4 326.5,256.0" stroke="#86603c" stroke-width="0.9" stroke-opacity="0.78"/>
<polyline points="308.4,246.3 310.7,244.3 310.8,241.8 311.5,240.1" stroke="#a08060" stroke-width="0.9" stroke-opacity="0.78"/>
<polyline points="346.6,267.2 347.8,269.7 347.2,272.1 345.9,274.6" stroke="#6a4428" stroke-width="0.7" stroke-opacity="0.78"/>
<polyline points="351.4,259.3 352.8,258.6 353.8,257.3 355.6,256.8" stroke="#86603c" stroke-width="1.0" stroke-opacity="0.78"/>
<polyline points="321.3,263.9 323.1,263.2 325.5,261.9 326.8,261.2" stroke="#6a4428" stroke-width="1.1" stroke-opacity="0.78"/>
<polyline points="303.4,251.8 305.0,251.5 307.5,252.7 310.2,253.8" stroke="#6a4428" stroke-width="0.8" stroke-opacity="0.78"/>
<polyline points="348.2,257.9 348.1,255.8 346.9,254.8 346.9,252.4" stroke="#6a4428" stroke-width="1.0" stroke-opacity="0.78"/>
<polyline points="315.1,246.8 317.5,245.4 319.0,244.6 319.5,242.9" stroke="#6a4428" stroke-width="1.0" stroke-opacity="0.78"/>
<polyline points="314.2,262.3 314.8,264.3 317.2,265.8 319.2,265.8" stroke="#a08060" stroke-width="0.8" stroke-opacity="0.78"/>
<polyline points="348.9,242.3 348.1,244.0 348.4,245.8 350.0,248.2" stroke="#90704c" stroke-width="1.1" stroke-opacity="0.78"/>
<polyline points="318.0,242.9 317.9,240.5 315.9,238.3 313.6,236.6" stroke="#6a4428" stroke-width="1.1" stroke-opacity="0.78"/>
<polyline points="341.6,253.6 342.9,256.1 342.7,257.7 341.4,259.6" stroke="#7a5030" stroke-width="0.8" stroke-opacity="0.78"/>
<polyline points="341.9,261.7 341.6,260.3 342.6,257.6 342.1,256.3" stroke="#5a3c22" stroke-width="0.8" stroke-opacity="0.78"/>
<polyline points="324.4,252.8 321.8,252.7 319.9,252.1 317.3,253.6" stroke="#a08060" stroke-width="0.8" stroke-opacity="0.78"/>
<polyline points="349.6,255.0 350.8,252.5 352.5,251.6 355.2,251.8" stroke="#a08060" stroke-width="0.8" stroke-opacity="0.78"/>
<polyline points="356.5,260.8 356.4,257.9 355.5,255.4 356.3,253.9" stroke="#6a4428" stroke-width="1.0" stroke-opacity="0.78"/>
<polyline points="349.9,257.3 348.0,258.9 346.0,258.9 344.3,257.1" stroke="#5a3c22" stroke-width="1.0" stroke-opacity="0.78"/>
<polyline points="327.3,264.3 329.6,264.7 331.0,263.7 331.6,262.3" stroke="#5a3c22" stroke-width="0.9" stroke-opacity="0.78"/>
<polyline points="321.1,266.3 322.5,267.9 322.6,270.2 323.5,271.9" stroke="#86603c" stroke-width="1.1" stroke-opacity="0.78"/>
<polyline points="322.4,267.1 323.3,265.5 323.4,263.0 324.4,261.2" stroke="#6a4428" stroke-width="0.9" stroke-opacity="0.78"/>
<polyline points="350.1,252.4 347.6,251.3 345.4,251.5 343.8,252.0" stroke="#7a5030" stroke-width="1.0" stroke-opacity="0.78"/>
<polyline points="336.8,252.2 335.5,251.3 333.0,250.9 330.3,251.5" stroke="#5a3c22" stroke-width="1.0" stroke-opacity="0.78"/>
<polyline points="301.0,248.9 302.6,250.2 302.9,252.4 301.2,254.8" stroke="#6a4428" stroke-width="0.9" stroke-opacity="0.78"/>
<polyline points="341.4,261.2 340.7,263.4 339.1,264.6 336.8,264.7" stroke="#86603c" stroke-width="0.8" stroke-opacity="0.78"/>
<polyline points="359.2,240.8 356.7,241.4 354.9,243.3 352.9,245.4" stroke="#6a4428" stroke-width="1.1" stroke-opacity="0.78"/>
<polyline points="329.7,268.2 332.1,268.6 334.0,267.6 336.3,266.9" stroke="#5a3c22" stroke-width="1.1" stroke-opacity="0.78"/>
<polyline points="304.7,243.9 304.5,241.0 304.9,238.2 304.7,236.0" stroke="#7a5030" stroke-width="1.1" stroke-opacity="0.78"/>
<polyline points="308.0,262.0 309.8,263.7 311.5,264.3 314.3,264.7" stroke="#5a3c22" stroke-width="0.9" stroke-opacity="0.78"/>
<polyline points="326.3,249.5 327.8,248.9 328.9,247.1 330.7,245.3" stroke="#5a3c22" stroke-width="1.1" stroke-opacity="0.78"/>
<polyline points="328.3,241.4 326.2,241.0 323.4,240.8 320.7,239.6" stroke="#7a5030" stroke-width="1.1" stroke-opacity="0.78"/>
<polyline points="314.0,262.6 313.0,259.8 311.4,258.5 309.9,257.7" stroke="#90704c" stroke-width="0.7" stroke-opacity="0.78"/>
<polyline points="339.3,250.4 340.3,248.6 342.0,247.6 343.4,246.8" stroke="#7a5030" stroke-width="0.8" stroke-opacity="0.78"/>
<polyline points="322.9,243.2 324.0,241.4 325.1,239.7 326.6,239.3" stroke="#5a3c22" stroke-width="1.0" stroke-opacity="0.78"/>
<polyline points="351.1,245.5 349.4,246.1 347.9,247.6 347.1,250.3" stroke="#86603c" stroke-width="0.9" stroke-opacity="0.78"/>
<polyline points="317.5,248.7 314.8,248.1 313.0,246.2 311.0,245.9" stroke="#86603c" stroke-width="0.8" stroke-opacity="0.78"/>
<polyline points="343.5,243.2 343.5,241.4 344.6,240.3 346.4,240.3" stroke="#86603c" stroke-width="0.8" stroke-opacity="0.78"/>
<polyline points="329.5,243.0 332.3,243.2 334.1,245.5 335.2,246.8" stroke="#86603c" stroke-width="0.8" stroke-opacity="0.78"/>
<polyline points="329.1,245.0 329.9,247.5 329.9,249.2 328.2,250.8" stroke="#86603c" stroke-width="1.0" stroke-opacity="0.78"/>
<polyline points="327.8,253.6 326.8,256.4 326.8,257.8 328.0,259.3" stroke="#a08060" stroke-width="1.0" stroke-opacity="0.78"/>
<polyline points="359.8,244.1 359.2,246.2 358.8,248.1 358.2,250.1" stroke="#86603c" stroke-width="1.0" stroke-opacity="0.78"/>
<polyline points="350.3,243.3 348.8,240.9 347.3,240.4 346.3,238.8" stroke="#5a3c22" stroke-width="1.1" stroke-opacity="0.78"/>
<polyline points="333.4,267.5 334.8,268.0 335.7,269.2 337.7,270.6" stroke="#90704c" stroke-width="1.0" stroke-opacity="0.78"/>
<polyline points="325.0,251.4 322.3,251.3 319.7,251.5 317.6,251.8" stroke="#90704c" stroke-width="0.9" stroke-opacity="0.78"/>
<polyline points="308.0,257.5 307.7,259.3 306.5,260.6 305.2,261.4" stroke="#7a5030" stroke-width="1.0" stroke-opacity="0.78"/>
<polyline points="302.1,265.5 302.3,267.6 300.7,269.0 299.5,269.9" stroke="#a08060" stroke-width="0.9" stroke-opacity="0.78"/>
<polyline points="301.6,247.0 303.0,245.5 303.8,243.9 303.3,241.7" stroke="#7a5030" stroke-width="0.9" stroke-opacity="0.78"/>
<polyline points="292.5,198.0 293.9,195.5 295.4,194.7 297.3,193.9" stroke="#86603c" stroke-width="0.9" stroke-opacity="0.78"/>
<polyline points="282.3,188.0 281.2,189.6 278.9,190.4 276.6,189.2" stroke="#86603c" stroke-width="0.7" stroke-opacity="0.78"/>
<polyline points="284.9,202.0 286.3,200.5 286.5,198.3 287.0,195.7" stroke="#86603c" stroke-width="0.8" stroke-opacity="0.78"/>
<polyline points="272.8,200.5 275.1,202.1 276.3,203.8 278.4,205.7" stroke="#90704c" stroke-width="0.9" stroke-opacity="0.78"/>
<polyline points="280.7,188.5 282.5,189.0 283.8,188.7 284.7,187.4" stroke="#5a3c22" stroke-width="0.7" stroke-opacity="0.78"/>
<polyline points="273.5,203.2 274.9,202.1 276.8,200.4 277.8,199.0" stroke="#86603c" stroke-width="1.0" stroke-opacity="0.78"/>
<polyline points="285.9,203.4 285.3,202.1 284.6,200.6 283.4,199.9" stroke="#7a5030" stroke-width="0.9" stroke-opacity="0.78"/>
<polyline points="293.7,201.2 293.7,198.5 293.5,195.7 294.2,192.9" stroke="#86603c" stroke-width="0.9" stroke-opacity="0.78"/>
<polyline points="276.2,201.4 275.3,199.5 273.6,198.8 272.1,198.4" stroke="#86603c" stroke-width="0.8" stroke-opacity="0.78"/>
<polyline points="269.1,190.4 268.7,191.7 266.6,192.9 264.9,192.7" stroke="#90704c" stroke-width="1.0" stroke-opacity="0.78"/>
<polyline points="288.9,200.7 288.1,197.9 288.9,196.1 288.4,193.2" stroke="#6a4428" stroke-width="0.9" stroke-opacity="0.78"/>
<polyline points="284.6,200.0 283.9,197.2 284.9,195.2 285.0,193.2" stroke="#5a3c22" stroke-width="0.8" stroke-opacity="0.78"/>
<polyline points="278.8,189.9 277.4,190.9 276.3,192.0 273.4,191.9" stroke="#90704c" stroke-width="0.8" stroke-opacity="0.78"/>
<polyline points="279.1,188.7 281.6,188.0 284.0,187.3 286.0,188.2" stroke="#90704c" stroke-width="0.7" stroke-opacity="0.78"/>
<polyline points="274.4,200.2 276.3,200.8 277.2,202.6 278.8,204.2" stroke="#6a4428" stroke-width="0.8" stroke-opacity="0.78"/>
<polyline points="271.9,189.5 271.7,191.0 270.4,192.4 269.8,194.2" stroke="#a08060" stroke-width="0.8" stroke-opacity="0.78"/>
<polyline points="297.2,203.3 295.3,201.2 294.6,198.5 293.9,196.7" stroke="#90704c" stroke-width="0.8" stroke-opacity="0.78"/>
<polyline points="278.3,198.2 280.5,198.5 282.0,198.4 284.0,198.8" stroke="#a08060" stroke-width="1.1" stroke-opacity="0.78"/>
<polyline points="296.5,198.0 298.4,198.1 301.0,199.1 303.2,197.9" stroke="#86603c" stroke-width="0.8" stroke-opacity="0.78"/>
<polyline points="272.3,190.3 274.0,189.3 274.6,186.9 273.7,184.9" stroke="#7a5030" stroke-width="1.0" stroke-opacity="0.78"/>
<polyline points="295.6,192.4 297.4,192.9 299.1,192.9 300.7,191.7" stroke="#5a3c22" stroke-width="1.0" stroke-opacity="0.78"/>
<polyline points="284.9,197.0 284.8,195.5 284.1,193.0 283.3,191.6" stroke="#a08060" stroke-width="0.7" stroke-opacity="0.78"/>
<polyline points="298.9,196.9 297.9,195.0 297.8,193.2 298.1,190.4" stroke="#90704c" stroke-width="1.0" stroke-opacity="0.78"/>
<polyline points="295.0,200.5 293.4,199.4 292.2,198.5 291.2,197.4" stroke="#6a4428" stroke-width="1.0" stroke-opacity="0.78"/>
<polyline points="281.5,188.9 281.9,190.3 280.6,192.9 279.2,194.8" stroke="#86603c" stroke-width="1.0" stroke-opacity="0.78"/>
<polyline points="291.1,200.8 292.3,199.2 294.4,198.0 296.8,196.1" stroke="#6a4428" stroke-width="0.8" stroke-opacity="0.78"/>
<polyline points="286.6,197.6 289.1,198.9 290.6,198.9 293.3,198.8" stroke="#a08060" stroke-width="0.8" stroke-opacity="0.78"/>
<polyline points="289.5,195.4 288.3,197.0 287.9,199.7 289.1,201.8" stroke="#86603c" stroke-width="0.7" stroke-opacity="0.78"/>
<polyline points="285.0,204.2 284.2,206.2 283.1,207.6 280.3,207.9" stroke="#90704c" stroke-width="0.8" stroke-opacity="0.78"/>
<polyline points="297.7,202.6 298.2,200.6 299.2,199.4 300.8,198.6" stroke="#a08060" stroke-width="0.7" stroke-opacity="0.78"/>
<polyline points="277.5,191.8 276.8,190.0 277.2,188.6 278.3,187.0" stroke="#86603c" stroke-width="0.8" stroke-opacity="0.78"/>
<polyline points="294.3,197.4 292.5,197.2 291.3,198.2 290.4,199.8" stroke="#7a5030" stroke-width="0.9" stroke-opacity="0.78"/>
<polyline points="287.1,202.8 288.5,204.2 289.8,205.6 289.5,207.7" stroke="#6a4428" stroke-width="0.9" stroke-opacity="0.78"/>
<polyline points="290.7,196.2 287.8,196.7 285.6,196.0 284.0,197.0" stroke="#5a3c22" stroke-width="0.7" stroke-opacity="0.78"/>
<polyline points="296.4,195.5 298.8,196.7 300.8,196.1 302.9,196.1" stroke="#86603c" stroke-width="0.7" stroke-opacity="0.78"/>
<polyline points="276.8,198.8 274.4,199.1 271.7,199.1 270.0,199.6" stroke="#90704c" stroke-width="1.0" stroke-opacity="0.78"/>
<polyline points="273.7,188.4 273.4,186.8 273.6,184.6 275.1,182.8" stroke="#5a3c22" stroke-width="0.8" stroke-opacity="0.78"/>
<polyline points="275.4,195.3 272.7,196.1 270.2,195.1 268.0,196.2" stroke="#6a4428" stroke-width="0.8" stroke-opacity="0.78"/>
<polyline points="294.3,197.6 292.9,197.5 290.2,196.9 287.8,198.3" stroke="#90704c" stroke-width="0.9" stroke-opacity="0.78"/>
<polyline points="295.4,196.6 297.7,197.0 299.1,196.4 300.8,194.4" stroke="#5a3c22" stroke-width="1.0" stroke-opacity="0.78"/>
<ellipse cx="272.7" cy="188.9" rx="1.2" ry="1.1" fill="#8a809a" fill-opacity="0.72"/>
<ellipse cx="279.0" cy="192.9" rx="1.3" ry="1.3" fill="#6e6480" fill-opacity="0.72"/>
<ellipse cx="281.7" cy="191.5" rx="1.2" ry="1.2" fill="#8a809a" fill-opacity="0.72"/>
<ellipse cx="291.4" cy="194.0" rx="1.1" ry="1.1" fill="#645a76" fill-opacity="0.72"/>
<ellipse cx="295.7" cy="193.8" rx="1.4" ry="1.3" fill="#786c8a" fill-opacity="0.72"/>
<ellipse cx="300.9" cy="192.0" rx="1.4" ry="1.4" fill="#645a76" fill-opacity="0.72"/>
<ellipse cx="312.3" cy="190.2" rx="1.3" ry="1.0" fill="#8a809a" fill-opacity="0.72"/>
<ellipse cx="319.0" cy="189.1" rx="1.0" ry="0.8" fill="#645a76" fill-opacity="0.72"/>
<ellipse cx="325.1" cy="192.9" rx="1.3" ry="1.0" fill="#786c8a" fill-opacity="0.72"/>
<ellipse cx="328.3" cy="192.2" rx="1.1" ry="1.1" fill="#6e6480" fill-opacity="0.72"/>
<ellipse cx="333.1" cy="193.3" rx="1.6" ry="1.3" fill="#6e6480" fill-opacity="0.72"/>
<ellipse cx="340.1" cy="191.4" rx="1.4" ry="1.2" fill="#786c8a" fill-opacity="0.72"/>
<ellipse cx="345.6" cy="191.2" rx="1.6" ry="1.3" fill="#6e6480" fill-opacity="0.72"/>
<ellipse cx="356.6" cy="189.2" rx="1.7" ry="1.4" fill="#645a76" fill-opacity="0.72"/>
<ellipse cx="360.0" cy="191.6" rx="1.0" ry="1.1" fill="#786c8a" fill-opacity="0.72"/>
<ellipse cx="368.9" cy="193.5" rx="1.6" ry="1.3" fill="#8a809a" fill-opacity="0.72"/>
<ellipse cx="375.0" cy="193.5" rx="1.5" ry="1.5" fill="#786c8a" fill-opacity="0.72"/>
<ellipse cx="378.4" cy="192.9" rx="1.3" ry="1.2" fill="#786c8a" fill-opacity="0.72"/>
<ellipse cx="385.3" cy="192.3" rx="1.6" ry="1.2" fill="#786c8a" fill-opacity="0.72"/>
<ellipse cx="392.1" cy="190.7" rx="1.4" ry="1.4" fill="#8a809a" fill-opacity="0.72"/>
<ellipse cx="272.2" cy="198.1" rx="1.1" ry="0.9" fill="#8a809a" fill-opacity="0.72"/>
<ellipse cx="276.6" cy="198.7" rx="1.3" ry="1.4" fill="#8a809a" fill-opacity="0.72"/>
<ellipse cx="286.3" cy="198.3" rx="1.1" ry="1.0" fill="#645a76" fill-opacity="0.72"/>
<ellipse cx="291.1" cy="200.3" rx="1.2" ry="1.0" fill="#8a809a" fill-opacity="0.72"/>
<ellipse cx="298.4" cy="197.7" rx="1.7" ry="1.3" fill="#786c8a" fill-opacity="0.72"/>
<ellipse cx="301.0" cy="198.6" rx="1.5" ry="1.4" fill="#645a76" fill-opacity="0.72"/>
<ellipse cx="312.2" cy="200.2" rx="1.2" ry="1.3" fill="#8a809a" fill-opacity="0.72"/>
<ellipse cx="314.4" cy="196.1" rx="1.2" ry="0.9" fill="#645a76" fill-opacity="0.72"/>
<ellipse cx="323.6" cy="198.5" rx="1.5" ry="1.6" fill="#645a76" fill-opacity="0.72"/>
<ellipse cx="329.5" cy="198.0" rx="1.3" ry="1.3" fill="#645a76" fill-opacity="0.72"/>
<ellipse cx="336.6" cy="195.9" rx="1.3" ry="1.4" fill="#645a76" fill-opacity="0.72"/>
<ellipse cx="338.5" cy="199.2" rx="1.6" ry="1.5" fill="#786c8a" fill-opacity="0.72"/>
<ellipse cx="346.2" cy="199.8" rx="1.5" ry="1.6" fill="#8a809a" fill-opacity="0.72"/>
<ellipse cx="352.5" cy="194.4" rx="1.2" ry="1.0" fill="#6e6480" fill-opacity="0.72"/>
<ellipse cx="358.5" cy="196.7" rx="1.3" ry="1.2" fill="#6e6480" fill-opacity="0.72"/>
<ellipse cx="367.8" cy="197.2" rx="1.1" ry="0.9" fill="#8a809a" fill-opacity="0.72"/>
<ellipse cx="375.6" cy="196.7" rx="1.4" ry="1.3" fill="#786c8a" fill-opacity="0.72"/>
<ellipse cx="379.0" cy="197.3" rx="1.1" ry="1.1" fill="#645a76" fill-opacity="0.72"/>
<ellipse cx="388.4" cy="200.3" rx="1.3" ry="1.3" fill="#8a809a" fill-opacity="0.72"/>
<ellipse cx="390.0" cy="198.9" rx="1.4" ry="1.2" fill="#8a809a" fill-opacity="0.72"/>
<ellipse cx="270.8" cy="201.7" rx="1.3" ry="1.4" fill="#8a809a" fill-opacity="0.72"/>
<ellipse cx="281.1" cy="201.6" rx="1.0" ry="0.9" fill="#6e6480" fill-opacity="0.72"/>
<ellipse cx="282.8" cy="200.8" rx="1.2" ry="1.3" fill="#645a76" fill-opacity="0.72"/>
<ellipse cx="288.8" cy="206.4" rx="1.7" ry="1.4" fill="#645a76" fill-opacity="0.72"/>
<ellipse cx="299.7" cy="203.4" rx="1.1" ry="0.9" fill="#6e6480" fill-opacity="0.72"/>
<ellipse cx="301.8" cy="203.0" rx="1.7" ry="1.6" fill="#6e6480" fill-opacity="0.72"/>
<ellipse cx="311.0" cy="201.2" rx="1.3" ry="1.2" fill="#645a76" fill-opacity="0.72"/>
<ellipse cx="314.2" cy="205.0" rx="1.3" ry="1.2" fill="#786c8a" fill-opacity="0.72"/>
<ellipse cx="324.3" cy="201.4" rx="1.3" ry="1.3" fill="#786c8a" fill-opacity="0.72"/>
<ellipse cx="327.3" cy="202.5" rx="1.6" ry="1.7" fill="#8a809a" fill-opacity="0.72"/>
<ellipse cx="338.1" cy="203.7" rx="1.3" ry="1.1" fill="#8a809a" fill-opacity="0.72"/>
<ellipse cx="340.7" cy="202.4" rx="1.5" ry="1.2" fill="#8a809a" fill-opacity="0.72"/>
<ellipse cx="349.7" cy="205.0" rx="1.2" ry="1.1" fill="#645a76" fill-opacity="0.72"/>
<ellipse cx="353.2" cy="202.5" rx="1.7" ry="1.3" fill="#645a76" fill-opacity="0.72"/>
<ellipse cx="358.2" cy="200.9" rx="1.3" ry="1.4" fill="#6e6480" fill-opacity="0.72"/>
<ellipse cx="368.7" cy="200.7" rx="1.7" ry="1.8" fill="#8a809a" fill-opacity="0.72"/>
<ellipse cx="374.6" cy="202.1" rx="1.1" ry="0.9" fill="#645a76" fill-opacity="0.72"/>
<ellipse cx="377.5" cy="201.3" rx="1.3" ry="1.3" fill="#8a809a" fill-opacity="0.72"/>
<ellipse cx="387.2" cy="205.6" rx="1.2" ry="1.2" fill="#786c8a" fill-opacity="0.72"/>
<ellipse cx="390.5" cy="205.6" rx="1.6" ry="1.5" fill="#645a76" fill-opacity="0.72"/>
<ellipse cx="269.2" cy="208.1" rx="1.3" ry="1.3" fill="#786c8a" fill-opacity="0.72"/>
<ellipse cx="280.1" cy="208.9" rx="1.3" ry="1.0" fill="#645a76" fill-opacity="0.72"/>
<ellipse cx="283.2" cy="207.8" rx="1.5" ry="1.4" fill="#645a76" fill-opacity="0.72"/>
<ellipse cx="292.8" cy="209.4" rx="1.1" ry="1.2" fill="#8a809a" fill-opacity="0.72"/>
<ellipse cx="299.5" cy="207.9" rx="1.2" ry="1.1" fill="#8a809a" fill-opacity="0.72"/>
<ellipse cx="303.9" cy="207.6" rx="1.7" ry="1.7" fill="#8a809a" fill-opacity="0.72"/>
<ellipse cx="312.9" cy="213.2" rx="1.4" ry="1.3" fill="#786c8a" fill-opacity="0.72"/>
<ellipse cx="317.8" cy="207.1" rx="1.5" ry="1.4" fill="#786c8a" fill-opacity="0.72"/>
<ellipse cx="320.9" cy="212.6" rx="1.6" ry="1.4" fill="#8a809a" fill-opacity="0.72"/>
<ellipse cx="327.3" cy="209.1" rx="1.2" ry="1.1" fill="#6e6480" fill-opacity="0.72"/>
<ellipse cx="333.1" cy="208.3" rx="1.6" ry="1.5" fill="#645a76" fill-opacity="0.72"/>
<ellipse cx="342.9" cy="211.6" rx="1.2" ry="1.1" fill="#645a76" fill-opacity="0.72"/>
<ellipse cx="347.8" cy="207.1" rx="1.3" ry="1.2" fill="#786c8a" fill-opacity="0.72"/>
<ellipse cx="356.2" cy="211.1" rx="1.4" ry="1.5" fill="#786c8a" fill-opacity="0.72"/>
<ellipse cx="357.5" cy="210.6" rx="1.2" ry="1.0" fill="#786c8a" fill-opacity="0.72"/>
<ellipse cx="367.2" cy="208.0" rx="1.5" ry="1.3" fill="#645a76" fill-opacity="0.72"/>
<ellipse cx="373.8" cy="211.4" rx="1.4" ry="1.5" fill="#786c8a" fill-opacity="0.72"/>
<ellipse cx="381.7" cy="211.7" rx="1.0" ry="0.8" fill="#645a76" fill-opacity="0.72"/>
<ellipse cx="388.1" cy="208.1" rx="1.6" ry="1.2" fill="#8a809a" fill-opacity="0.72"/>
<ellipse cx="388.9" cy="207.3" rx="1.3" ry="1.1" fill="#786c8a" fill-opacity="0.72"/>
<ellipse cx="274.4" cy="216.5" rx="1.1" ry="0.9" fill="#6e6480" fill-opacity="0.72"/>
<ellipse cx="278.2" cy="219.5" rx="1.4" ry="1.3" fill="#8a809a" fill-opacity="0.72"/>
<ellipse cx="281.7" cy="216.4" rx="1.2" ry="1.1" fill="#8a809a" fill-opacity="0.72"/>
<ellipse cx="290.2" cy="218.5" rx="1.3" ry="1.2" fill="#786c8a" fill-opacity="0.72"/>
<ellipse cx="298.6" cy="215.3" rx="1.1" ry="1.2" fill="#645a76" fill-opacity="0.72"/>
<ellipse cx="305.3" cy="213.2" rx="1.3" ry="1.4" fill="#6e6480" fill-opacity="0.72"/>
<ellipse cx="311.7" cy="215.6" rx="1.5" ry="1.6" fill="#786c8a" fill-opacity="0.72"/>
<ellipse cx="313.4" cy="215.1" rx="1.2" ry="1.0" fill="#786c8a" fill-opacity="0.72"/>
<ellipse cx="320.9" cy="219.4" rx="1.1" ry="0.9" fill="#786c8a" fill-opacity="0.72"/>
<ellipse cx="328.3" cy="214.0" rx="1.5" ry="1.3" fill="#6e6480" fill-opacity="0.72"/>
<ellipse cx="335.6" cy="217.8" rx="1.4" ry="1.1" fill="#786c8a" fill-opacity="0.72"/>
<ellipse cx="340.9" cy="215.0" rx="1.5" ry="1.2" fill="#6e6480" fill-opacity="0.72"/>
<ellipse cx="348.4" cy="216.5" rx="1.4" ry="1.5" fill="#8a809a" fill-opacity="0.72"/>
<ellipse cx="355.5" cy="217.6" rx="1.4" ry="1.3" fill="#6e6480" fill-opacity="0.72"/>
<ellipse cx="360.8" cy="213.9" rx="1.2" ry="1.2" fill="#786c8a" fill-opacity="0.72"/>
<ellipse cx="364.2" cy="219.4" rx="1.5" ry="1.3" fill="#8a809a" fill-opacity="0.72"/>
<ellipse cx="373.8" cy="218.4" rx="1.2" ry="1.1" fill="#8a809a" fill-opacity="0.72"/>
<ellipse cx="381.6" cy="216.9" rx="1.4" ry="1.4" fill="#6e6480" fill-opacity="0.72"/>
<ellipse cx="384.8" cy="215.5" rx="1.0" ry="1.0" fill="#8a809a" fill-opacity="0.72"/>
<ellipse cx="392.7" cy="218.1" rx="1.2" ry="1.3" fill="#786c8a" fill-opacity="0.72"/>
<ellipse cx="272.2" cy="222.5" rx="1.5" ry="1.3" fill="#645a76" fill-opacity="0.72"/>
<ellipse cx="279.7" cy="222.8" rx="1.2" ry="1.2" fill="#6e6480" fill-opacity="0.72"/>
<ellipse cx="283.6" cy="220.4" rx="1.4" ry="1.3" fill="#786c8a" fill-opacity="0.72"/>
<ellipse cx="292.1" cy="219.7" rx="1.4" ry="1.1" fill="#645a76" fill-opacity="0.72"/>
<ellipse cx="300.0" cy="219.8" rx="1.6" ry="1.6" fill="#6e6480" fill-opacity="0.72"/>
<ellipse cx="303.4" cy="223.1" rx="1.7" ry="1.3" fill="#645a76" fill-opacity="0.72"/>
<ellipse cx="309.6" cy="221.7" rx="1.1" ry="1.1" fill="#6e6480" fill-opacity="0.72"/>
<ellipse cx="316.7" cy="220.7" rx="1.5" ry="1.6" fill="#8a809a" fill-opacity="0.72"/>
<ellipse cx="320.2" cy="222.8" rx="1.5" ry="1.5" fill="#6e6480" fill-opacity="0.72"/>
<ellipse cx="330.2" cy="223.4" rx="1.5" ry="1.4" fill="#645a76" fill-opacity="0.72"/>
<ellipse cx="332.6" cy="221.4" rx="1.6" ry="1.6" fill="#645a76" fill-opacity="0.72"/>
<ellipse cx="341.7" cy="223.1" rx="1.4" ry="1.3" fill="#8a809a" fill-opacity="0.72"/>
<ellipse cx="349.6" cy="225.2" rx="1.3" ry="1.1" fill="#645a76" fill-opacity="0.72"/>
<ellipse cx="356.7" cy="220.0" rx="1.5" ry="1.2" fill="#8a809a" fill-opacity="0.72"/>
<ellipse cx="361.7" cy="222.6" rx="1.7" ry="1.7" fill="#645a76" fill-opacity="0.72"/>
<ellipse cx="367.7" cy="225.5" rx="1.4" ry="1.3" fill="#786c8a" fill-opacity="0.72"/>
<ellipse cx="372.3" cy="223.2" rx="1.3" ry="1.0" fill="#6e6480" fill-opacity="0.72"/>
<ellipse cx="380.4" cy="224.3" rx="1.2" ry="1.3" fill="#8a809a" fill-opacity="0.72"/>
<ellipse cx="383.1" cy="221.0" rx="1.3" ry="1.2" fill="#6e6480" fill-opacity="0.72"/>
<ellipse cx="391.9" cy="222.5" rx="1.0" ry="0.8" fill="#645a76" fill-opacity="0.72"/>
<ellipse cx="272.9" cy="230.6" rx="1.1" ry="1.1" fill="#6e6480" fill-opacity="0.72"/>
<ellipse cx="275.4" cy="229.9" rx="1.0" ry="0.9" fill="#645a76" fill-opacity="0.72"/>
<ellipse cx="284.8" cy="228.6" rx="1.7" ry="1.4" fill="#786c8a" fill-opacity="0.72"/>
<ellipse cx="292.5" cy="229.7" rx="1.1" ry="0.9" fill="#8a809a" fill-opacity="0.72"/>
<ellipse cx="296.3" cy="231.8" rx="1.3" ry="1.1" fill="#645a76" fill-opacity="0.72"/>
<ellipse cx="304.7" cy="230.6" rx="1.4" ry="1.1" fill="#8a809a" fill-opacity="0.72"/>
<ellipse cx="310.4" cy="229.2" rx="1.2" ry="1.1" fill="#8a809a" fill-opacity="0.72"/>
<ellipse cx="316.3" cy="226.9" rx="1.5" ry="1.5" fill="#8a809a" fill-opacity="0.72"/>
<ellipse cx="323.1" cy="229.1" rx="1.5" ry="1.3" fill="#6e6480" fill-opacity="0.72"/>
<ellipse cx="331.9" cy="227.4" rx="1.4" ry="1.2" fill="#6e6480" fill-opacity="0.72"/>
<ellipse cx="334.1" cy="230.9" rx="1.6" ry="1.3" fill="#786c8a" fill-opacity="0.72"/>
<ellipse cx="341.5" cy="228.6" rx="1.3" ry="1.1" fill="#6e6480" fill-opacity="0.72"/>
<ellipse cx="349.0" cy="231.5" rx="1.7" ry="1.7" fill="#8a809a" fill-opacity="0.72"/>
<ellipse cx="356.3" cy="226.4" rx="1.2" ry="1.1" fill="#8a809a" fill-opacity="0.72"/>
<ellipse cx="363.1" cy="230.5" rx="1.5" ry="1.4" fill="#8a809a" fill-opacity="0.72"/>
<ellipse cx="363.8" cy="228.3" rx="1.3" ry="1.2" fill="#786c8a" fill-opacity="0.72"/>
<ellipse cx="373.2" cy="226.3" rx="1.3" ry="1.0" fill="#8a809a" fill-opacity="0.72"/>
<ellipse cx="377.3" cy="229.8" rx="1.3" ry="1.3" fill="#6e6480" fill-opacity="0.72"/>
<ellipse cx="387.3" cy="228.9" rx="1.3" ry="1.3" fill="#786c8a" fill-opacity="0.72"/>
<ellipse cx="393.4" cy="229.0" rx="1.6" ry="1.7" fill="#6e6480" fill-opacity="0.72"/>
<ellipse cx="272.5" cy="234.7" rx="1.1" ry="1.2" fill="#645a76" fill-opacity="0.72"/>
<ellipse cx="275.6" cy="234.0" rx="1.2" ry="1.2" fill="#645a76" fill-opacity="0.72"/>
<ellipse cx="283.5" cy="235.2" rx="1.7" ry="1.7" fill="#8a809a" fill-opacity="0.72"/>
<ellipse cx="293.8" cy="236.1" rx="1.2" ry="1.1" fill="#6e6480" fill-opacity="0.72"/>
<ellipse cx="296.8" cy="234.0" rx="1.6" ry="1.4" fill="#645a76" fill-opacity="0.72"/>
<ellipse cx="301.6" cy="233.0" rx="1.1" ry="0.8" fill="#786c8a" fill-opacity="0.72"/>
<ellipse cx="308.7" cy="235.2" rx="1.4" ry="1.3" fill="#6e6480" fill-opacity="0.72"/>
<ellipse cx="315.5" cy="235.5" rx="1.2" ry="1.1" fill="#6e6480" fill-opacity="0.72"/>
<ellipse cx="322.0" cy="234.5" rx="1.7" ry="1.3" fill="#645a76" fill-opacity="0.72"/>
<ellipse cx="328.3" cy="234.5" rx="1.4" ry="1.5" fill="#786c8a" fill-opacity="0.72"/>
<ellipse cx="332.8" cy="237.3" rx="1.1" ry="0.8" fill="#645a76" fill-opacity="0.72"/>
<ellipse cx="339.4" cy="234.3" rx="1.3" ry="1.4" fill="#786c8a" fill-opacity="0.72"/>
<ellipse cx="350.2" cy="237.5" rx="1.4" ry="1.2" fill="#6e6480" fill-opacity="0.72"/>
<ellipse cx="355.4" cy="235.3" rx="1.2" ry="1.2" fill="#786c8a" fill-opacity="0.72"/>
<ellipse cx="358.9" cy="237.8" rx="1.4" ry="1.2" fill="#8a809a" fill-opacity="0.72"/>
<ellipse cx="365.7" cy="237.6" rx="1.4" ry="1.2" fill="#6e6480" fill-opacity="0.72"/>
<ellipse cx="372.5" cy="235.2" rx="1.6" ry="1.2" fill="#8a809a" fill-opacity="0.72"/>
<ellipse cx="381.2" cy="236.4" rx="1.3" ry="1.4" fill="#645a76" fill-opacity="0.72"/>
<ellipse cx="384.2" cy="234.4" rx="1.6" ry="1.6" fill="#645a76" fill-opacity="0.72"/>
<ellipse cx="393.9" cy="236.9" rx="1.3" ry="1.1" fill="#645a76" fill-opacity="0.72"/>
<ellipse cx="269.6" cy="244.1" rx="1.2" ry="0.9" fill="#645a76" fill-opacity="0.72"/>
<ellipse cx="275.6" cy="242.0" rx="1.6" ry="1.5" fill="#8a809a" fill-opacity="0.72"/>
<ellipse cx="285.8" cy="244.4" rx="1.6" ry="1.5" fill="#8a809a" fill-opacity="0.72"/>
<ellipse cx="288.6" cy="240.8" rx="1.4" ry="1.2" fill="#8a809a" fill-opacity="0.72"/>
<ellipse cx="299.5" cy="239.0" rx="1.6" ry="1.6" fill="#786c8a" fill-opacity="0.72"/>
<ellipse cx="302.9" cy="239.4" rx="1.1" ry="0.9" fill="#8a809a" fill-opacity="0.72"/>
<ellipse cx="307.8" cy="239.8" rx="1.2" ry="1.3" fill="#6e6480" fill-opacity="0.72"/>
<ellipse cx="313.4" cy="242.2" rx="1.0" ry="1.0" fill="#6e6480" fill-opacity="0.72"/>
<ellipse cx="324.5" cy="242.4" rx="1.5" ry="1.4" fill="#645a76" fill-opacity="0.72"/>
<ellipse cx="326.6" cy="240.5" rx="1.4" ry="1.1" fill="#786c8a" fill-opacity="0.72"/>
<ellipse cx="334.1" cy="241.1" rx="1.5" ry="1.2" fill="#645a76" fill-opacity="0.72"/>
<ellipse cx="341.3" cy="244.0" rx="1.1" ry="0.9" fill="#786c8a" fill-opacity="0.72"/>
<ellipse cx="350.4" cy="243.4" rx="1.5" ry="1.4" fill="#6e6480" fill-opacity="0.72"/>
<ellipse cx="354.5" cy="239.6" rx="1.0" ry="0.8" fill="#8a809a" fill-opacity="0.72"/>
<ellipse cx="358.0" cy="242.6" rx="1.3" ry="1.4" fill="#786c8a" fill-opacity="0.72"/>
<ellipse cx="363.9" cy="239.5" rx="1.6" ry="1.5" fill="#8a809a" fill-opacity="0.72"/>
<ellipse cx="375.0" cy="240.0" rx="1.2" ry="1.3" fill="#786c8a" fill-opacity="0.72"/>
<ellipse cx="378.0" cy="239.9" rx="1.4" ry="1.2" fill="#786c8a" fill-opacity="0.72"/>
<ellipse cx="387.1" cy="241.0" rx="1.4" ry="1.3" fill="#6e6480" fill-opacity="0.72"/>
<ellipse cx="393.6" cy="241.8" rx="1.0" ry="0.9" fill="#786c8a" fill-opacity="0.72"/>
<ellipse cx="271.5" cy="249.9" rx="1.5" ry="1.5" fill="#8a809a" fill-opacity="0.72"/>
<ellipse cx="278.4" cy="248.2" rx="1.5" ry="1.4" fill="#786c8a" fill-opacity="0.72"/>
<ellipse cx="286.4" cy="250.0" rx="1.1" ry="0.9" fill="#645a76" fill-opacity="0.72"/>
<ellipse cx="287.9" cy="249.8" rx="1.5" ry="1.3" fill="#786c8a" fill-opacity="0.72"/>
<ellipse cx="297.4" cy="246.4" rx="1.4" ry="1.4" fill="#786c8a" fill-opacity="0.72"/>
<ellipse cx="303.3" cy="247.1" rx="1.3" ry="1.0" fill="#6e6480" fill-opacity="0.72"/>
<ellipse cx="308.6" cy="246.2" rx="1.1" ry="1.1" fill="#8a809a" fill-opacity="0.72"/>
<ellipse cx="313.3" cy="250.8" rx="1.1" ry="1.0" fill="#645a76" fill-opacity="0.72"/>
<ellipse cx="325.6" cy="247.4" rx="1.6" ry="1.6" fill="#786c8a" fill-opacity="0.72"/>
<ellipse cx="331.1" cy="246.4" rx="1.2" ry="1.1" fill="#645a76" fill-opacity="0.72"/>
<ellipse cx="338.1" cy="248.8" rx="1.3" ry="1.2" fill="#8a809a" fill-opacity="0.72"/>
<ellipse cx="343.4" cy="246.1" rx="1.1" ry="1.1" fill="#8a809a" fill-opacity="0.72"/>
<ellipse cx="345.0" cy="245.2" rx="1.7" ry="1.5" fill="#645a76" fill-opacity="0.72"/>
<ellipse cx="352.1" cy="249.0" rx="1.4" ry="1.5" fill="#645a76" fill-opacity="0.72"/>
<ellipse cx="363.3" cy="247.1" rx="1.4" ry="1.1" fill="#6e6480" fill-opacity="0.72"/>
<ellipse cx="365.0" cy="247.1" rx="1.4" ry="1.2" fill="#786c8a" fill-opacity="0.72"/>
<ellipse cx="372.3" cy="245.3" rx="1.0" ry="1.1" fill="#786c8a" fill-opacity="0.72"/>
<ellipse cx="377.2" cy="250.1" rx="1.4" ry="1.2" fill="#6e6480" fill-opacity="0.72"/>
<ellipse cx="385.0" cy="245.7" rx="1.6" ry="1.3" fill="#645a76" fill-opacity="0.72"/>
<ellipse cx="392.2" cy="245.5" rx="1.5" ry="1.2" fill="#6e6480" fill-opacity="0.72"/>
<ellipse cx="273.5" cy="254.8" rx="1.1" ry="1.1" fill="#786c8a" fill-opacity="0.72"/>
<ellipse cx="276.5" cy="255.1" rx="1.3" ry="1.1" fill="#645a76" fill-opacity="0.72"/>
<ellipse cx="282.7" cy="255.7" rx="1.5" ry="1.5" fill="#645a76" fill-opacity="0.72"/>
<ellipse cx="290.3" cy="253.4" rx="1.0" ry="0.9" fill="#645a76" fill-opacity="0.72"/>
<ellipse cx="299.8" cy="254.8" rx="1.1" ry="1.0" fill="#8a809a" fill-opacity="0.72"/>
<ellipse cx="303.5" cy="255.8" rx="1.5" ry="1.4" fill="#645a76" fill-opacity="0.72"/>
<ellipse cx="312.7" cy="256.4" rx="1.6" ry="1.6" fill="#645a76" fill-opacity="0.72"/>
<ellipse cx="314.4" cy="255.1" rx="1.1" ry="1.1" fill="#786c8a" fill-opacity="0.72"/>
<ellipse cx="322.8" cy="255.1" rx="1.6" ry="1.4" fill="#645a76" fill-opacity="0.72"/>
<ellipse cx="330.5" cy="254.4" rx="1.5" ry="1.5" fill="#786c8a" fill-opacity="0.72"/>
<ellipse cx="336.2" cy="256.0" rx="1.5" ry="1.5" fill="#6e6480" fill-opacity="0.72"/>
<ellipse cx="343.0" cy="253.8" rx="1.2" ry="1.1" fill="#6e6480" fill-opacity="0.72"/>
<ellipse cx="350.7" cy="256.6" rx="1.4" ry="1.2" fill="#645a76" fill-opacity="0.72"/>
<ellipse cx="356.3" cy="251.6" rx="1.5" ry="1.2" fill="#6e6480" fill-opacity="0.72"/>
<ellipse cx="360.4" cy="256.4" rx="1.5" ry="1.4" fill="#6e6480" fill-opacity="0.72"/>
<ellipse cx="367.8" cy="254.1" rx="1.4" ry="1.4" fill="#786c8a" fill-opacity="0.72"/>
<ellipse cx="373.1" cy="256.8" rx="1.5" ry="1.5" fill="#8a809a" fill-opacity="0.72"/>
<ellipse cx="377.2" cy="256.7" rx="1.4" ry="1.2" fill="#645a76" fill-opacity="0.72"/>
<ellipse cx="382.6" cy="253.9" rx="1.3" ry="1.2" fill="#645a76" fill-opacity="0.72"/>
<ellipse cx="393.3" cy="252.0" rx="1.0" ry="1.0" fill="#645a76" fill-opacity="0.72"/>
<ellipse cx="270.6" cy="257.6" rx="1.3" ry="1.2" fill="#8a809a" fill-opacity="0.72"/>
<ellipse cx="280.5" cy="261.1" rx="1.3" ry="1.1" fill="#6e6480" fill-opacity="0.72"/>
<ellipse cx="286.9" cy="262.6" rx="1.3" ry="1.3" fill="#6e6480" fill-opacity="0.72"/>
<ellipse cx="289.1" cy="260.9" rx="1.3" ry="1.4" fill="#8a809a" fill-opacity="0.72"/>
<ellipse cx="294.2" cy="258.2" rx="1.2" ry="1.2" fill="#8a809a" fill-opacity="0.72"/>
<ellipse cx="302.6" cy="257.9" rx="1.3" ry="1.1" fill="#6e6480" fill-opacity="0.72"/>
<ellipse cx="308.1" cy="263.5" rx="1.7" ry="1.7" fill="#8a809a" fill-opacity="0.72"/>
<ellipse cx="316.8" cy="259.2" rx="1.2" ry="1.1" fill="#786c8a" fill-opacity="0.72"/>
<ellipse cx="324.1" cy="262.3" rx="1.4" ry="1.1" fill="#6e6480" fill-opacity="0.72"/>
<ellipse cx="329.3" cy="260.0" rx="1.6" ry="1.7" fill="#6e6480" fill-opacity="0.72"/>
<ellipse cx="332.0" cy="258.3" rx="1.2" ry="1.2" fill="#786c8a" fill-opacity="0.72"/>
<ellipse cx="343.4" cy="260.9" rx="1.1" ry="1.2" fill="#645a76" fill-opacity="0.72"/>
<ellipse cx="346.6" cy="263.3" rx="1.1" ry="0.9" fill="#6e6480" fill-opacity="0.72"/>
<ellipse cx="355.9" cy="259.7" rx="1.4" ry="1.1" fill="#8a809a" fill-opacity="0.72"/>
<ellipse cx="362.8" cy="257.7" rx="1.2" ry="1.1" fill="#645a76" fill-opacity="0.72"/>
<ellipse cx="366.4" cy="258.1" rx="1.4" ry="1.1" fill="#6e6480" fill-opacity="0.72"/>
<ellipse cx="375.7" cy="257.8" rx="1.3" ry="1.2" fill="#6e6480" fill-opacity="0.72"/>
<ellipse cx="378.8" cy="260.8" rx="1.4" ry="1.4" fill="#8a809a" fill-opacity="0.72"/>
<ellipse cx="385.5" cy="261.4" rx="1.6" ry="1.5" fill="#8a809a" fill-opacity="0.72"/>
<ellipse cx="394.5" cy="262.0" rx="1.3" ry="1.1" fill="#786c8a" fill-opacity="0.72"/>
<ellipse cx="269.8" cy="269.6" rx="1.5" ry="1.5" fill="#8a809a" fill-opacity="0.72"/>
<ellipse cx="281.4" cy="264.7" rx="1.2" ry="1.1" fill="#786c8a" fill-opacity="0.72"/>
<ellipse cx="282.1" cy="268.8" rx="1.4" ry="1.3" fill="#786c8a" fill-opacity="0.72"/>
<ellipse cx="290.5" cy="268.9" rx="1.5" ry="1.6" fill="#645a76" fill-opacity="0.72"/>
<ellipse cx="299.1" cy="264.6" rx="1.4" ry="1.5" fill="#645a76" fill-opacity="0.72"/>
<ellipse cx="305.2" cy="268.9" rx="1.0" ry="1.0" fill="#786c8a" fill-opacity="0.72"/>
<ellipse cx="307.9" cy="265.4" rx="1.1" ry="1.0" fill="#6e6480" fill-opacity="0.72"/>
<ellipse cx="315.8" cy="263.6" rx="1.0" ry="1.0" fill="#6e6480" fill-opacity="0.72"/>
<ellipse cx="324.5" cy="266.4" rx="1.5" ry="1.6" fill="#786c8a" fill-opacity="0.72"/>
<ellipse cx="331.8" cy="266.1" rx="1.2" ry="1.1" fill="#8a809a" fill-opacity="0.72"/>
<ellipse cx="337.3" cy="269.8" rx="1.4" ry="1.2" fill="#645a76" fill-opacity="0.72"/>
<ellipse cx="338.4" cy="267.6" rx="1.5" ry="1.3" fill="#6e6480" fill-opacity="0.72"/>
<ellipse cx="346.9" cy="264.3" rx="1.4" ry="1.1" fill="#6e6480" fill-opacity="0.72"/>
<ellipse cx="351.3" cy="269.8" rx="1.2" ry="1.1" fill="#645a76" fill-opacity="0.72"/>
<ellipse cx="363.3" cy="266.7" rx="1.5" ry="1.2" fill="#8a809a" fill-opacity="0.72"/>
<ellipse cx="365.9" cy="264.6" rx="1.4" ry="1.3" fill="#786c8a" fill-opacity="0.72"/>
<ellipse cx="372.7" cy="266.8" rx="1.1" ry="1.0" fill="#8a809a" fill-opacity="0.72"/>
<ellipse cx="377.3" cy="269.2" rx="1.1" ry="1.1" fill="#8a809a" fill-opacity="0.72"/>
<ellipse cx="388.6" cy="265.8" rx="1.6" ry="1.7" fill="#6e6480" fill-opacity="0.72"/>
<ellipse cx="390.3" cy="269.7" rx="1.2" ry="1.1" fill="#645a76" fill-opacity="0.72"/>
</g></g>
<rect x="268.25" y="187.25" width="122.50" height="82.50" fill="none" stroke="#3d3d3d" stroke-width="1.5"/>
<clipPath id="c2"><rect x="395" y="188" width="120" height="81"/></clipPath>
<g clip-path="url(#c2)">
<rect x="395" y="188" width="120" height="81" fill="#d0ccc2"/>
<filter id="f2_0" x="0" y="0" width="100%" height="100%" color-interpolation-filters="sRGB"><feTurbulence type="fractalNoise" baseFrequency="0.1" numOctaves="2" seed="20"/><feColorMatrix type="matrix" values="0 0 0 0 0.659 0 0 0 0 0.612 0 0 0 0 0.533 3.50 0 0 0 -1.60"/><feGaussianBlur stdDeviation="0.3"/></filter>
<rect x="395" y="188" width="120" height="81" filter="url(#f2_0)"/>
<filter id="f2_1" x="0" y="0" width="100%" height="100%" color-interpolation-filters="sRGB"><feTurbulence type="fractalNoise" baseFrequency="0.6" numOctaves="2" seed="21"/><feColorMatrix type="matrix" values="0 0 0 0 0.494 0 0 0 0 0.424 0 0 0 0 0.345 0 5.00 0 0 -2.78"/><feGaussianBlur stdDeviation="0.3"/></filter>
<rect x="395" y="188" width="120" height="81" filter="url(#f2_1)"/>
<filter id="f2_2" x="0" y="0" width="100%" height="100%" color-interpolation-filters="sRGB"><feTurbulence type="fractalNoise" baseFrequency="0.3" numOctaves="1" seed="22"/><feColorMatrix type="matrix" values="0 0 0 0 0.933 0 0 0 0 0.929 0 0 0 0 0.902 0 0 5.00 0 -2.80"/><feGaussianBlur stdDeviation="0.3"/></filter>
<rect x="395" y="188" width="120" height="81" filter="url(#f2_2)"/>
<g filter="url(#bl)">
<polyline points="511.5,266.6 512.9,266.0 514.3,266.0 515.5,265.6" stroke="#a07850" stroke-width="0.7" stroke-opacity="0.50"/>
<polyline points="477.5,271.0 477.2,269.5 477.1,268.4 477.8,267.5" stroke="#7a5030" stroke-width="1.0" stroke-opacity="0.50"/>
<polyline points="438.1,265.2 439.3,264.2 439.5,263.4 439.3,262.5" stroke="#8a6040" stroke-width="0.8" stroke-opacity="0.50"/>
<polyline points="456.3,270.9 454.9,270.1 454.2,268.9 454.5,267.5" stroke="#a07850" stroke-width="0.8" stroke-opacity="0.50"/>
<polyline points="514.6,267.8 514.8,269.1 515.0,270.3 515.3,271.9" stroke="#a07850" stroke-width="0.9" stroke-opacity="0.50"/>
<polyline points="491.7,242.2 490.8,241.8 490.0,240.9 489.0,240.0" stroke="#6a4428" stroke-width="1.0" stroke-opacity="0.50"/>
<polyline points="496.5,260.5 496.2,259.4 495.2,258.3 495.1,257.1" stroke="#a07850" stroke-width="1.0" stroke-opacity="0.50"/>
<polyline points="465.9,212.5 466.3,214.1 466.3,214.8 465.6,216.0" stroke="#8a6040" stroke-width="1.1" stroke-opacity="0.50"/>
<polyline points="406.2,234.8 407.4,235.4 407.9,236.8 408.6,237.3" stroke="#8a6040" stroke-width="1.1" stroke-opacity="0.50"/>
<polyline points="400.5,262.3 399.8,261.6 399.2,261.3 398.5,261.5" stroke="#7a5030" stroke-width="1.0" stroke-opacity="0.50"/>
<polyline points="395.6,207.7 395.4,206.9 395.6,205.9 394.5,204.6" stroke="#8a6040" stroke-width="1.1" stroke-opacity="0.50"/>
<polyline points="393.5,265.8 393.2,264.9 392.9,263.9 392.6,262.7" stroke="#7a5030" stroke-width="1.1" stroke-opacity="0.50"/>
<polyline points="486.7,259.3 486.4,258.5 486.4,257.5 485.6,256.7" stroke="#8a6040" stroke-width="0.9" stroke-opacity="0.50"/>
<polyline points="489.9,227.4 488.9,227.8 487.8,229.0 486.7,229.7" stroke="#8a6040" stroke-width="1.0" stroke-opacity="0.50"/>
<polyline points="424.4,197.2 424.9,197.9 424.6,199.3 425.2,200.0" stroke="#5e3e24" stroke-width="0.9" stroke-opacity="0.50"/>
<polyline points="424.1,236.3 423.8,234.9 423.1,234.1 422.7,233.5" stroke="#7a5030" stroke-width="0.9" stroke-opacity="0.50"/>
<polyline points="412.9,229.5 413.5,229.4 414.3,229.6 415.4,228.9" stroke="#94704c" stroke-width="0.8" stroke-opacity="0.50"/>
<polyline points="472.6,204.1 473.9,204.4 475.1,204.5 475.8,204.7" stroke="#94704c" stroke-width="1.1" stroke-opacity="0.50"/>
<polyline points="465.1,264.3 464.7,263.7 464.9,262.9 464.9,261.6" stroke="#6a4428" stroke-width="0.8" stroke-opacity="0.50"/>
<polyline points="501.4,221.0 502.9,221.2 504.0,222.2 505.3,222.0" stroke="#94704c" stroke-width="0.8" stroke-opacity="0.50"/>
<polyline points="466.0,192.3 466.0,193.9 467.0,194.9 468.2,195.2" stroke="#94704c" stroke-width="1.0" stroke-opacity="0.50"/>
<polyline points="410.3,215.3 410.6,214.6 411.2,213.8 411.6,213.0" stroke="#7a5030" stroke-width="0.7" stroke-opacity="0.50"/>
<polyline points="474.7,252.1 474.6,251.1 474.2,249.6 473.5,248.7" stroke="#94704c" stroke-width="1.0" stroke-opacity="0.50"/>
<polyline points="483.3,221.6 482.2,221.3 481.1,221.7 479.7,222.1" stroke="#5e3e24" stroke-width="1.1" stroke-opacity="0.50"/>
<polyline points="465.7,255.5 467.2,256.1 468.3,255.8 468.6,255.1" stroke="#5e3e24" stroke-width="1.1" stroke-opacity="0.50"/>
<polyline points="473.4,196.9 473.6,198.2 473.5,199.3 473.3,200.1" stroke="#a07850" stroke-width="1.1" stroke-opacity="0.50"/>
<polyline points="513.1,222.0 513.1,223.2 513.5,223.9 513.3,224.8" stroke="#6a4428" stroke-width="1.0" stroke-opacity="0.50"/>
<polyline points="464.1,198.3 463.7,199.5 462.9,199.9 461.9,200.5" stroke="#94704c" stroke-width="0.8" stroke-opacity="0.50"/>
<polyline points="483.7,221.0 482.7,220.3 482.0,218.9 480.5,218.4" stroke="#5e3e24" stroke-width="0.8" stroke-opacity="0.50"/>
<polyline points="470.0,220.2 470.5,219.0 469.9,218.0 469.6,216.5" stroke="#5e3e24" stroke-width="0.8" stroke-opacity="0.50"/>
<polyline points="404.7,220.2 404.8,221.3 405.7,222.7 406.6,223.5" stroke="#8a6040" stroke-width="0.8" stroke-opacity="0.50"/>
<polyline points="507.3,235.3 506.6,235.2 505.6,234.7 504.8,234.3" stroke="#5e3e24" stroke-width="0.8" stroke-opacity="0.50"/>
<polyline points="512.9,192.2 514.4,192.2 515.8,192.6 517.1,192.9" stroke="#6a4428" stroke-width="0.9" stroke-opacity="0.50"/>
<polyline points="501.8,225.1 502.8,225.3 504.2,226.1 504.2,227.1" stroke="#5e3e24" stroke-width="1.0" stroke-opacity="0.50"/>
<polyline points="500.1,197.5 500.9,198.3 501.5,198.6 502.9,199.4" stroke="#6a4428" stroke-width="0.7" stroke-opacity="0.50"/>
<polyline points="498.4,234.0 498.4,235.1 499.2,236.2 499.4,237.2" stroke="#6a4428" stroke-width="1.0" stroke-opacity="0.50"/>
<polyline points="430.7,240.9 431.3,240.0 432.0,239.7 433.0,239.6" stroke="#a07850" stroke-width="1.0" stroke-opacity="0.50"/>
<polyline points="411.5,228.9 413.1,228.5 414.3,228.3 414.7,227.7" stroke="#5e3e24" stroke-width="1.0" stroke-opacity="0.50"/>
<polyline points="440.0,217.0 440.4,218.1 441.3,218.7 442.8,219.1" stroke="#5e3e24" stroke-width="0.9" stroke-opacity="0.50"/>
<polyline points="472.3,265.0 472.5,265.9 473.5,266.8 474.4,267.4" stroke="#8a6040" stroke-width="0.8" stroke-opacity="0.50"/>
<polyline points="493.3,239.8 492.3,239.8 491.0,238.9 489.9,238.1" stroke="#6a4428" stroke-width="1.0" stroke-opacity="0.50"/>
<polyline points="486.1,259.9 487.8,260.0 489.0,259.6 490.0,259.5" stroke="#94704c" stroke-width="0.9" stroke-opacity="0.50"/>
<polyline points="425.0,262.6 424.3,264.0 424.2,265.1 423.5,265.5" stroke="#8a6040" stroke-width="0.8" stroke-opacity="0.50"/>
<polyline points="506.8,261.1 506.7,259.9 506.0,258.6 505.4,257.8" stroke="#5e3e24" stroke-width="1.1" stroke-opacity="0.50"/>
<polyline points="437.6,203.2 436.6,202.1 436.0,201.7 435.2,201.5" stroke="#8a6040" stroke-width="0.8" stroke-opacity="0.50"/>
<polyline points="422.8,237.9 422.3,239.3 422.7,240.0 422.5,241.1" stroke="#6a4428" stroke-width="0.8" stroke-opacity="0.50"/>
<polyline points="457.9,257.9 456.8,258.5 455.5,259.6 454.8,260.5" stroke="#a07850" stroke-width="1.0" stroke-opacity="0.50"/>
<polyline points="460.5,238.8 461.6,239.6 462.5,240.2 463.0,240.8" stroke="#94704c" stroke-width="0.9" stroke-opacity="0.50"/>
<polyline points="398.7,195.2 400.0,194.2 401.4,193.6 401.8,192.7" stroke="#5e3e24" stroke-width="0.7" stroke-opacity="0.50"/>
<polyline points="406.1,215.8 407.3,216.4 408.9,215.9 409.6,215.9" stroke="#94704c" stroke-width="0.8" stroke-opacity="0.50"/>
<polyline points="416.7,258.4 417.1,259.0 418.6,259.5 419.4,260.4" stroke="#5e3e24" stroke-width="1.1" stroke-opacity="0.70"/>
<polyline points="405.7,253.9 406.6,254.0 408.1,254.0 409.4,254.3" stroke="#6a4428" stroke-width="1.1" stroke-opacity="0.70"/>
<polyline points="433.6,266.7 433.3,265.1 432.8,264.6 432.5,263.3" stroke="#8a6040" stroke-width="0.9" stroke-opacity="0.70"/>
<polyline points="404.1,253.2 405.0,253.4 405.8,253.3 406.4,252.6" stroke="#a07850" stroke-width="1.2" stroke-opacity="0.70"/>
<polyline points="439.4,250.5 439.5,249.2 438.6,248.3 437.8,248.1" stroke="#a07850" stroke-width="0.8" stroke-opacity="0.70"/>
<polyline points="401.2,245.6 400.7,246.6 399.5,247.6 399.1,248.3" stroke="#6a4428" stroke-width="0.8" stroke-opacity="0.70"/>
<polyline points="403.8,247.6 403.3,246.9 403.6,245.3 404.5,244.6" stroke="#6a4428" stroke-width="1.3" stroke-opacity="0.70"/>
<polyline points="402.1,252.8 403.1,252.2 403.6,250.7 404.0,250.1" stroke="#6a4428" stroke-width="1.1" stroke-opacity="0.70"/>
<polyline points="400.5,261.9 399.8,262.4 399.2,263.4 398.7,264.5" stroke="#8a6040" stroke-width="1.0" stroke-opacity="0.70"/>
<polyline points="400.8,249.1 402.4,248.9 403.6,248.5 404.9,248.3" stroke="#94704c" stroke-width="0.9" stroke-opacity="0.70"/>
<polyline points="416.1,258.8 416.4,260.0 416.0,260.8 415.2,261.9" stroke="#8a6040" stroke-width="1.1" stroke-opacity="0.70"/>
<polyline points="408.9,250.0 409.0,249.3 409.6,248.7 410.1,247.9" stroke="#6a4428" stroke-width="1.2" stroke-opacity="0.70"/>
<polyline points="424.9,264.7 426.2,265.3 427.4,265.3 428.1,264.9" stroke="#94704c" stroke-width="1.2" stroke-opacity="0.70"/>
<polyline points="423.5,255.7 424.1,256.7 424.2,257.6 424.1,259.1" stroke="#8a6040" stroke-width="0.9" stroke-opacity="0.70"/>
<polyline points="426.7,266.0 426.0,265.0 425.2,264.6 423.9,265.1" stroke="#8a6040" stroke-width="1.3" stroke-opacity="0.70"/>
<polyline points="427.9,264.8 428.8,265.4 428.8,266.4 429.2,267.0" stroke="#a07850" stroke-width="1.2" stroke-opacity="0.70"/>
<polyline points="399.1,267.7 397.8,267.3 396.6,267.2 395.6,267.8" stroke="#a07850" stroke-width="1.3" stroke-opacity="0.70"/>
<polyline points="417.2,246.7 416.2,246.6 415.7,247.1 414.9,247.4" stroke="#8a6040" stroke-width="1.1" stroke-opacity="0.70"/>
<polyline points="422.7,260.5 423.3,259.4 423.0,258.1 422.7,257.4" stroke="#6a4428" stroke-width="1.1" stroke-opacity="0.70"/>
<polyline points="407.1,246.1 406.2,245.1 405.1,245.0 404.2,244.7" stroke="#5e3e24" stroke-width="0.9" stroke-opacity="0.70"/>
<polyline points="416.5,251.8 415.8,251.8 414.5,251.9 413.0,252.6" stroke="#a07850" stroke-width="1.2" stroke-opacity="0.70"/>
<polyline points="433.8,246.8 432.8,246.4 431.4,245.9 430.7,246.1" stroke="#a07850" stroke-width="1.2" stroke-opacity="0.70"/>
<polyline points="427.4,253.5 428.9,253.9 429.4,255.0 429.1,255.8" stroke="#7a5030" stroke-width="1.3" stroke-opacity="0.70"/>
<polyline points="400.0,259.3 400.8,259.3 401.5,258.4 402.0,257.6" stroke="#5e3e24" stroke-width="0.9" stroke-opacity="0.70"/>
<polyline points="418.7,268.9 419.8,268.1 420.1,267.3 420.6,266.8" stroke="#a07850" stroke-width="0.9" stroke-opacity="0.70"/>
<polyline points="431.8,267.7 431.3,266.3 430.7,265.2 431.4,263.8" stroke="#8a6040" stroke-width="0.8" stroke-opacity="0.70"/>
<polyline points="426.7,268.5 426.2,267.7 425.5,266.8 424.8,266.2" stroke="#8a6040" stroke-width="1.0" stroke-opacity="0.70"/>
<polyline points="423.5,245.8 422.4,245.8 421.8,245.4 421.7,244.2" stroke="#6a4428" stroke-width="1.1" stroke-opacity="0.70"/>
<polyline points="406.1,262.1 405.0,262.3 403.8,262.3 402.7,262.1" stroke="#6a4428" stroke-width="1.0" stroke-opacity="0.70"/>
<polyline points="417.7,266.5 418.2,265.0 417.6,263.8 417.4,262.7" stroke="#5e3e24" stroke-width="1.3" stroke-opacity="0.70"/>
<polyline points="412.6,259.8 413.0,258.9 413.9,258.3 414.3,257.1" stroke="#5e3e24" stroke-width="0.9" stroke-opacity="0.70"/>
<polyline points="415.3,262.0 414.7,261.3 413.2,260.6 411.9,260.5" stroke="#6a4428" stroke-width="1.1" stroke-opacity="0.70"/>
<polyline points="425.0,254.6 425.8,254.8 426.4,255.6 427.0,256.9" stroke="#8a6040" stroke-width="1.2" stroke-opacity="0.70"/>
<polyline points="436.6,263.8 435.3,263.6 433.9,264.1 432.9,264.3" stroke="#6a4428" stroke-width="1.0" stroke-opacity="0.70"/>
<polyline points="427.1,246.2 426.4,247.6 424.9,248.0 423.7,248.0" stroke="#8a6040" stroke-width="1.2" stroke-opacity="0.70"/>
<polyline points="409.7,253.0 409.7,251.8 409.7,250.3 409.1,249.7" stroke="#6a4428" stroke-width="0.9" stroke-opacity="0.70"/>
<polyline points="433.0,268.5 434.2,269.5 434.6,270.3 434.9,271.1" stroke="#6a4428" stroke-width="1.1" stroke-opacity="0.70"/>
<polyline points="418.0,248.9 417.2,249.5 416.9,250.3 415.8,251.5" stroke="#94704c" stroke-width="1.1" stroke-opacity="0.70"/>
<polyline points="430.6,248.2 430.5,248.9 431.4,250.0 432.2,250.4" stroke="#94704c" stroke-width="1.1" stroke-opacity="0.70"/>
<polyline points="396.0,253.6 397.0,253.5 397.7,253.3 398.5,253.0" stroke="#94704c" stroke-width="1.3" stroke-opacity="0.70"/>
<polyline points="423.8,251.4 425.0,250.3 426.4,250.3 427.8,249.7" stroke="#a07850" stroke-width="1.2" stroke-opacity="0.70"/>
<polyline points="404.4,255.0 405.0,255.9 405.7,256.2 407.1,256.4" stroke="#8a6040" stroke-width="1.3" stroke-opacity="0.70"/>
<polyline points="433.4,253.4 432.9,254.0 432.7,255.5 433.0,256.4" stroke="#6a4428" stroke-width="0.9" stroke-opacity="0.70"/>
<polyline points="429.9,257.1 431.4,257.7 432.2,258.2 432.5,259.6" stroke="#8a6040" stroke-width="1.0" stroke-opacity="0.70"/>
<polyline points="429.2,263.1 429.3,263.8 429.3,264.5 428.4,265.3" stroke="#94704c" stroke-width="1.1" stroke-opacity="0.70"/>
<polyline points="416.6,252.1 417.9,253.0 419.4,252.9 420.2,253.5" stroke="#5e3e24" stroke-width="0.9" stroke-opacity="0.70"/>
<polyline points="408.5,258.6 409.1,258.1 410.3,258.2 411.1,258.7" stroke="#6a4428" stroke-width="1.3" stroke-opacity="0.70"/>
<polyline points="434.4,261.0 434.4,261.7 433.5,262.4 432.6,263.2" stroke="#8a6040" stroke-width="1.1" stroke-opacity="0.70"/>
<polyline points="400.3,265.7 400.3,266.5 399.6,267.7 398.7,268.7" stroke="#5e3e24" stroke-width="1.3" stroke-opacity="0.70"/>
<polyline points="398.9,265.0 398.0,264.1 397.2,262.9 396.8,262.0" stroke="#a07850" stroke-width="0.9" stroke-opacity="0.70"/>
<polyline points="425.5,261.2 424.9,261.6 424.7,262.2 425.4,263.6" stroke="#6a4428" stroke-width="1.1" stroke-opacity="0.70"/>
<polyline points="410.2,250.4 410.0,252.0 409.4,252.6 409.3,253.4" stroke="#6a4428" stroke-width="1.2" stroke-opacity="0.70"/>
<polyline points="415.9,247.7 416.4,247.2 417.0,246.6 418.4,246.3" stroke="#8a6040" stroke-width="0.9" stroke-opacity="0.70"/>
<polyline points="433.4,264.4 432.9,262.9 432.2,261.9 431.3,260.7" stroke="#94704c" stroke-width="1.2" stroke-opacity="0.70"/>
<polyline points="439.3,249.2 439.3,247.9 439.4,246.7 439.1,246.0" stroke="#7a5030" stroke-width="0.9" stroke-opacity="0.70"/>
<polyline points="413.6,259.0 414.3,257.7 415.0,256.7 415.4,255.1" stroke="#6a4428" stroke-width="1.2" stroke-opacity="0.70"/>
<polyline points="428.1,268.6 426.6,268.0 425.2,267.3 424.5,267.4" stroke="#94704c" stroke-width="0.9" stroke-opacity="0.70"/>
<polyline points="418.2,262.7 417.0,261.8 415.8,262.1 414.8,261.5" stroke="#6a4428" stroke-width="0.9" stroke-opacity="0.70"/>
<polyline points="402.3,254.6 401.9,255.3 401.0,255.5 399.9,255.0" stroke="#a07850" stroke-width="0.9" stroke-opacity="0.70"/>
<polyline points="396.1,259.9 395.4,259.8 394.7,259.3 393.8,259.0" stroke="#5e3e24" stroke-width="0.8" stroke-opacity="0.70"/>
<polyline points="410.1,255.7 411.0,256.8 412.1,257.3 413.4,257.3" stroke="#7a5030" stroke-width="1.0" stroke-opacity="0.70"/>
<polyline points="405.2,254.2 404.0,253.6 402.7,253.4 401.4,254.1" stroke="#94704c" stroke-width="1.2" stroke-opacity="0.70"/>
<polyline points="398.0,257.8 398.9,257.9 400.0,258.4 400.9,258.9" stroke="#5e3e24" stroke-width="1.3" stroke-opacity="0.70"/>
<polyline points="422.6,259.2 423.4,258.9 424.9,259.2 426.2,260.1" stroke="#7a5030" stroke-width="0.9" stroke-opacity="0.70"/>
<polyline points="408.3,247.9 407.3,247.8 406.3,248.2 405.1,247.8" stroke="#8a6040" stroke-width="1.0" stroke-opacity="0.70"/>
<polyline points="405.6,266.3 406.8,266.0 407.3,265.2 407.3,264.3" stroke="#8a6040" stroke-width="1.2" stroke-opacity="0.70"/>
<polyline points="405.6,264.8 405.5,264.0 404.8,263.4 403.8,263.2" stroke="#7a5030" stroke-width="1.2" stroke-opacity="0.70"/>
<polyline points="404.2,248.2 404.1,247.4 403.9,246.6 403.2,245.9" stroke="#7a5030" stroke-width="0.9" stroke-opacity="0.70"/>
<polyline points="439.7,252.3 438.5,253.4 437.9,254.6 436.5,255.5" stroke="#94704c" stroke-width="1.1" stroke-opacity="0.70"/>
<polyline points="401.3,258.6 400.4,259.2 399.0,259.9 397.4,259.7" stroke="#8a6040" stroke-width="1.1" stroke-opacity="0.70"/>
<polyline points="400.4,235.6 401.3,236.5 401.9,237.0 402.9,237.2" stroke="#5e3e24" stroke-width="0.9" stroke-opacity="0.60"/>
<polyline points="416.7,222.6 416.2,223.4 416.2,224.9 415.2,225.9" stroke="#7a5030" stroke-width="0.8" stroke-opacity="0.60"/>
<polyline points="399.8,221.4 398.9,221.7 398.4,222.3 398.5,223.3" stroke="#94704c" stroke-width="1.0" stroke-opacity="0.60"/>
<polyline points="408.7,235.7 410.1,235.8 411.5,235.1 412.9,235.6" stroke="#7a5030" stroke-width="1.2" stroke-opacity="0.60"/>
<polyline points="401.4,243.0 401.9,241.4 401.6,240.2 400.7,239.3" stroke="#8a6040" stroke-width="1.1" stroke-opacity="0.60"/>
<polyline points="395.7,220.2 396.7,221.5 397.5,222.5 398.3,223.8" stroke="#8a6040" stroke-width="1.1" stroke-opacity="0.60"/>
<polyline points="402.6,221.8 403.3,220.5 404.1,220.2 404.7,219.3" stroke="#6a4428" stroke-width="1.1" stroke-opacity="0.60"/>
<polyline points="417.8,226.8 417.7,225.8 417.7,224.9 418.4,224.0" stroke="#94704c" stroke-width="1.0" stroke-opacity="0.60"/>
<polyline points="415.0,237.9 416.1,237.4 417.6,238.0 418.3,238.5" stroke="#a07850" stroke-width="1.0" stroke-opacity="0.60"/>
<polyline points="409.8,241.6 410.8,242.3 411.5,242.7 412.9,242.8" stroke="#94704c" stroke-width="1.2" stroke-opacity="0.60"/>
<polyline points="412.4,242.0 412.2,240.7 412.9,239.4 413.1,238.1" stroke="#94704c" stroke-width="1.2" stroke-opacity="0.60"/>
<polyline points="408.4,220.8 408.4,220.1 408.8,219.6 410.2,219.4" stroke="#a07850" stroke-width="1.1" stroke-opacity="0.60"/>
<polyline points="399.2,232.4 399.3,233.5 399.4,235.1 400.0,235.8" stroke="#7a5030" stroke-width="1.1" stroke-opacity="0.60"/>
<polyline points="412.7,221.4 412.2,222.7 410.9,223.3 409.7,224.1" stroke="#7a5030" stroke-width="0.8" stroke-opacity="0.60"/>
<polyline points="404.4,233.2 403.6,232.0 402.5,231.6 402.0,231.0" stroke="#8a6040" stroke-width="0.9" stroke-opacity="0.60"/>
<polyline points="416.7,237.9 417.1,237.4 417.8,237.0 418.7,237.0" stroke="#94704c" stroke-width="0.9" stroke-opacity="0.60"/>
<polyline points="408.8,234.4 409.3,235.1 409.1,236.1 409.5,237.6" stroke="#8a6040" stroke-width="1.1" stroke-opacity="0.60"/>
<polyline points="396.1,229.0 397.1,229.5 397.8,229.3 398.5,229.4" stroke="#8a6040" stroke-width="1.0" stroke-opacity="0.60"/>
<polyline points="400.7,226.6 400.8,225.2 401.3,224.1 402.1,223.6" stroke="#7a5030" stroke-width="1.0" stroke-opacity="0.60"/>
<polyline points="395.0,235.0 393.4,235.3 392.4,235.6 391.3,235.8" stroke="#7a5030" stroke-width="0.9" stroke-opacity="0.60"/>
<polyline points="395.4,224.1 393.9,223.4 392.4,223.9 391.1,224.8" stroke="#6a4428" stroke-width="0.8" stroke-opacity="0.60"/>
<polyline points="402.9,238.1 403.0,238.9 403.7,239.9 403.6,241.1" stroke="#6a4428" stroke-width="1.0" stroke-opacity="0.60"/>
<polyline points="406.9,234.7 405.9,234.5 404.2,234.4 403.5,234.3" stroke="#94704c" stroke-width="1.0" stroke-opacity="0.60"/>
<polyline points="415.1,234.5 414.8,233.3 415.7,232.0 416.9,231.9" stroke="#a07850" stroke-width="1.0" stroke-opacity="0.60"/>
<polyline points="407.3,235.8 407.7,234.4 406.9,233.1 406.4,232.7" stroke="#7a5030" stroke-width="1.1" stroke-opacity="0.60"/>
<polyline points="506.1,254.5 505.7,255.9 505.9,257.0 506.3,257.8" stroke="#6a4428" stroke-width="0.8" stroke-opacity="0.70"/>
<polyline points="475.9,249.4 476.4,248.1 477.4,246.9 477.9,246.4" stroke="#7a5030" stroke-width="0.9" stroke-opacity="0.70"/>
<polyline points="501.3,254.1 502.3,254.5 503.7,253.7 504.7,253.8" stroke="#8a6040" stroke-width="1.0" stroke-opacity="0.70"/>
<polyline points="480.7,257.8 481.1,256.4 482.2,255.3 482.8,254.6" stroke="#94704c" stroke-width="1.1" stroke-opacity="0.70"/>
<polyline points="483.3,256.4 484.0,256.4 485.6,256.6 486.8,256.3" stroke="#5e3e24" stroke-width="1.0" stroke-opacity="0.70"/>
<polyline points="478.3,265.1 478.8,264.3 479.5,263.1 480.6,262.5" stroke="#7a5030" stroke-width="1.1" stroke-opacity="0.70"/>
<polyline points="496.2,253.1 496.7,252.4 497.1,251.3 497.5,250.1" stroke="#a07850" stroke-width="1.0" stroke-opacity="0.70"/>
<polyline points="512.6,256.0 513.8,256.0 515.2,255.2 516.3,254.8" stroke="#6a4428" stroke-width="1.0" stroke-opacity="0.70"/>
<polyline points="510.9,253.8 509.6,253.5 508.7,253.9 507.2,253.7" stroke="#a07850" stroke-width="1.3" stroke-opacity="0.70"/>
<polyline points="498.3,255.4 497.4,254.4 497.1,253.5 497.1,252.6" stroke="#a07850" stroke-width="0.8" stroke-opacity="0.70"/>
<polyline points="502.3,261.7 502.8,261.3 504.2,260.4 504.5,259.1" stroke="#8a6040" stroke-width="1.0" stroke-opacity="0.70"/>
<polyline points="499.0,263.1 499.4,262.0 500.2,260.9 501.0,260.1" stroke="#7a5030" stroke-width="1.0" stroke-opacity="0.70"/>
<polyline points="504.6,266.6 505.2,267.3 506.1,267.6 507.1,267.2" stroke="#5e3e24" stroke-width="0.8" stroke-opacity="0.70"/>
<polyline points="503.2,249.7 502.1,249.7 501.4,249.6 500.9,249.0" stroke="#5e3e24" stroke-width="0.9" stroke-opacity="0.70"/>
<polyline points="489.3,256.4 490.3,256.0 491.2,255.8 492.0,255.7" stroke="#a07850" stroke-width="1.1" stroke-opacity="0.70"/>
<polyline points="488.1,250.9 488.2,249.8 488.1,249.0 487.8,248.4" stroke="#a07850" stroke-width="1.1" stroke-opacity="0.70"/>
<polyline points="493.4,248.4 492.9,249.5 491.4,250.1 490.3,250.2" stroke="#6a4428" stroke-width="0.8" stroke-opacity="0.70"/>
<polyline points="491.3,256.8 489.9,257.2 489.3,258.1 488.1,259.0" stroke="#5e3e24" stroke-width="0.9" stroke-opacity="0.70"/>
<polyline points="485.0,253.4 484.3,254.1 483.8,255.4 483.0,256.3" stroke="#a07850" stroke-width="1.2" stroke-opacity="0.70"/>
<polyline points="491.8,262.8 492.6,262.4 493.4,262.6 494.1,262.4" stroke="#94704c" stroke-width="0.8" stroke-opacity="0.70"/>
<polyline points="496.8,256.1 497.0,256.7 497.5,257.9 498.6,258.5" stroke="#8a6040" stroke-width="0.9" stroke-opacity="0.70"/>
<polyline points="482.5,250.1 483.3,251.3 484.3,252.0 484.5,253.3" stroke="#8a6040" stroke-width="1.0" stroke-opacity="0.70"/>
<polyline points="476.6,262.2 476.5,263.8 477.1,265.0 477.7,266.1" stroke="#94704c" stroke-width="1.0" stroke-opacity="0.70"/>
<polyline points="494.5,267.5 494.7,268.3 496.1,268.9 497.0,268.4" stroke="#8a6040" stroke-width="1.0" stroke-opacity="0.70"/>
<polyline points="499.8,256.3 499.1,257.7 498.3,258.6 498.1,259.7" stroke="#6a4428" stroke-width="1.1" stroke-opacity="0.70"/>
<polyline points="494.1,263.4 494.7,264.5 494.5,265.6 493.9,266.1" stroke="#94704c" stroke-width="1.2" stroke-opacity="0.70"/>
<polyline points="487.8,252.4 488.6,252.6 489.9,253.4 490.1,254.8" stroke="#7a5030" stroke-width="0.9" stroke-opacity="0.70"/>
<polyline points="479.9,246.5 479.7,245.9 480.1,245.0 479.9,244.3" stroke="#6a4428" stroke-width="1.2" stroke-opacity="0.70"/>
<polyline points="487.4,260.6 488.5,259.5 488.4,258.0 488.2,257.1" stroke="#6a4428" stroke-width="0.9" stroke-opacity="0.70"/>
<polyline points="513.0,255.9 513.3,256.9 512.9,257.7 513.3,258.8" stroke="#a07850" stroke-width="0.8" stroke-opacity="0.70"/>
<polyline points="480.2,253.7 480.0,254.4 479.2,255.8 478.3,256.6" stroke="#6a4428" stroke-width="0.9" stroke-opacity="0.70"/>
<polyline points="485.6,260.9 486.7,260.9 487.3,261.4 488.4,262.4" stroke="#94704c" stroke-width="1.0" stroke-opacity="0.70"/>
<polyline points="513.7,252.6 514.4,252.6 515.7,253.5 516.2,254.8" stroke="#8a6040" stroke-width="0.9" stroke-opacity="0.70"/>
<polyline points="501.4,267.4 500.2,267.5 499.0,266.7 498.0,265.7" stroke="#7a5030" stroke-width="1.2" stroke-opacity="0.70"/>
<polyline points="483.0,248.1 483.4,247.2 484.4,246.3 485.9,245.8" stroke="#5e3e24" stroke-width="1.2" stroke-opacity="0.70"/>
<polyline points="500.5,257.6 501.1,256.8 501.8,256.5 503.3,256.0" stroke="#8a6040" stroke-width="1.2" stroke-opacity="0.70"/>
<polyline points="486.5,267.8 487.3,268.2 488.0,268.3 488.7,267.6" stroke="#6a4428" stroke-width="1.0" stroke-opacity="0.70"/>
<polyline points="495.0,262.1 495.6,260.9 495.8,260.0 495.2,259.2" stroke="#a07850" stroke-width="1.3" stroke-opacity="0.70"/>
<polyline points="484.5,247.9 483.0,247.8 482.1,247.2 481.1,247.2" stroke="#a07850" stroke-width="0.9" stroke-opacity="0.70"/>
<polyline points="506.8,252.8 507.4,253.8 508.1,254.5 508.1,255.6" stroke="#5e3e24" stroke-width="1.1" stroke-opacity="0.70"/>
<polyline points="510.9,264.2 509.4,263.8 508.3,264.3 507.3,265.0" stroke="#a07850" stroke-width="1.3" stroke-opacity="0.70"/>
<polyline points="485.5,266.0 484.7,267.2 483.3,268.0 482.3,268.0" stroke="#a07850" stroke-width="1.1" stroke-opacity="0.70"/>
<polyline points="510.5,259.5 511.8,258.9 513.4,258.6 514.9,259.0" stroke="#94704c" stroke-width="1.1" stroke-opacity="0.70"/>
<polyline points="487.9,268.2 488.1,266.7 487.9,265.6 487.4,264.5" stroke="#5e3e24" stroke-width="1.1" stroke-opacity="0.70"/>
<polyline points="484.7,262.8 484.3,263.8 483.1,264.3 482.2,264.3" stroke="#94704c" stroke-width="1.3" stroke-opacity="0.70"/>
<polyline points="481.0,258.9 480.8,260.4 479.7,261.4 478.9,262.4" stroke="#7a5030" stroke-width="1.0" stroke-opacity="0.70"/>
<polyline points="484.8,264.8 483.9,266.0 483.2,266.1 482.4,265.7" stroke="#5e3e24" stroke-width="1.2" stroke-opacity="0.70"/>
<polyline points="505.2,261.8 504.6,260.5 504.3,259.3 504.0,258.2" stroke="#8a6040" stroke-width="0.9" stroke-opacity="0.70"/>
<polyline points="509.4,258.0 510.3,259.2 511.1,260.0 511.9,260.3" stroke="#a07850" stroke-width="1.2" stroke-opacity="0.70"/>
<polyline points="478.4,248.0 477.6,246.9 476.3,246.7 475.2,246.1" stroke="#7a5030" stroke-width="1.2" stroke-opacity="0.70"/>
<polyline points="507.8,253.4 506.9,252.9 505.6,253.4 504.5,253.0" stroke="#a07850" stroke-width="0.8" stroke-opacity="0.70"/>
<polyline points="498.4,254.5 497.2,253.7 496.3,253.6 495.2,253.7" stroke="#94704c" stroke-width="0.9" stroke-opacity="0.70"/>
<polyline points="490.8,253.6 491.3,252.6 491.2,251.6 491.5,250.9" stroke="#a07850" stroke-width="1.2" stroke-opacity="0.70"/>
<polyline points="514.2,268.3 514.6,269.0 515.8,269.9 516.1,271.1" stroke="#6a4428" stroke-width="0.8" stroke-opacity="0.70"/>
<polyline points="497.7,262.7 496.8,263.0 495.4,263.8 494.9,264.7" stroke="#6a4428" stroke-width="1.2" stroke-opacity="0.70"/>
<polyline points="503.4,259.0 504.9,259.0 505.6,258.3 506.1,257.1" stroke="#94704c" stroke-width="1.2" stroke-opacity="0.70"/>
<polyline points="501.3,263.6 501.4,262.3 502.1,261.8 502.9,261.2" stroke="#94704c" stroke-width="1.0" stroke-opacity="0.70"/>
<polyline points="504.0,262.6 504.6,261.9 505.7,261.5 506.3,261.7" stroke="#7a5030" stroke-width="1.1" stroke-opacity="0.70"/>
<polyline points="478.7,245.5 478.6,244.8 478.5,244.1 478.4,242.7" stroke="#8a6040" stroke-width="1.2" stroke-opacity="0.70"/>
<polyline points="512.1,267.3 512.3,268.1 512.7,269.0 513.5,269.8" stroke="#8a6040" stroke-width="0.9" stroke-opacity="0.70"/>
<ellipse cx="399.5" cy="190.2" rx="1.5" ry="1.3" fill="#605470" fill-opacity="0.75"/>
<ellipse cx="402.8" cy="192.1" rx="1.3" ry="1.3" fill="#54485e" fill-opacity="0.75"/>
<ellipse cx="409.2" cy="190.7" rx="1.8" ry="1.4" fill="#605470" fill-opacity="0.75"/>
<ellipse cx="414.5" cy="191.7" rx="1.2" ry="1.1" fill="#54485e" fill-opacity="0.75"/>
<ellipse cx="419.3" cy="193.1" rx="1.5" ry="1.3" fill="#605470" fill-opacity="0.75"/>
<ellipse cx="424.1" cy="189.6" rx="1.2" ry="0.9" fill="#6a5e78" fill-opacity="0.75"/>
<ellipse cx="431.9" cy="193.4" rx="1.6" ry="1.5" fill="#6a5e78" fill-opacity="0.75"/>
<ellipse cx="438.4" cy="188.5" rx="1.3" ry="1.2" fill="#54485e" fill-opacity="0.75"/>
<ellipse cx="441.7" cy="188.8" rx="1.7" ry="1.4" fill="#4a4258" fill-opacity="0.75"/>
<ellipse cx="447.7" cy="189.5" rx="1.5" ry="1.2" fill="#6a5e78" fill-opacity="0.75"/>
<ellipse cx="455.3" cy="189.0" rx="1.8" ry="1.4" fill="#4a4258" fill-opacity="0.75"/>
<ellipse cx="458.8" cy="188.4" rx="1.2" ry="1.2" fill="#6a5e78" fill-opacity="0.75"/>
<ellipse cx="466.5" cy="189.4" rx="1.4" ry="1.2" fill="#6a5e78" fill-opacity="0.75"/>
<ellipse cx="471.4" cy="190.9" rx="1.6" ry="1.8" fill="#4a4258" fill-opacity="0.75"/>
<ellipse cx="477.4" cy="191.6" rx="1.3" ry="1.0" fill="#4a4258" fill-opacity="0.75"/>
<ellipse cx="480.6" cy="189.5" rx="1.1" ry="1.2" fill="#4a4258" fill-opacity="0.75"/>
<ellipse cx="486.1" cy="192.9" rx="1.5" ry="1.6" fill="#6a5e78" fill-opacity="0.75"/>
<ellipse cx="495.7" cy="192.0" rx="1.9" ry="1.7" fill="#4a4258" fill-opacity="0.75"/>
<ellipse cx="496.5" cy="190.9" rx="1.5" ry="1.2" fill="#4a4258" fill-opacity="0.75"/>
<ellipse cx="502.8" cy="188.5" rx="1.7" ry="1.8" fill="#6a5e78" fill-opacity="0.75"/>
<ellipse cx="512.5" cy="188.9" rx="1.8" ry="1.5" fill="#6a5e78" fill-opacity="0.75"/>
<ellipse cx="515.8" cy="193.0" rx="1.2" ry="1.2" fill="#6a5e78" fill-opacity="0.75"/>
<ellipse cx="396.9" cy="199.0" rx="1.6" ry="1.4" fill="#6a5e78" fill-opacity="0.75"/>
<ellipse cx="401.9" cy="196.7" rx="1.8" ry="1.9" fill="#6a5e78" fill-opacity="0.75"/>
<ellipse cx="409.8" cy="198.0" rx="1.3" ry="1.4" fill="#6a5e78" fill-opacity="0.75"/>
<ellipse cx="416.0" cy="199.1" rx="1.9" ry="1.9" fill="#605470" fill-opacity="0.75"/>
<ellipse cx="417.7" cy="197.5" rx="1.3" ry="1.1" fill="#54485e" fill-opacity="0.75"/>
<ellipse cx="425.5" cy="194.1" rx="1.4" ry="1.6" fill="#605470" fill-opacity="0.75"/>
<ellipse cx="429.5" cy="196.5" rx="1.8" ry="1.5" fill="#605470" fill-opacity="0.75"/>
<ellipse cx="436.7" cy="197.4" rx="1.7" ry="1.9" fill="#4a4258" fill-opacity="0.75"/>
<ellipse cx="440.9" cy="196.8" rx="1.1" ry="1.1" fill="#4a4258" fill-opacity="0.75"/>
<ellipse cx="447.3" cy="197.1" rx="1.4" ry="1.3" fill="#605470" fill-opacity="0.75"/>
<ellipse cx="452.7" cy="196.0" rx="1.4" ry="1.4" fill="#4a4258" fill-opacity="0.75"/>
<ellipse cx="461.7" cy="197.0" rx="1.7" ry="1.6" fill="#6a5e78" fill-opacity="0.75"/>
<ellipse cx="465.3" cy="197.4" rx="1.7" ry="1.7" fill="#4a4258" fill-opacity="0.75"/>
<ellipse cx="471.2" cy="195.2" rx="1.4" ry="1.3" fill="#4a4258" fill-opacity="0.75"/>
<ellipse cx="473.4" cy="198.0" rx="1.4" ry="1.5" fill="#54485e" fill-opacity="0.75"/>
<ellipse cx="483.5" cy="194.8" rx="1.4" ry="1.5" fill="#605470" fill-opacity="0.75"/>
<ellipse cx="484.8" cy="198.1" rx="1.2" ry="1.1" fill="#6a5e78" fill-opacity="0.75"/>
<ellipse cx="494.4" cy="193.7" rx="1.3" ry="1.0" fill="#605470" fill-opacity="0.75"/>
<ellipse cx="500.9" cy="194.9" rx="1.3" ry="1.1" fill="#54485e" fill-opacity="0.75"/>
<ellipse cx="504.4" cy="198.6" rx="1.6" ry="1.2" fill="#54485e" fill-opacity="0.75"/>
<ellipse cx="511.2" cy="196.2" rx="1.1" ry="1.1" fill="#4a4258" fill-opacity="0.75"/>
<ellipse cx="517.4" cy="195.6" rx="1.6" ry="1.2" fill="#4a4258" fill-opacity="0.75"/>
<ellipse cx="398.4" cy="203.7" rx="1.6" ry="1.5" fill="#605470" fill-opacity="0.75"/>
<ellipse cx="401.6" cy="201.4" rx="1.7" ry="1.8" fill="#605470" fill-opacity="0.75"/>
<ellipse cx="410.0" cy="202.8" rx="1.3" ry="1.3" fill="#4a4258" fill-opacity="0.75"/>
<ellipse cx="413.1" cy="201.3" rx="1.4" ry="1.5" fill="#54485e" fill-opacity="0.75"/>
<ellipse cx="422.6" cy="200.1" rx="1.4" ry="1.2" fill="#6a5e78" fill-opacity="0.75"/>
<ellipse cx="423.9" cy="199.2" rx="1.2" ry="1.3" fill="#54485e" fill-opacity="0.75"/>
<ellipse cx="430.9" cy="202.3" rx="1.9" ry="1.6" fill="#54485e" fill-opacity="0.75"/>
<ellipse cx="438.5" cy="202.1" rx="1.3" ry="1.2" fill="#605470" fill-opacity="0.75"/>
<ellipse cx="444.5" cy="203.9" rx="1.8" ry="1.6" fill="#6a5e78" fill-opacity="0.75"/>
<ellipse cx="447.8" cy="204.2" rx="1.8" ry="1.9" fill="#54485e" fill-opacity="0.75"/>
<ellipse cx="456.5" cy="199.3" rx="1.3" ry="1.0" fill="#6a5e78" fill-opacity="0.75"/>
<ellipse cx="457.4" cy="203.6" rx="1.3" ry="1.0" fill="#4a4258" fill-opacity="0.75"/>
<ellipse cx="467.4" cy="200.3" rx="1.7" ry="1.7" fill="#4a4258" fill-opacity="0.75"/>
<ellipse cx="472.6" cy="201.6" rx="1.5" ry="1.6" fill="#605470" fill-opacity="0.75"/>
<ellipse cx="477.8" cy="199.5" rx="1.9" ry="1.8" fill="#54485e" fill-opacity="0.75"/>
<ellipse cx="482.2" cy="204.5" rx="1.4" ry="1.2" fill="#4a4258" fill-opacity="0.75"/>
<ellipse cx="488.7" cy="203.6" rx="1.6" ry="1.6" fill="#4a4258" fill-opacity="0.75"/>
<ellipse cx="495.8" cy="200.2" rx="1.7" ry="1.6" fill="#6a5e78" fill-opacity="0.75"/>
<ellipse cx="497.0" cy="204.4" rx="1.3" ry="1.2" fill="#6a5e78" fill-opacity="0.75"/>
<ellipse cx="506.3" cy="204.7" rx="1.6" ry="1.2" fill="#4a4258" fill-opacity="0.75"/>
<ellipse cx="512.4" cy="201.5" rx="1.3" ry="1.2" fill="#54485e" fill-opacity="0.75"/>
<ellipse cx="513.6" cy="202.5" rx="1.3" ry="1.3" fill="#4a4258" fill-opacity="0.75"/>
<ellipse cx="398.0" cy="206.9" rx="1.6" ry="1.4" fill="#605470" fill-opacity="0.75"/>
<ellipse cx="404.1" cy="207.7" rx="1.8" ry="1.5" fill="#54485e" fill-opacity="0.75"/>
<ellipse cx="410.3" cy="206.0" rx="1.8" ry="1.5" fill="#54485e" fill-opacity="0.75"/>
<ellipse cx="415.3" cy="206.2" rx="1.2" ry="1.1" fill="#54485e" fill-opacity="0.75"/>
<ellipse cx="418.4" cy="204.9" rx="1.2" ry="1.2" fill="#605470" fill-opacity="0.75"/>
<ellipse cx="425.6" cy="208.4" rx="1.2" ry="1.2" fill="#4a4258" fill-opacity="0.75"/>
<ellipse cx="429.0" cy="206.4" rx="1.2" ry="1.1" fill="#6a5e78" fill-opacity="0.75"/>
<ellipse cx="439.0" cy="205.9" rx="1.3" ry="1.5" fill="#54485e" fill-opacity="0.75"/>
<ellipse cx="442.1" cy="205.2" rx="1.6" ry="1.5" fill="#605470" fill-opacity="0.75"/>
<ellipse cx="445.6" cy="210.4" rx="1.3" ry="1.1" fill="#4a4258" fill-opacity="0.75"/>
<ellipse cx="451.7" cy="207.5" rx="1.3" ry="1.2" fill="#54485e" fill-opacity="0.75"/>
<ellipse cx="462.1" cy="208.0" rx="1.6" ry="1.5" fill="#4a4258" fill-opacity="0.75"/>
<ellipse cx="466.0" cy="207.0" rx="1.9" ry="2.0" fill="#6a5e78" fill-opacity="0.75"/>
<ellipse cx="467.9" cy="209.7" rx="1.2" ry="1.0" fill="#54485e" fill-opacity="0.75"/>
<ellipse cx="475.0" cy="207.5" rx="1.5" ry="1.4" fill="#4a4258" fill-opacity="0.75"/>
<ellipse cx="483.7" cy="206.7" rx="1.7" ry="1.4" fill="#4a4258" fill-opacity="0.75"/>
<ellipse cx="485.3" cy="205.6" rx="1.4" ry="1.2" fill="#6a5e78" fill-opacity="0.75"/>
<ellipse cx="490.4" cy="206.4" rx="1.2" ry="1.1" fill="#605470" fill-opacity="0.75"/>
<ellipse cx="499.3" cy="205.1" rx="1.6" ry="1.3" fill="#605470" fill-opacity="0.75"/>
<ellipse cx="501.4" cy="207.8" rx="1.6" ry="1.2" fill="#54485e" fill-opacity="0.75"/>
<ellipse cx="507.6" cy="207.1" rx="1.7" ry="1.5" fill="#6a5e78" fill-opacity="0.75"/>
<ellipse cx="517.8" cy="209.2" rx="1.8" ry="1.4" fill="#6a5e78" fill-opacity="0.75"/>
<ellipse cx="399.8" cy="213.0" rx="1.6" ry="1.4" fill="#54485e" fill-opacity="0.75"/>
<ellipse cx="401.9" cy="212.4" rx="1.7" ry="1.5" fill="#6a5e78" fill-opacity="0.75"/>
<ellipse cx="410.2" cy="210.6" rx="1.2" ry="1.2" fill="#6a5e78" fill-opacity="0.75"/>
<ellipse cx="414.3" cy="213.5" rx="1.8" ry="1.4" fill="#54485e" fill-opacity="0.75"/>
<ellipse cx="417.9" cy="214.4" rx="1.9" ry="1.8" fill="#54485e" fill-opacity="0.75"/>
<ellipse cx="428.0" cy="213.9" rx="1.3" ry="1.1" fill="#54485e" fill-opacity="0.75"/>
<ellipse cx="430.0" cy="214.6" rx="1.7" ry="1.8" fill="#54485e" fill-opacity="0.75"/>
<ellipse cx="435.3" cy="210.6" rx="1.8" ry="1.7" fill="#4a4258" fill-opacity="0.75"/>
<ellipse cx="444.5" cy="211.1" rx="1.3" ry="1.4" fill="#54485e" fill-opacity="0.75"/>
<ellipse cx="450.5" cy="210.5" rx="1.3" ry="1.0" fill="#605470" fill-opacity="0.75"/>
<ellipse cx="454.6" cy="214.1" rx="1.3" ry="1.0" fill="#6a5e78" fill-opacity="0.75"/>
<ellipse cx="460.9" cy="210.6" rx="1.7" ry="1.6" fill="#605470" fill-opacity="0.75"/>
<ellipse cx="463.7" cy="211.1" rx="1.9" ry="1.6" fill="#605470" fill-opacity="0.75"/>
<ellipse cx="468.7" cy="211.1" rx="1.5" ry="1.5" fill="#605470" fill-opacity="0.75"/>
<ellipse cx="476.7" cy="214.4" rx="1.3" ry="1.2" fill="#605470" fill-opacity="0.75"/>
<ellipse cx="484.5" cy="212.7" rx="1.3" ry="1.1" fill="#4a4258" fill-opacity="0.75"/>
<ellipse cx="489.1" cy="212.1" rx="1.8" ry="1.9" fill="#6a5e78" fill-opacity="0.75"/>
<ellipse cx="494.4" cy="214.2" rx="1.2" ry="0.9" fill="#4a4258" fill-opacity="0.75"/>
<ellipse cx="498.0" cy="213.2" rx="1.5" ry="1.1" fill="#4a4258" fill-opacity="0.75"/>
<ellipse cx="506.3" cy="215.2" rx="1.7" ry="1.5" fill="#6a5e78" fill-opacity="0.75"/>
<ellipse cx="512.2" cy="215.0" rx="1.6" ry="1.6" fill="#6a5e78" fill-opacity="0.75"/>
<ellipse cx="513.1" cy="213.7" rx="1.8" ry="1.6" fill="#605470" fill-opacity="0.75"/>
<ellipse cx="398.8" cy="221.1" rx="1.1" ry="1.2" fill="#6a5e78" fill-opacity="0.75"/>
<ellipse cx="405.2" cy="219.3" rx="1.2" ry="1.1" fill="#4a4258" fill-opacity="0.75"/>
<ellipse cx="409.5" cy="221.0" rx="1.7" ry="1.9" fill="#605470" fill-opacity="0.75"/>
<ellipse cx="412.3" cy="220.0" rx="1.7" ry="1.9" fill="#6a5e78" fill-opacity="0.75"/>
<ellipse cx="420.9" cy="221.0" rx="1.8" ry="1.6" fill="#4a4258" fill-opacity="0.75"/>
<ellipse cx="426.2" cy="218.3" rx="1.3" ry="1.3" fill="#4a4258" fill-opacity="0.75"/>
<ellipse cx="430.3" cy="218.6" rx="1.4" ry="1.5" fill="#54485e" fill-opacity="0.75"/>
<ellipse cx="436.1" cy="219.6" rx="1.1" ry="1.1" fill="#6a5e78" fill-opacity="0.75"/>
<ellipse cx="440.8" cy="218.0" rx="1.2" ry="0.9" fill="#54485e" fill-opacity="0.75"/>
<ellipse cx="446.6" cy="218.7" rx="1.8" ry="1.8" fill="#605470" fill-opacity="0.75"/>
<ellipse cx="453.9" cy="220.5" rx="1.5" ry="1.6" fill="#6a5e78" fill-opacity="0.75"/>
<ellipse cx="459.5" cy="218.2" rx="1.5" ry="1.4" fill="#6a5e78" fill-opacity="0.75"/>
<ellipse cx="462.6" cy="219.0" rx="1.3" ry="1.2" fill="#54485e" fill-opacity="0.75"/>
<ellipse cx="470.8" cy="218.5" rx="1.2" ry="1.0" fill="#6a5e78" fill-opacity="0.75"/>
<ellipse cx="477.2" cy="220.1" rx="1.3" ry="1.3" fill="#605470" fill-opacity="0.75"/>
<ellipse cx="479.2" cy="216.4" rx="1.4" ry="1.1" fill="#6a5e78" fill-opacity="0.75"/>
<ellipse cx="488.2" cy="220.4" rx="1.1" ry="1.1" fill="#605470" fill-opacity="0.75"/>
<ellipse cx="491.2" cy="218.4" rx="1.1" ry="1.0" fill="#54485e" fill-opacity="0.75"/>
<ellipse cx="497.7" cy="217.5" rx="1.8" ry="1.7" fill="#4a4258" fill-opacity="0.75"/>
<ellipse cx="502.3" cy="217.6" rx="1.9" ry="2.0" fill="#4a4258" fill-opacity="0.75"/>
<ellipse cx="509.4" cy="219.9" rx="1.2" ry="0.9" fill="#54485e" fill-opacity="0.75"/>
<ellipse cx="518.1" cy="218.4" rx="1.3" ry="1.0" fill="#4a4258" fill-opacity="0.75"/>
<ellipse cx="398.7" cy="224.3" rx="1.7" ry="1.8" fill="#6a5e78" fill-opacity="0.75"/>
<ellipse cx="403.4" cy="222.1" rx="1.2" ry="1.2" fill="#605470" fill-opacity="0.75"/>
<ellipse cx="411.7" cy="223.7" rx="1.1" ry="0.9" fill="#6a5e78" fill-opacity="0.75"/>
<ellipse cx="416.0" cy="225.0" rx="1.7" ry="1.6" fill="#605470" fill-opacity="0.75"/>
<ellipse cx="417.8" cy="225.5" rx="1.8" ry="1.5" fill="#4a4258" fill-opacity="0.75"/>
<ellipse cx="425.6" cy="223.7" rx="1.5" ry="1.3" fill="#4a4258" fill-opacity="0.75"/>
<ellipse cx="431.9" cy="225.1" rx="1.2" ry="1.3" fill="#4a4258" fill-opacity="0.75"/>
<ellipse cx="439.7" cy="225.4" rx="1.1" ry="1.1" fill="#4a4258" fill-opacity="0.75"/>
<ellipse cx="441.0" cy="225.1" rx="1.1" ry="1.1" fill="#6a5e78" fill-opacity="0.75"/>
<ellipse cx="449.5" cy="226.6" rx="1.6" ry="1.6" fill="#605470" fill-opacity="0.75"/>
<ellipse cx="455.5" cy="221.9" rx="1.4" ry="1.1" fill="#54485e" fill-opacity="0.75"/>
<ellipse cx="458.3" cy="224.7" rx="1.6" ry="1.7" fill="#54485e" fill-opacity="0.75"/>
<ellipse cx="467.3" cy="227.0" rx="1.3" ry="1.3" fill="#6a5e78" fill-opacity="0.75"/>
<ellipse cx="472.3" cy="226.8" rx="1.5" ry="1.5" fill="#605470" fill-opacity="0.75"/>
<ellipse cx="473.5" cy="222.6" rx="1.4" ry="1.3" fill="#4a4258" fill-opacity="0.75"/>
<ellipse cx="482.6" cy="224.6" rx="1.3" ry="1.3" fill="#4a4258" fill-opacity="0.75"/>
<ellipse cx="489.5" cy="226.4" rx="1.8" ry="1.6" fill="#6a5e78" fill-opacity="0.75"/>
<ellipse cx="490.7" cy="226.3" rx="1.9" ry="1.9" fill="#4a4258" fill-opacity="0.75"/>
<ellipse cx="495.8" cy="225.8" rx="1.9" ry="1.5" fill="#605470" fill-opacity="0.75"/>
<ellipse cx="502.0" cy="223.8" rx="1.9" ry="1.4" fill="#605470" fill-opacity="0.75"/>
<ellipse cx="507.5" cy="227.2" rx="1.3" ry="1.1" fill="#54485e" fill-opacity="0.75"/>
<ellipse cx="516.0" cy="224.5" rx="1.7" ry="1.7" fill="#6a5e78" fill-opacity="0.75"/>
<ellipse cx="396.9" cy="230.2" rx="1.8" ry="1.6" fill="#6a5e78" fill-opacity="0.75"/>
<ellipse cx="402.7" cy="229.7" rx="1.4" ry="1.1" fill="#4a4258" fill-opacity="0.75"/>
<ellipse cx="408.6" cy="227.6" rx="1.5" ry="1.6" fill="#605470" fill-opacity="0.75"/>
<ellipse cx="415.1" cy="230.8" rx="1.6" ry="1.3" fill="#54485e" fill-opacity="0.75"/>
<ellipse cx="418.2" cy="231.6" rx="1.1" ry="1.1" fill="#54485e" fill-opacity="0.75"/>
<ellipse cx="427.8" cy="232.8" rx="1.3" ry="1.4" fill="#4a4258" fill-opacity="0.75"/>
<ellipse cx="433.4" cy="227.7" rx="1.9" ry="2.0" fill="#6a5e78" fill-opacity="0.75"/>
<ellipse cx="436.4" cy="229.8" rx="1.7" ry="1.4" fill="#605470" fill-opacity="0.75"/>
<ellipse cx="443.8" cy="230.4" rx="1.7" ry="1.4" fill="#6a5e78" fill-opacity="0.75"/>
<ellipse cx="449.4" cy="228.9" rx="1.3" ry="1.2" fill="#6a5e78" fill-opacity="0.75"/>
<ellipse cx="452.3" cy="231.8" rx="1.7" ry="1.7" fill="#4a4258" fill-opacity="0.75"/>
<ellipse cx="460.5" cy="232.5" rx="1.6" ry="1.4" fill="#4a4258" fill-opacity="0.75"/>
<ellipse cx="465.1" cy="232.0" rx="1.8" ry="1.6" fill="#6a5e78" fill-opacity="0.75"/>
<ellipse cx="471.1" cy="231.8" rx="1.2" ry="1.1" fill="#605470" fill-opacity="0.75"/>
<ellipse cx="474.8" cy="227.6" rx="1.2" ry="1.1" fill="#4a4258" fill-opacity="0.75"/>
<ellipse cx="483.0" cy="227.5" rx="1.2" ry="1.0" fill="#6a5e78" fill-opacity="0.75"/>
<ellipse cx="487.5" cy="229.3" rx="1.5" ry="1.7" fill="#4a4258" fill-opacity="0.75"/>
<ellipse cx="491.5" cy="228.9" rx="1.1" ry="0.8" fill="#54485e" fill-opacity="0.75"/>
<ellipse cx="500.3" cy="232.7" rx="1.7" ry="1.7" fill="#54485e" fill-opacity="0.75"/>
<ellipse cx="502.1" cy="230.8" rx="1.1" ry="1.2" fill="#4a4258" fill-opacity="0.75"/>
<ellipse cx="509.3" cy="228.2" rx="1.3" ry="1.0" fill="#4a4258" fill-opacity="0.75"/>
<ellipse cx="515.1" cy="229.3" rx="1.5" ry="1.4" fill="#4a4258" fill-opacity="0.75"/>
<ellipse cx="395.8" cy="234.8" rx="1.1" ry="1.2" fill="#54485e" fill-opacity="0.75"/>
<ellipse cx="401.4" cy="236.8" rx="1.6" ry="1.5" fill="#4a4258" fill-opacity="0.75"/>
<ellipse cx="408.4" cy="233.1" rx="1.6" ry="1.4" fill="#54485e" fill-opacity="0.75"/>
<ellipse cx="415.0" cy="235.6" rx="1.6" ry="1.5" fill="#605470" fill-opacity="0.75"/>
<ellipse cx="418.3" cy="236.4" rx="1.7" ry="1.7" fill="#605470" fill-opacity="0.75"/>
<ellipse cx="426.6" cy="237.3" rx="1.2" ry="1.0" fill="#4a4258" fill-opacity="0.75"/>
<ellipse cx="433.2" cy="235.3" rx="1.3" ry="1.2" fill="#605470" fill-opacity="0.75"/>
<ellipse cx="438.2" cy="235.0" rx="1.3" ry="1.0" fill="#605470" fill-opacity="0.75"/>
<ellipse cx="440.3" cy="238.1" rx="1.8" ry="1.9" fill="#54485e" fill-opacity="0.75"/>
<ellipse cx="447.6" cy="237.0" rx="1.2" ry="1.3" fill="#4a4258" fill-opacity="0.75"/>
<ellipse cx="455.9" cy="235.6" rx="1.7" ry="1.8" fill="#4a4258" fill-opacity="0.75"/>
<ellipse cx="461.0" cy="236.3" rx="1.8" ry="1.4" fill="#54485e" fill-opacity="0.75"/>
<ellipse cx="466.0" cy="235.4" rx="1.8" ry="1.8" fill="#54485e" fill-opacity="0.75"/>
<ellipse cx="469.5" cy="234.7" rx="1.4" ry="1.2" fill="#605470" fill-opacity="0.75"/>
<ellipse cx="474.0" cy="233.4" rx="1.7" ry="1.6" fill="#605470" fill-opacity="0.75"/>
<ellipse cx="483.0" cy="236.1" rx="1.3" ry="1.3" fill="#6a5e78" fill-opacity="0.75"/>
<ellipse cx="490.0" cy="234.4" rx="1.4" ry="1.4" fill="#54485e" fill-opacity="0.75"/>
<ellipse cx="495.7" cy="235.0" rx="1.3" ry="1.1" fill="#4a4258" fill-opacity="0.75"/>
<ellipse cx="495.9" cy="234.1" rx="1.9" ry="1.8" fill="#54485e" fill-opacity="0.75"/>
<ellipse cx="503.9" cy="238.1" rx="1.4" ry="1.1" fill="#605470" fill-opacity="0.75"/>
<ellipse cx="507.6" cy="236.4" rx="1.5" ry="1.2" fill="#605470" fill-opacity="0.75"/>
<ellipse cx="517.3" cy="237.4" rx="1.2" ry="1.3" fill="#4a4258" fill-opacity="0.75"/>
<ellipse cx="398.1" cy="239.5" rx="1.3" ry="1.1" fill="#605470" fill-opacity="0.75"/>
<ellipse cx="404.8" cy="240.8" rx="1.4" ry="1.4" fill="#605470" fill-opacity="0.75"/>
<ellipse cx="409.9" cy="241.1" rx="1.7" ry="1.4" fill="#6a5e78" fill-opacity="0.75"/>
<ellipse cx="411.8" cy="240.9" rx="1.4" ry="1.2" fill="#6a5e78" fill-opacity="0.75"/>
<ellipse cx="421.0" cy="240.2" rx="1.1" ry="1.1" fill="#605470" fill-opacity="0.75"/>
<ellipse cx="428.1" cy="239.1" rx="1.1" ry="1.0" fill="#605470" fill-opacity="0.75"/>
<ellipse cx="429.2" cy="243.7" rx="1.9" ry="1.6" fill="#6a5e78" fill-opacity="0.75"/>
<ellipse cx="435.9" cy="239.7" rx="1.3" ry="1.1" fill="#6a5e78" fill-opacity="0.75"/>
<ellipse cx="440.1" cy="240.9" rx="1.7" ry="1.6" fill="#4a4258" fill-opacity="0.75"/>
<ellipse cx="447.9" cy="242.3" rx="1.6" ry="1.2" fill="#4a4258" fill-opacity="0.75"/>
<ellipse cx="452.3" cy="239.0" rx="1.3" ry="1.1" fill="#54485e" fill-opacity="0.75"/>
<ellipse cx="460.4" cy="241.2" rx="1.1" ry="1.1" fill="#4a4258" fill-opacity="0.75"/>
<ellipse cx="464.0" cy="239.4" rx="1.2" ry="1.2" fill="#4a4258" fill-opacity="0.75"/>
<ellipse cx="473.2" cy="238.9" rx="1.1" ry="1.1" fill="#6a5e78" fill-opacity="0.75"/>
<ellipse cx="475.3" cy="243.2" rx="1.2" ry="1.0" fill="#4a4258" fill-opacity="0.75"/>
<ellipse cx="479.4" cy="242.5" rx="1.4" ry="1.3" fill="#605470" fill-opacity="0.75"/>
<ellipse cx="485.4" cy="242.9" rx="1.5" ry="1.4" fill="#4a4258" fill-opacity="0.75"/>
<ellipse cx="490.7" cy="239.0" rx="1.3" ry="1.1" fill="#4a4258" fill-opacity="0.75"/>
<ellipse cx="500.5" cy="242.5" rx="1.7" ry="1.6" fill="#6a5e78" fill-opacity="0.75"/>
<ellipse cx="505.6" cy="240.8" rx="1.7" ry="1.3" fill="#54485e" fill-opacity="0.75"/>
<ellipse cx="507.9" cy="243.1" rx="1.6" ry="1.2" fill="#6a5e78" fill-opacity="0.75"/>
<ellipse cx="518.2" cy="241.0" rx="1.2" ry="1.2" fill="#4a4258" fill-opacity="0.75"/>
<ellipse cx="400.5" cy="244.7" rx="1.8" ry="1.5" fill="#54485e" fill-opacity="0.75"/>
<ellipse cx="400.9" cy="245.7" rx="1.3" ry="1.4" fill="#605470" fill-opacity="0.75"/>
<ellipse cx="409.9" cy="246.4" rx="1.3" ry="1.2" fill="#54485e" fill-opacity="0.75"/>
<ellipse cx="416.5" cy="249.1" rx="1.8" ry="1.5" fill="#4a4258" fill-opacity="0.75"/>
<ellipse cx="419.8" cy="247.9" rx="1.1" ry="1.0" fill="#54485e" fill-opacity="0.75"/>
<ellipse cx="426.2" cy="249.5" rx="1.7" ry="1.7" fill="#6a5e78" fill-opacity="0.75"/>
<ellipse cx="429.8" cy="247.6" rx="1.3" ry="1.3" fill="#6a5e78" fill-opacity="0.75"/>
<ellipse cx="438.6" cy="249.3" rx="1.1" ry="1.0" fill="#6a5e78" fill-opacity="0.75"/>
<ellipse cx="441.6" cy="246.6" rx="1.7" ry="1.8" fill="#54485e" fill-opacity="0.75"/>
<ellipse cx="447.5" cy="248.9" rx="1.2" ry="0.9" fill="#4a4258" fill-opacity="0.75"/>
<ellipse cx="453.1" cy="247.2" rx="1.5" ry="1.5" fill="#4a4258" fill-opacity="0.75"/>
<ellipse cx="459.4" cy="246.2" rx="1.7" ry="1.8" fill="#54485e" fill-opacity="0.75"/>
<ellipse cx="466.1" cy="244.2" rx="1.9" ry="1.4" fill="#605470" fill-opacity="0.75"/>
<ellipse cx="469.8" cy="244.9" rx="1.2" ry="1.1" fill="#54485e" fill-opacity="0.75"/>
<ellipse cx="478.4" cy="246.2" rx="1.2" ry="1.0" fill="#4a4258" fill-opacity="0.75"/>
<ellipse cx="482.9" cy="247.1" rx="1.7" ry="1.6" fill="#6a5e78" fill-opacity="0.75"/>
<ellipse cx="489.2" cy="248.2" rx="1.1" ry="0.9" fill="#4a4258" fill-opacity="0.75"/>
<ellipse cx="491.0" cy="247.6" rx="1.5" ry="1.5" fill="#54485e" fill-opacity="0.75"/>
<ellipse cx="497.7" cy="246.9" rx="1.7" ry="1.5" fill="#4a4258" fill-opacity="0.75"/>
<ellipse cx="502.5" cy="247.5" rx="1.6" ry="1.4" fill="#4a4258" fill-opacity="0.75"/>
<ellipse cx="511.3" cy="247.8" rx="1.5" ry="1.6" fill="#4a4258" fill-opacity="0.75"/>
<ellipse cx="516.3" cy="244.8" rx="1.8" ry="1.7" fill="#605470" fill-opacity="0.75"/>
<ellipse cx="398.4" cy="246.9" rx="1.6" ry="1.7" fill="#544c62" fill-opacity="0.70"/>
<ellipse cx="404.4" cy="250.5" rx="1.7" ry="1.8" fill="#706884" fill-opacity="0.70"/>
<ellipse cx="413.4" cy="246.2" rx="1.8" ry="1.4" fill="#6a6078" fill-opacity="0.70"/>
<ellipse cx="422.5" cy="251.9" rx="1.4" ry="1.3" fill="#5e5468" fill-opacity="0.70"/>
<ellipse cx="424.2" cy="245.6" rx="1.1" ry="1.0" fill="#544c62" fill-opacity="0.70"/>
<ellipse cx="431.5" cy="247.1" rx="1.3" ry="1.1" fill="#5e5468" fill-opacity="0.70"/>
<ellipse cx="437.0" cy="248.9" rx="1.8" ry="1.5" fill="#706884" fill-opacity="0.70"/>
<ellipse cx="446.7" cy="245.8" rx="1.4" ry="1.4" fill="#5e5468" fill-opacity="0.70"/>
<ellipse cx="451.0" cy="246.6" rx="1.4" ry="1.1" fill="#5e5468" fill-opacity="0.70"/>
<ellipse cx="464.4" cy="245.8" rx="1.7" ry="1.7" fill="#5e5468" fill-opacity="0.70"/>
<ellipse cx="470.8" cy="250.1" rx="1.4" ry="1.4" fill="#544c62" fill-opacity="0.70"/>
<ellipse cx="473.8" cy="247.1" rx="1.2" ry="1.0" fill="#5e5468" fill-opacity="0.70"/>
<ellipse cx="484.4" cy="250.9" rx="1.4" ry="1.4" fill="#7a7290" fill-opacity="0.70"/>
<ellipse cx="491.9" cy="246.6" rx="1.5" ry="1.5" fill="#5e5468" fill-opacity="0.70"/>
<ellipse cx="498.0" cy="245.3" rx="1.6" ry="1.6" fill="#5e5468" fill-opacity="0.70"/>
<ellipse cx="502.8" cy="249.9" rx="1.7" ry="1.3" fill="#544c62" fill-opacity="0.70"/>
<ellipse cx="507.0" cy="250.4" rx="1.6" ry="1.3" fill="#5e5468" fill-opacity="0.70"/>
<ellipse cx="519.9" cy="251.4" rx="1.2" ry="1.0" fill="#706884" fill-opacity="0.70"/>
<ellipse cx="399.8" cy="253.3" rx="1.5" ry="1.2" fill="#706884" fill-opacity="0.70"/>
<ellipse cx="406.1" cy="258.3" rx="1.4" ry="1.5" fill="#706884" fill-opacity="0.70"/>
<ellipse cx="414.2" cy="256.5" rx="1.4" ry="1.2" fill="#6a6078" fill-opacity="0.70"/>
<ellipse cx="417.1" cy="253.1" rx="1.3" ry="1.2" fill="#6a6078" fill-opacity="0.70"/>
<ellipse cx="423.1" cy="252.8" rx="1.8" ry="1.8" fill="#706884" fill-opacity="0.70"/>
<ellipse cx="430.1" cy="257.9" rx="1.4" ry="1.1" fill="#7a7290" fill-opacity="0.70"/>
<ellipse cx="442.0" cy="257.5" rx="1.6" ry="1.5" fill="#6a6078" fill-opacity="0.70"/>
<ellipse cx="445.9" cy="256.3" rx="1.8" ry="1.5" fill="#706884" fill-opacity="0.70"/>
<ellipse cx="451.7" cy="256.7" rx="1.5" ry="1.5" fill="#7a7290" fill-opacity="0.70"/>
<ellipse cx="460.8" cy="256.0" rx="1.3" ry="1.1" fill="#7a7290" fill-opacity="0.70"/>
<ellipse cx="470.3" cy="255.5" rx="1.7" ry="1.7" fill="#544c62" fill-opacity="0.70"/>
<ellipse cx="477.3" cy="252.5" rx="1.4" ry="1.1" fill="#706884" fill-opacity="0.70"/>
<ellipse cx="481.2" cy="256.7" rx="1.8" ry="1.7" fill="#5e5468" fill-opacity="0.70"/>
<ellipse cx="491.6" cy="253.7" rx="1.4" ry="1.3" fill="#7a7290" fill-opacity="0.70"/>
<ellipse cx="496.8" cy="258.8" rx="1.6" ry="1.4" fill="#544c62" fill-opacity="0.70"/>
<ellipse cx="502.4" cy="254.4" rx="1.7" ry="1.6" fill="#6a6078" fill-opacity="0.70"/>
<ellipse cx="512.5" cy="257.2" rx="1.8" ry="1.8" fill="#5e5468" fill-opacity="0.70"/>
<ellipse cx="515.0" cy="255.5" rx="1.6" ry="1.8" fill="#544c62" fill-opacity="0.70"/>
<ellipse cx="401.9" cy="264.0" rx="1.7" ry="1.3" fill="#706884" fill-opacity="0.70"/>
<ellipse cx="403.4" cy="260.2" rx="1.8" ry="1.6" fill="#5e5468" fill-opacity="0.70"/>
<ellipse cx="414.9" cy="265.9" rx="1.3" ry="1.0" fill="#706884" fill-opacity="0.70"/>
<ellipse cx="422.0" cy="263.6" rx="1.4" ry="1.4" fill="#544c62" fill-opacity="0.70"/>
<ellipse cx="428.0" cy="262.6" rx="1.5" ry="1.2" fill="#5e5468" fill-opacity="0.70"/>
<ellipse cx="436.2" cy="264.8" rx="1.8" ry="1.5" fill="#544c62" fill-opacity="0.70"/>
<ellipse cx="439.8" cy="260.4" rx="1.6" ry="1.5" fill="#544c62" fill-opacity="0.70"/>
<ellipse cx="446.5" cy="261.8" rx="1.4" ry="1.2" fill="#6a6078" fill-opacity="0.70"/>
<ellipse cx="456.4" cy="261.0" rx="1.4" ry="1.1" fill="#544c62" fill-opacity="0.70"/>
<ellipse cx="464.9" cy="260.6" rx="1.4" ry="1.3" fill="#5e5468" fill-opacity="0.70"/>
<ellipse cx="469.3" cy="262.7" rx="1.3" ry="1.5" fill="#544c62" fill-opacity="0.70"/>
<ellipse cx="478.6" cy="259.9" rx="1.6" ry="1.7" fill="#6a6078" fill-opacity="0.70"/>
<ellipse cx="485.9" cy="260.8" rx="1.2" ry="1.3" fill="#706884" fill-opacity="0.70"/>
<ellipse cx="489.6" cy="265.2" rx="1.5" ry="1.6" fill="#6a6078" fill-opacity="0.70"/>
<ellipse cx="493.5" cy="259.6" rx="1.7" ry="1.3" fill="#544c62" fill-opacity="0.70"/>
<ellipse cx="505.4" cy="265.4" rx="1.2" ry="1.3" fill="#706884" fill-opacity="0.70"/>
<ellipse cx="512.2" cy="264.4" rx="1.2" ry="1.1" fill="#7a7290" fill-opacity="0.70"/>
<ellipse cx="517.0" cy="264.8" rx="1.5" ry="1.3" fill="#706884" fill-opacity="0.70"/>
<ellipse cx="395.4" cy="270.5" rx="1.6" ry="1.7" fill="#5e5468" fill-opacity="0.70"/>
<ellipse cx="403.9" cy="271.1" rx="1.1" ry="1.0" fill="#706884" fill-opacity="0.70"/>
<ellipse cx="412.5" cy="270.5" rx="1.3" ry="1.1" fill="#7a7290" fill-opacity="0.70"/>
<ellipse cx="419.1" cy="270.2" rx="1.6" ry="1.3" fill="#544c62" fill-opacity="0.70"/>
<ellipse cx="427.8" cy="272.5" rx="1.8" ry="1.4" fill="#706884" fill-opacity="0.70"/>
<ellipse cx="433.0" cy="272.7" rx="1.8" ry="1.7" fill="#6a6078" fill-opacity="0.70"/>
<ellipse cx="439.8" cy="268.3" rx="1.2" ry="1.2" fill="#5e5468" fill-opacity="0.70"/>
<ellipse cx="445.6" cy="267.1" rx="1.3" ry="1.3" fill="#5e5468" fill-opacity="0.70"/>
<ellipse cx="456.8" cy="272.8" rx="1.6" ry="1.7" fill="#7a7290" fill-opacity="0.70"/>
<ellipse cx="462.7" cy="272.8" rx="1.5" ry="1.4" fill="#706884" fill-opacity="0.70"/>
<ellipse cx="467.8" cy="266.9" rx="1.7" ry="1.3" fill="#544c62" fill-opacity="0.70"/>
<ellipse cx="472.7" cy="268.9" rx="1.2" ry="0.9" fill="#706884" fill-opacity="0.70"/>
<ellipse cx="480.8" cy="266.6" rx="1.3" ry="1.4" fill="#5e5468" fill-opacity="0.70"/>
<ellipse cx="491.9" cy="267.7" rx="1.6" ry="1.4" fill="#6a6078" fill-opacity="0.70"/>
<ellipse cx="493.5" cy="271.4" rx="1.4" ry="1.4" fill="#7a7290" fill-opacity="0.70"/>
<ellipse cx="500.9" cy="271.9" rx="1.8" ry="1.5" fill="#5e5468" fill-opacity="0.70"/>
<ellipse cx="507.3" cy="270.6" rx="1.3" ry="1.2" fill="#6a6078" fill-opacity="0.70"/>
<ellipse cx="516.0" cy="268.1" rx="1.3" ry="1.0" fill="#544c62" fill-opacity="0.70"/>
</g></g>
<rect x="394.25" y="187.25" width="121.50" height="82.50" fill="none" stroke="#3d3d3d" stroke-width="1.5"/>
<clipPath id="c3"><rect x="269" y="271" width="121" height="81"/></clipPath>
<g clip-path="url(#c3)">
<rect x="269" y="271" width="121" height="81" fill="#dcdcd6"/>
<filter id="f3_0" x="0" y="0" width="100%" height="100%" color-interpolation-filters="sRGB"><feTurbulence type="fractalNoise" baseFrequency="0.4" numOctaves="2" seed="30"/><feColorMatrix type="matrix" values="0 0 0 0 0.769 0 0 0 0 0.769 0 0 0 0 0.737 5.00 0 0 0 -2.60"/><feGaussianBlur stdDeviation="0.3"/></filter>
<rect x="269" y="271" width="121" height="81" filter="url(#f3_0)"/>
<filter id="f3_1" x="0" y="0" width="100%" height="100%" color-interpolation-filters="sRGB"><feTurbulence type="fractalNoise" baseFrequency="0.08" numOctaves="2" seed="31"/><feColorMatrix type="matrix" values="0 0 0 0 0.824 0 0 0 0 0.808 0 0 0 0 0.745 0 3.00 0 0 -1.40"/><feGaussianBlur stdDeviation="0.3"/></filter>
<rect x="269" y="271" width="121" height="81" filter="url(#f3_1)"/>
<g filter="url(#bl)">
<ellipse cx="270.1" cy="273.6" rx="1.3" ry="1.2" fill="#8c8ca2" fill-opacity="0.75"/>
<ellipse cx="274.0" cy="271.1" rx="1.6" ry="1.3" fill="#7a7a96" fill-opacity="0.75"/>
<ellipse cx="279.3" cy="274.4" rx="1.4" ry="1.3" fill="#858599" fill-opacity="0.75"/>
<ellipse cx="286.1" cy="271.7" rx="1.4" ry="1.5" fill="#8c8ca2" fill-opacity="0.75"/>
<ellipse cx="289.6" cy="271.1" rx="1.5" ry="1.2" fill="#8c8ca2" fill-opacity="0.75"/>
<ellipse cx="292.7" cy="274.7" rx="1.6" ry="1.3" fill="#8c8ca2" fill-opacity="0.75"/>
<ellipse cx="300.6" cy="275.1" rx="1.5" ry="1.6" fill="#858599" fill-opacity="0.75"/>
<ellipse cx="305.3" cy="273.7" rx="1.7" ry="1.3" fill="#64647e" fill-opacity="0.75"/>
<ellipse cx="307.1" cy="271.6" rx="1.2" ry="1.3" fill="#858599" fill-opacity="0.75"/>
<ellipse cx="315.0" cy="275.0" rx="1.3" ry="1.3" fill="#8c8ca2" fill-opacity="0.75"/>
<ellipse cx="317.6" cy="273.7" rx="1.4" ry="1.5" fill="#6e6e8c" fill-opacity="0.75"/>
<ellipse cx="324.7" cy="275.7" rx="1.5" ry="1.2" fill="#64647e" fill-opacity="0.75"/>
<ellipse cx="329.9" cy="275.3" rx="1.4" ry="1.4" fill="#7a7a96" fill-opacity="0.75"/>
<ellipse cx="333.1" cy="275.6" rx="1.2" ry="0.9" fill="#858599" fill-opacity="0.75"/>
<ellipse cx="338.8" cy="275.7" rx="1.1" ry="1.1" fill="#858599" fill-opacity="0.75"/>
<ellipse cx="343.7" cy="271.1" rx="1.3" ry="1.2" fill="#6e6e8c" fill-opacity="0.75"/>
<ellipse cx="344.4" cy="273.9" rx="1.0" ry="1.0" fill="#64647e" fill-opacity="0.75"/>
<ellipse cx="351.5" cy="275.3" rx="1.2" ry="1.0" fill="#6e6e8c" fill-opacity="0.75"/>
<ellipse cx="355.1" cy="271.4" rx="1.4" ry="1.1" fill="#7a7a96" fill-opacity="0.75"/>
<ellipse cx="362.9" cy="272.4" rx="1.2" ry="1.2" fill="#64647e" fill-opacity="0.75"/>
<ellipse cx="364.5" cy="275.5" rx="1.6" ry="1.4" fill="#858599" fill-opacity="0.75"/>
<ellipse cx="371.8" cy="272.8" rx="1.6" ry="1.6" fill="#6e6e8c" fill-opacity="0.75"/>
<ellipse cx="375.3" cy="275.4" rx="1.4" ry="1.2" fill="#7a7a96" fill-opacity="0.75"/>
<ellipse cx="381.5" cy="273.1" rx="1.2" ry="1.0" fill="#64647e" fill-opacity="0.75"/>
<ellipse cx="381.9" cy="273.0" rx="1.4" ry="1.1" fill="#8c8ca2" fill-opacity="0.75"/>
<ellipse cx="389.3" cy="271.6" rx="1.4" ry="1.3" fill="#64647e" fill-opacity="0.75"/>
<ellipse cx="272.2" cy="277.4" rx="1.5" ry="1.5" fill="#6e6e8c" fill-opacity="0.75"/>
<ellipse cx="276.5" cy="280.2" rx="1.0" ry="0.9" fill="#858599" fill-opacity="0.75"/>
<ellipse cx="279.8" cy="278.5" rx="1.1" ry="0.9" fill="#64647e" fill-opacity="0.75"/>
<ellipse cx="287.1" cy="276.9" rx="1.6" ry="1.2" fill="#6e6e8c" fill-opacity="0.75"/>
<ellipse cx="292.4" cy="278.9" rx="1.1" ry="1.0" fill="#64647e" fill-opacity="0.75"/>
<ellipse cx="293.6" cy="276.6" rx="1.3" ry="1.3" fill="#6e6e8c" fill-opacity="0.75"/>
<ellipse cx="300.0" cy="280.2" rx="1.5" ry="1.2" fill="#7a7a96" fill-opacity="0.75"/>
<ellipse cx="302.3" cy="279.2" rx="1.2" ry="1.1" fill="#64647e" fill-opacity="0.75"/>
<ellipse cx="307.7" cy="276.3" rx="1.4" ry="1.1" fill="#8c8ca2" fill-opacity="0.75"/>
<ellipse cx="312.2" cy="277.0" rx="1.6" ry="1.5" fill="#8c8ca2" fill-opacity="0.75"/>
<ellipse cx="317.6" cy="276.3" rx="1.2" ry="1.2" fill="#64647e" fill-opacity="0.75"/>
<ellipse cx="322.9" cy="278.7" rx="1.2" ry="1.1" fill="#6e6e8c" fill-opacity="0.75"/>
<ellipse cx="329.7" cy="276.4" rx="1.0" ry="1.1" fill="#8c8ca2" fill-opacity="0.75"/>
<ellipse cx="334.7" cy="277.7" rx="1.7" ry="1.8" fill="#7a7a96" fill-opacity="0.75"/>
<ellipse cx="335.0" cy="277.8" rx="1.5" ry="1.5" fill="#64647e" fill-opacity="0.75"/>
<ellipse cx="342.1" cy="279.9" rx="1.6" ry="1.7" fill="#64647e" fill-opacity="0.75"/>
<ellipse cx="344.8" cy="276.8" rx="1.0" ry="1.1" fill="#8c8ca2" fill-opacity="0.75"/>
<ellipse cx="353.2" cy="279.9" rx="1.6" ry="1.6" fill="#6e6e8c" fill-opacity="0.75"/>
<ellipse cx="355.9" cy="276.3" rx="1.4" ry="1.1" fill="#6e6e8c" fill-opacity="0.75"/>
<ellipse cx="360.8" cy="277.6" rx="1.7" ry="1.6" fill="#64647e" fill-opacity="0.75"/>
<ellipse cx="363.6" cy="280.3" rx="1.4" ry="1.4" fill="#6e6e8c" fill-opacity="0.75"/>
<ellipse cx="369.4" cy="276.6" rx="1.4" ry="1.4" fill="#7a7a96" fill-opacity="0.75"/>
<ellipse cx="373.5" cy="277.0" rx="1.6" ry="1.3" fill="#6e6e8c" fill-opacity="0.75"/>
<ellipse cx="379.4" cy="278.4" rx="1.3" ry="1.3" fill="#7a7a96" fill-opacity="0.75"/>
<ellipse cx="383.1" cy="278.2" rx="1.3" ry="1.2" fill="#6e6e8c" fill-opacity="0.75"/>
<ellipse cx="390.5" cy="279.3" rx="1.0" ry="0.8" fill="#858599" fill-opacity="0.75"/>
<ellipse cx="273.6" cy="284.4" rx="1.1" ry="1.0" fill="#64647e" fill-opacity="0.75"/>
<ellipse cx="274.4" cy="280.7" rx="1.3" ry="1.1" fill="#64647e" fill-opacity="0.75"/>
<ellipse cx="280.1" cy="281.3" rx="1.2" ry="1.0" fill="#8c8ca2" fill-opacity="0.75"/>
<ellipse cx="283.1" cy="283.8" rx="1.6" ry="1.5" fill="#6e6e8c" fill-opacity="0.75"/>
<ellipse cx="289.6" cy="283.2" rx="1.5" ry="1.4" fill="#6e6e8c" fill-opacity="0.75"/>
<ellipse cx="295.4" cy="282.4" rx="1.3" ry="1.2" fill="#64647e" fill-opacity="0.75"/>
<ellipse cx="299.2" cy="283.7" rx="1.3" ry="1.1" fill="#8c8ca2" fill-opacity="0.75"/>
<ellipse cx="303.2" cy="283.2" rx="1.6" ry="1.3" fill="#7a7a96" fill-opacity="0.75"/>
<ellipse cx="310.7" cy="284.8" rx="1.3" ry="1.3" fill="#64647e" fill-opacity="0.75"/>
<ellipse cx="311.9" cy="283.6" rx="1.7" ry="1.7" fill="#8c8ca2" fill-opacity="0.75"/>
<ellipse cx="319.7" cy="283.5" rx="1.5" ry="1.4" fill="#6e6e8c" fill-opacity="0.75"/>
<ellipse cx="324.5" cy="283.8" rx="1.3" ry="1.1" fill="#858599" fill-opacity="0.75"/>
<ellipse cx="325.6" cy="280.8" rx="1.1" ry="1.1" fill="#7a7a96" fill-opacity="0.75"/>
<ellipse cx="334.0" cy="282.0" rx="1.6" ry="1.2" fill="#6e6e8c" fill-opacity="0.75"/>
<ellipse cx="338.0" cy="284.3" rx="1.7" ry="1.6" fill="#6e6e8c" fill-opacity="0.75"/>
<ellipse cx="339.7" cy="284.0" rx="1.4" ry="1.4" fill="#6e6e8c" fill-opacity="0.75"/>
<ellipse cx="346.8" cy="280.9" rx="1.4" ry="1.3" fill="#8c8ca2" fill-opacity="0.75"/>
<ellipse cx="349.7" cy="280.8" rx="1.7" ry="1.7" fill="#858599" fill-opacity="0.75"/>
<ellipse cx="356.5" cy="283.9" rx="1.3" ry="1.1" fill="#858599" fill-opacity="0.75"/>
<ellipse cx="362.7" cy="283.0" rx="1.7" ry="1.5" fill="#7a7a96" fill-opacity="0.75"/>
<ellipse cx="367.6" cy="282.3" rx="1.5" ry="1.2" fill="#8c8ca2" fill-opacity="0.75"/>
<ellipse cx="371.3" cy="283.6" rx="1.4" ry="1.3" fill="#858599" fill-opacity="0.75"/>
<ellipse cx="376.6" cy="281.1" rx="1.1" ry="1.1" fill="#8c8ca2" fill-opacity="0.75"/>
<ellipse cx="381.6" cy="283.2" rx="1.6" ry="1.3" fill="#7a7a96" fill-opacity="0.75"/>
<ellipse cx="382.5" cy="282.8" rx="1.7" ry="1.7" fill="#8c8ca2" fill-opacity="0.75"/>
<ellipse cx="391.0" cy="281.8" rx="1.5" ry="1.3" fill="#8c8ca2" fill-opacity="0.75"/>
<ellipse cx="271.7" cy="286.4" rx="1.2" ry="0.9" fill="#858599" fill-opacity="0.75"/>
<ellipse cx="277.5" cy="286.0" rx="1.4" ry="1.2" fill="#858599" fill-opacity="0.75"/>
<ellipse cx="282.0" cy="285.8" rx="1.7" ry="1.6" fill="#8c8ca2" fill-opacity="0.75"/>
<ellipse cx="284.1" cy="287.8" rx="1.6" ry="1.6" fill="#6e6e8c" fill-opacity="0.75"/>
<ellipse cx="290.1" cy="288.5" rx="1.6" ry="1.4" fill="#6e6e8c" fill-opacity="0.75"/>
<ellipse cx="294.7" cy="286.2" rx="1.2" ry="1.2" fill="#6e6e8c" fill-opacity="0.75"/>
<ellipse cx="301.7" cy="289.1" rx="1.2" ry="1.0" fill="#64647e" fill-opacity="0.75"/>
<ellipse cx="302.5" cy="288.0" rx="1.5" ry="1.1" fill="#64647e" fill-opacity="0.75"/>
<ellipse cx="307.4" cy="285.3" rx="1.1" ry="0.9" fill="#6e6e8c" fill-opacity="0.75"/>
<ellipse cx="311.9" cy="286.3" rx="1.6" ry="1.3" fill="#858599" fill-opacity="0.75"/>
<ellipse cx="318.7" cy="288.3" rx="1.0" ry="0.9" fill="#858599" fill-opacity="0.75"/>
<ellipse cx="322.5" cy="285.5" rx="1.5" ry="1.5" fill="#858599" fill-opacity="0.75"/>
<ellipse cx="327.2" cy="287.7" rx="1.1" ry="0.9" fill="#858599" fill-opacity="0.75"/>
<ellipse cx="330.6" cy="289.3" rx="1.6" ry="1.3" fill="#64647e" fill-opacity="0.75"/>
<ellipse cx="338.0" cy="286.8" rx="1.3" ry="1.3" fill="#64647e" fill-opacity="0.75"/>
<ellipse cx="340.0" cy="289.5" rx="1.2" ry="1.2" fill="#8c8ca2" fill-opacity="0.75"/>
<ellipse cx="344.7" cy="287.4" rx="1.2" ry="1.2" fill="#8c8ca2" fill-opacity="0.75"/>
<ellipse cx="352.4" cy="288.1" rx="1.5" ry="1.2" fill="#64647e" fill-opacity="0.75"/>
<ellipse cx="357.8" cy="288.2" rx="1.1" ry="1.2" fill="#7a7a96" fill-opacity="0.75"/>
<ellipse cx="362.6" cy="288.1" rx="1.5" ry="1.3" fill="#64647e" fill-opacity="0.75"/>
<ellipse cx="366.0" cy="287.3" rx="1.2" ry="1.0" fill="#6e6e8c" fill-opacity="0.75"/>
<ellipse cx="368.2" cy="286.0" rx="1.4" ry="1.3" fill="#858599" fill-opacity="0.75"/>
<ellipse cx="374.1" cy="286.3" rx="1.3" ry="1.3" fill="#6e6e8c" fill-opacity="0.75"/>
<ellipse cx="379.3" cy="286.4" rx="1.5" ry="1.4" fill="#64647e" fill-opacity="0.75"/>
<ellipse cx="386.2" cy="287.2" rx="1.6" ry="1.2" fill="#858599" fill-opacity="0.75"/>
<ellipse cx="390.5" cy="285.6" rx="1.2" ry="0.9" fill="#6e6e8c" fill-opacity="0.75"/>
<ellipse cx="271.7" cy="294.1" rx="1.1" ry="1.1" fill="#8c8ca2" fill-opacity="0.75"/>
<ellipse cx="275.7" cy="293.3" rx="1.6" ry="1.6" fill="#8c8ca2" fill-opacity="0.75"/>
<ellipse cx="281.3" cy="293.8" rx="1.6" ry="1.5" fill="#7a7a96" fill-opacity="0.75"/>
<ellipse cx="285.8" cy="290.7" rx="1.2" ry="1.2" fill="#6e6e8c" fill-opacity="0.75"/>
<ellipse cx="291.8" cy="291.9" rx="1.3" ry="1.3" fill="#64647e" fill-opacity="0.75"/>
<ellipse cx="295.1" cy="292.5" rx="1.4" ry="1.6" fill="#64647e" fill-opacity="0.75"/>
<ellipse cx="301.4" cy="292.9" rx="1.0" ry="0.8" fill="#6e6e8c" fill-opacity="0.75"/>
<ellipse cx="302.4" cy="293.4" rx="1.2" ry="0.9" fill="#858599" fill-opacity="0.75"/>
<ellipse cx="307.5" cy="293.5" rx="1.1" ry="1.2" fill="#858599" fill-opacity="0.75"/>
<ellipse cx="311.8" cy="291.1" rx="1.5" ry="1.2" fill="#858599" fill-opacity="0.75"/>
<ellipse cx="319.7" cy="292.7" rx="1.0" ry="0.9" fill="#7a7a96" fill-opacity="0.75"/>
<ellipse cx="323.1" cy="292.1" rx="1.0" ry="0.9" fill="#64647e" fill-opacity="0.75"/>
<ellipse cx="329.5" cy="293.1" rx="1.1" ry="1.1" fill="#8c8ca2" fill-opacity="0.75"/>
<ellipse cx="333.7" cy="290.0" rx="1.1" ry="1.2" fill="#7a7a96" fill-opacity="0.75"/>
<ellipse cx="339.2" cy="293.8" rx="1.3" ry="1.3" fill="#858599" fill-opacity="0.75"/>
<ellipse cx="341.0" cy="293.5" rx="1.3" ry="1.3" fill="#7a7a96" fill-opacity="0.75"/>
<ellipse cx="346.0" cy="292.0" rx="1.0" ry="1.1" fill="#7a7a96" fill-opacity="0.75"/>
<ellipse cx="352.0" cy="291.2" rx="1.3" ry="1.3" fill="#858599" fill-opacity="0.75"/>
<ellipse cx="355.7" cy="291.9" rx="1.0" ry="0.9" fill="#64647e" fill-opacity="0.75"/>
<ellipse cx="360.4" cy="291.5" rx="1.3" ry="1.4" fill="#7a7a96" fill-opacity="0.75"/>
<ellipse cx="364.2" cy="291.5" rx="1.6" ry="1.5" fill="#7a7a96" fill-opacity="0.75"/>
<ellipse cx="368.7" cy="290.6" rx="1.3" ry="1.0" fill="#6e6e8c" fill-opacity="0.75"/>
<ellipse cx="373.1" cy="292.7" rx="1.3" ry="1.1" fill="#6e6e8c" fill-opacity="0.75"/>
<ellipse cx="379.0" cy="291.3" rx="1.0" ry="1.0" fill="#7a7a96" fill-opacity="0.75"/>
<ellipse cx="383.7" cy="291.7" rx="1.0" ry="1.1" fill="#7a7a96" fill-opacity="0.75"/>
<ellipse cx="387.6" cy="291.6" rx="1.1" ry="1.0" fill="#6e6e8c" fill-opacity="0.75"/>
<ellipse cx="270.6" cy="295.1" rx="1.0" ry="1.0" fill="#64647e" fill-opacity="0.75"/>
<ellipse cx="278.3" cy="298.9" rx="1.6" ry="1.7" fill="#858599" fill-opacity="0.75"/>
<ellipse cx="279.6" cy="295.7" rx="1.6" ry="1.5" fill="#64647e" fill-opacity="0.75"/>
<ellipse cx="284.6" cy="294.8" rx="1.3" ry="1.0" fill="#8c8ca2" fill-opacity="0.75"/>
<ellipse cx="287.8" cy="294.6" rx="1.1" ry="0.9" fill="#6e6e8c" fill-opacity="0.75"/>
<ellipse cx="294.8" cy="295.4" rx="1.4" ry="1.2" fill="#858599" fill-opacity="0.75"/>
<ellipse cx="298.8" cy="296.7" rx="1.2" ry="1.2" fill="#858599" fill-opacity="0.75"/>
<ellipse cx="303.3" cy="297.4" rx="1.7" ry="1.3" fill="#64647e" fill-opacity="0.75"/>
<ellipse cx="307.5" cy="296.4" rx="1.4" ry="1.3" fill="#8c8ca2" fill-opacity="0.75"/>
<ellipse cx="314.5" cy="298.9" rx="1.1" ry="1.1" fill="#858599" fill-opacity="0.75"/>
<ellipse cx="319.9" cy="297.1" rx="1.6" ry="1.4" fill="#858599" fill-opacity="0.75"/>
<ellipse cx="322.8" cy="296.6" rx="1.5" ry="1.3" fill="#7a7a96" fill-opacity="0.75"/>
<ellipse cx="327.8" cy="298.0" rx="1.6" ry="1.6" fill="#858599" fill-opacity="0.75"/>
<ellipse cx="330.3" cy="295.3" rx="1.5" ry="1.6" fill="#6e6e8c" fill-opacity="0.75"/>
<ellipse cx="338.4" cy="297.7" rx="1.1" ry="0.9" fill="#6e6e8c" fill-opacity="0.75"/>
<ellipse cx="343.6" cy="298.6" rx="1.3" ry="1.4" fill="#64647e" fill-opacity="0.75"/>
<ellipse cx="348.9" cy="294.5" rx="1.1" ry="1.2" fill="#6e6e8c" fill-opacity="0.75"/>
<ellipse cx="350.5" cy="296.0" rx="1.3" ry="1.4" fill="#7a7a96" fill-opacity="0.75"/>
<ellipse cx="354.7" cy="294.7" rx="1.1" ry="1.1" fill="#8c8ca2" fill-opacity="0.75"/>
<ellipse cx="362.9" cy="295.0" rx="1.2" ry="1.0" fill="#8c8ca2" fill-opacity="0.75"/>
<ellipse cx="365.4" cy="296.9" rx="1.6" ry="1.4" fill="#8c8ca2" fill-opacity="0.75"/>
<ellipse cx="371.4" cy="296.7" rx="1.4" ry="1.1" fill="#6e6e8c" fill-opacity="0.75"/>
<ellipse cx="375.2" cy="298.5" rx="1.1" ry="1.2" fill="#64647e" fill-opacity="0.75"/>
<ellipse cx="377.5" cy="296.7" rx="1.2" ry="1.2" fill="#8c8ca2" fill-opacity="0.75"/>
<ellipse cx="382.3" cy="296.8" rx="1.5" ry="1.5" fill="#858599" fill-opacity="0.75"/>
<ellipse cx="389.3" cy="296.6" rx="1.1" ry="1.1" fill="#8c8ca2" fill-opacity="0.75"/>
<ellipse cx="271.1" cy="301.0" rx="1.1" ry="0.8" fill="#64647e" fill-opacity="0.75"/>
<ellipse cx="277.1" cy="299.6" rx="1.2" ry="1.1" fill="#6e6e8c" fill-opacity="0.75"/>
<ellipse cx="282.7" cy="302.4" rx="1.3" ry="1.3" fill="#6e6e8c" fill-opacity="0.75"/>
<ellipse cx="285.9" cy="300.2" rx="1.2" ry="1.4" fill="#64647e" fill-opacity="0.75"/>
<ellipse cx="288.9" cy="301.3" rx="1.2" ry="1.0" fill="#7a7a96" fill-opacity="0.75"/>
<ellipse cx="295.9" cy="303.3" rx="1.7" ry="1.6" fill="#8c8ca2" fill-opacity="0.75"/>
<ellipse cx="301.2" cy="300.9" rx="1.1" ry="1.1" fill="#858599" fill-opacity="0.75"/>
<ellipse cx="304.2" cy="302.8" rx="1.3" ry="1.4" fill="#6e6e8c" fill-opacity="0.75"/>
<ellipse cx="308.0" cy="303.6" rx="1.1" ry="0.9" fill="#7a7a96" fill-opacity="0.75"/>
<ellipse cx="312.7" cy="301.6" rx="1.4" ry="1.1" fill="#7a7a96" fill-opacity="0.75"/>
<ellipse cx="317.3" cy="301.2" rx="1.2" ry="1.3" fill="#64647e" fill-opacity="0.75"/>
<ellipse cx="321.4" cy="301.3" rx="1.6" ry="1.5" fill="#7a7a96" fill-opacity="0.75"/>
<ellipse cx="326.1" cy="302.8" rx="1.5" ry="1.6" fill="#64647e" fill-opacity="0.75"/>
<ellipse cx="334.5" cy="301.2" rx="1.7" ry="1.5" fill="#8c8ca2" fill-opacity="0.75"/>
<ellipse cx="335.8" cy="303.7" rx="1.2" ry="0.9" fill="#64647e" fill-opacity="0.75"/>
<ellipse cx="343.7" cy="303.0" rx="1.2" ry="1.0" fill="#8c8ca2" fill-opacity="0.75"/>
<ellipse cx="344.2" cy="299.8" rx="1.4" ry="1.3" fill="#7a7a96" fill-opacity="0.75"/>
<ellipse cx="353.4" cy="299.2" rx="1.7" ry="1.7" fill="#64647e" fill-opacity="0.75"/>
<ellipse cx="358.2" cy="302.9" rx="1.7" ry="1.3" fill="#7a7a96" fill-opacity="0.75"/>
<ellipse cx="359.4" cy="300.5" rx="1.6" ry="1.7" fill="#8c8ca2" fill-opacity="0.75"/>
<ellipse cx="365.6" cy="299.6" rx="1.2" ry="1.0" fill="#858599" fill-opacity="0.75"/>
<ellipse cx="369.7" cy="300.4" rx="1.0" ry="0.9" fill="#7a7a96" fill-opacity="0.75"/>
<ellipse cx="376.7" cy="303.0" rx="1.2" ry="0.9" fill="#858599" fill-opacity="0.75"/>
<ellipse cx="379.5" cy="303.1" rx="1.4" ry="1.2" fill="#7a7a96" fill-opacity="0.75"/>
<ellipse cx="382.0" cy="301.5" rx="1.0" ry="1.1" fill="#858599" fill-opacity="0.75"/>
<ellipse cx="388.7" cy="302.3" rx="1.7" ry="1.7" fill="#8c8ca2" fill-opacity="0.75"/>
<ellipse cx="271.4" cy="305.6" rx="1.4" ry="1.2" fill="#6e6e8c" fill-opacity="0.75"/>
<ellipse cx="276.9" cy="308.6" rx="1.4" ry="1.2" fill="#64647e" fill-opacity="0.75"/>
<ellipse cx="280.5" cy="305.2" rx="1.2" ry="1.0" fill="#8c8ca2" fill-opacity="0.75"/>
<ellipse cx="283.8" cy="305.4" rx="1.4" ry="1.2" fill="#7a7a96" fill-opacity="0.75"/>
<ellipse cx="291.7" cy="308.3" rx="1.4" ry="1.1" fill="#8c8ca2" fill-opacity="0.75"/>
<ellipse cx="295.3" cy="304.4" rx="1.1" ry="1.1" fill="#64647e" fill-opacity="0.75"/>
<ellipse cx="297.7" cy="307.0" rx="1.3" ry="1.2" fill="#858599" fill-opacity="0.75"/>
<ellipse cx="302.8" cy="308.2" rx="1.1" ry="1.0" fill="#858599" fill-opacity="0.75"/>
<ellipse cx="308.1" cy="305.2" rx="1.7" ry="1.8" fill="#64647e" fill-opacity="0.75"/>
<ellipse cx="314.2" cy="306.5" rx="1.0" ry="0.9" fill="#858599" fill-opacity="0.75"/>
<ellipse cx="320.6" cy="304.3" rx="1.2" ry="1.0" fill="#6e6e8c" fill-opacity="0.75"/>
<ellipse cx="324.0" cy="304.4" rx="1.4" ry="1.1" fill="#6e6e8c" fill-opacity="0.75"/>
<ellipse cx="329.8" cy="308.5" rx="1.5" ry="1.3" fill="#858599" fill-opacity="0.75"/>
<ellipse cx="332.3" cy="305.3" rx="1.4" ry="1.1" fill="#858599" fill-opacity="0.75"/>
<ellipse cx="339.3" cy="304.6" rx="1.6" ry="1.3" fill="#858599" fill-opacity="0.75"/>
<ellipse cx="342.7" cy="306.9" rx="1.1" ry="0.8" fill="#7a7a96" fill-opacity="0.75"/>
<ellipse cx="345.7" cy="306.9" rx="1.1" ry="0.9" fill="#8c8ca2" fill-opacity="0.75"/>
<ellipse cx="353.4" cy="306.4" rx="1.3" ry="1.0" fill="#858599" fill-opacity="0.75"/>
<ellipse cx="354.5" cy="304.0" rx="1.1" ry="0.8" fill="#64647e" fill-opacity="0.75"/>
<ellipse cx="358.9" cy="305.6" rx="1.6" ry="1.3" fill="#7a7a96" fill-opacity="0.75"/>
<ellipse cx="363.0" cy="305.6" rx="1.1" ry="1.0" fill="#6e6e8c" fill-opacity="0.75"/>
<ellipse cx="369.4" cy="308.4" rx="1.3" ry="1.3" fill="#64647e" fill-opacity="0.75"/>
<ellipse cx="374.6" cy="307.4" rx="1.4" ry="1.4" fill="#858599" fill-opacity="0.75"/>
<ellipse cx="379.8" cy="306.1" rx="1.4" ry="1.2" fill="#8c8ca2" fill-opacity="0.75"/>
<ellipse cx="383.9" cy="305.7" rx="1.5" ry="1.3" fill="#7a7a96" fill-opacity="0.75"/>
<ellipse cx="387.9" cy="307.9" rx="1.7" ry="1.4" fill="#7a7a96" fill-opacity="0.75"/>
<ellipse cx="269.6" cy="311.4" rx="1.0" ry="1.0" fill="#7a7a96" fill-opacity="0.75"/>
<ellipse cx="274.2" cy="308.7" rx="1.6" ry="1.7" fill="#8c8ca2" fill-opacity="0.75"/>
<ellipse cx="281.6" cy="311.1" rx="1.5" ry="1.2" fill="#8c8ca2" fill-opacity="0.75"/>
<ellipse cx="285.8" cy="310.1" rx="1.4" ry="1.2" fill="#858599" fill-opacity="0.75"/>
<ellipse cx="290.2" cy="310.4" rx="1.2" ry="1.1" fill="#8c8ca2" fill-opacity="0.75"/>
<ellipse cx="296.1" cy="312.0" rx="1.2" ry="1.2" fill="#64647e" fill-opacity="0.75"/>
<ellipse cx="298.5" cy="313.2" rx="1.2" ry="0.9" fill="#8c8ca2" fill-opacity="0.75"/>
<ellipse cx="302.9" cy="313.3" rx="1.5" ry="1.3" fill="#858599" fill-opacity="0.75"/>
<ellipse cx="311.1" cy="310.7" rx="1.3" ry="1.2" fill="#7a7a96" fill-opacity="0.75"/>
<ellipse cx="315.9" cy="311.1" rx="1.3" ry="1.3" fill="#6e6e8c" fill-opacity="0.75"/>
<ellipse cx="318.0" cy="311.2" rx="1.4" ry="1.2" fill="#7a7a96" fill-opacity="0.75"/>
<ellipse cx="324.7" cy="310.4" rx="1.7" ry="1.5" fill="#7a7a96" fill-opacity="0.75"/>
<ellipse cx="325.7" cy="310.9" rx="1.1" ry="1.1" fill="#858599" fill-opacity="0.75"/>
<ellipse cx="333.4" cy="310.3" rx="1.2" ry="1.1" fill="#858599" fill-opacity="0.75"/>
<ellipse cx="336.9" cy="312.9" rx="1.5" ry="1.2" fill="#858599" fill-opacity="0.75"/>
<ellipse cx="340.2" cy="309.6" rx="1.3" ry="1.2" fill="#7a7a96" fill-opacity="0.75"/>
<ellipse cx="348.4" cy="309.6" rx="1.3" ry="1.1" fill="#6e6e8c" fill-opacity="0.75"/>
<ellipse cx="351.4" cy="312.9" rx="1.4" ry="1.4" fill="#7a7a96" fill-opacity="0.75"/>
<ellipse cx="355.7" cy="311.8" rx="1.1" ry="1.1" fill="#858599" fill-opacity="0.75"/>
<ellipse cx="359.4" cy="309.3" rx="1.2" ry="1.1" fill="#6e6e8c" fill-opacity="0.75"/>
<ellipse cx="366.9" cy="311.4" rx="1.1" ry="0.8" fill="#64647e" fill-opacity="0.75"/>
<ellipse cx="369.5" cy="310.9" rx="1.7" ry="1.5" fill="#7a7a96" fill-opacity="0.75"/>
<ellipse cx="374.2" cy="311.0" rx="1.3" ry="1.3" fill="#64647e" fill-opacity="0.75"/>
<ellipse cx="379.2" cy="309.1" rx="1.7" ry="1.7" fill="#6e6e8c" fill-opacity="0.75"/>
<ellipse cx="382.1" cy="312.7" rx="1.5" ry="1.3" fill="#6e6e8c" fill-opacity="0.75"/>
<ellipse cx="388.0" cy="312.9" rx="1.4" ry="1.1" fill="#64647e" fill-opacity="0.75"/>
<ellipse cx="272.0" cy="317.4" rx="1.2" ry="1.0" fill="#858599" fill-opacity="0.75"/>
<ellipse cx="278.2" cy="313.5" rx="1.4" ry="1.5" fill="#8c8ca2" fill-opacity="0.75"/>
<ellipse cx="280.9" cy="316.0" rx="1.1" ry="0.9" fill="#858599" fill-opacity="0.75"/>
<ellipse cx="287.0" cy="317.6" rx="1.3" ry="1.1" fill="#858599" fill-opacity="0.75"/>
<ellipse cx="290.9" cy="315.8" rx="1.1" ry="1.0" fill="#8c8ca2" fill-opacity="0.75"/>
<ellipse cx="293.1" cy="315.8" rx="1.4" ry="1.3" fill="#8c8ca2" fill-opacity="0.75"/>
<ellipse cx="301.2" cy="316.8" rx="1.1" ry="0.9" fill="#858599" fill-opacity="0.75"/>
<ellipse cx="305.9" cy="316.3" rx="1.3" ry="1.4" fill="#7a7a96" fill-opacity="0.75"/>
<ellipse cx="310.5" cy="317.7" rx="1.1" ry="1.2" fill="#858599" fill-opacity="0.75"/>
<ellipse cx="315.3" cy="314.8" rx="1.5" ry="1.3" fill="#7a7a96" fill-opacity="0.75"/>
<ellipse cx="317.8" cy="317.3" rx="1.6" ry="1.2" fill="#858599" fill-opacity="0.75"/>
<ellipse cx="322.4" cy="314.4" rx="1.2" ry="1.0" fill="#6e6e8c" fill-opacity="0.75"/>
<ellipse cx="328.7" cy="314.9" rx="1.1" ry="0.9" fill="#858599" fill-opacity="0.75"/>
<ellipse cx="330.9" cy="314.1" rx="1.3" ry="1.1" fill="#64647e" fill-opacity="0.75"/>
<ellipse cx="337.7" cy="314.1" rx="1.5" ry="1.4" fill="#8c8ca2" fill-opacity="0.75"/>
<ellipse cx="341.5" cy="314.1" rx="1.2" ry="1.1" fill="#6e6e8c" fill-opacity="0.75"/>
<ellipse cx="347.9" cy="317.3" rx="1.3" ry="1.3" fill="#64647e" fill-opacity="0.75"/>
<ellipse cx="351.3" cy="315.3" rx="1.3" ry="1.2" fill="#8c8ca2" fill-opacity="0.75"/>
<ellipse cx="358.2" cy="314.9" rx="1.7" ry="1.6" fill="#7a7a96" fill-opacity="0.75"/>
<ellipse cx="358.8" cy="315.3" rx="1.6" ry="1.3" fill="#64647e" fill-opacity="0.75"/>
<ellipse cx="363.5" cy="315.8" rx="1.6" ry="1.5" fill="#8c8ca2" fill-opacity="0.75"/>
<ellipse cx="368.4" cy="317.6" rx="1.3" ry="1.0" fill="#64647e" fill-opacity="0.75"/>
<ellipse cx="376.3" cy="314.3" rx="1.1" ry="1.1" fill="#8c8ca2" fill-opacity="0.75"/>
<ellipse cx="379.9" cy="316.0" rx="1.5" ry="1.3" fill="#64647e" fill-opacity="0.75"/>
<ellipse cx="386.4" cy="317.2" rx="1.5" ry="1.3" fill="#6e6e8c" fill-opacity="0.75"/>
<ellipse cx="388.5" cy="315.9" rx="1.5" ry="1.4" fill="#64647e" fill-opacity="0.75"/>
<ellipse cx="271.7" cy="319.2" rx="1.5" ry="1.4" fill="#858599" fill-opacity="0.75"/>
<ellipse cx="277.1" cy="319.5" rx="1.1" ry="1.2" fill="#858599" fill-opacity="0.75"/>
<ellipse cx="279.2" cy="319.9" rx="1.1" ry="1.0" fill="#8c8ca2" fill-opacity="0.75"/>
<ellipse cx="284.8" cy="321.4" rx="1.4" ry="1.4" fill="#7a7a96" fill-opacity="0.75"/>
<ellipse cx="290.2" cy="318.8" rx="1.1" ry="1.0" fill="#858599" fill-opacity="0.75"/>
<ellipse cx="296.6" cy="320.4" rx="1.3" ry="1.0" fill="#64647e" fill-opacity="0.75"/>
<ellipse cx="300.4" cy="319.1" rx="1.2" ry="1.0" fill="#6e6e8c" fill-opacity="0.75"/>
<ellipse cx="304.1" cy="320.0" rx="1.2" ry="1.3" fill="#7a7a96" fill-opacity="0.75"/>
<ellipse cx="307.8" cy="321.7" rx="1.7" ry="1.6" fill="#7a7a96" fill-opacity="0.75"/>
<ellipse cx="315.9" cy="321.7" rx="1.5" ry="1.6" fill="#6e6e8c" fill-opacity="0.75"/>
<ellipse cx="320.1" cy="318.6" rx="1.1" ry="1.2" fill="#64647e" fill-opacity="0.75"/>
<ellipse cx="325.3" cy="319.5" rx="1.5" ry="1.2" fill="#858599" fill-opacity="0.75"/>
<ellipse cx="326.7" cy="320.4" rx="1.3" ry="1.3" fill="#858599" fill-opacity="0.75"/>
<ellipse cx="332.5" cy="321.2" rx="1.3" ry="1.3" fill="#64647e" fill-opacity="0.75"/>
<ellipse cx="336.2" cy="319.3" rx="1.6" ry="1.3" fill="#6e6e8c" fill-opacity="0.75"/>
<ellipse cx="340.3" cy="321.0" rx="1.1" ry="1.2" fill="#8c8ca2" fill-opacity="0.75"/>
<ellipse cx="347.6" cy="319.0" rx="1.5" ry="1.5" fill="#64647e" fill-opacity="0.75"/>
<ellipse cx="349.1" cy="320.6" rx="1.5" ry="1.6" fill="#7a7a96" fill-opacity="0.75"/>
<ellipse cx="354.2" cy="319.0" rx="1.7" ry="1.3" fill="#858599" fill-opacity="0.75"/>
<ellipse cx="361.8" cy="318.7" rx="1.4" ry="1.4" fill="#8c8ca2" fill-opacity="0.75"/>
<ellipse cx="366.4" cy="319.2" rx="1.1" ry="0.8" fill="#7a7a96" fill-opacity="0.75"/>
<ellipse cx="368.1" cy="321.3" rx="1.4" ry="1.3" fill="#858599" fill-opacity="0.75"/>
<ellipse cx="375.0" cy="321.1" rx="1.3" ry="1.1" fill="#6e6e8c" fill-opacity="0.75"/>
<ellipse cx="377.4" cy="321.2" rx="1.3" ry="1.0" fill="#64647e" fill-opacity="0.75"/>
<ellipse cx="384.2" cy="319.5" rx="1.7" ry="1.3" fill="#7a7a96" fill-opacity="0.75"/>
<ellipse cx="388.3" cy="321.8" rx="1.3" ry="1.3" fill="#64647e" fill-opacity="0.75"/>
<ellipse cx="271.9" cy="324.8" rx="1.2" ry="0.9" fill="#7a7a96" fill-opacity="0.75"/>
<ellipse cx="274.8" cy="324.7" rx="1.1" ry="0.9" fill="#8c8ca2" fill-opacity="0.75"/>
<ellipse cx="278.9" cy="325.8" rx="1.2" ry="0.9" fill="#858599" fill-opacity="0.75"/>
<ellipse cx="283.2" cy="324.3" rx="1.1" ry="1.1" fill="#64647e" fill-opacity="0.75"/>
<ellipse cx="290.8" cy="327.3" rx="1.3" ry="1.3" fill="#7a7a96" fill-opacity="0.75"/>
<ellipse cx="295.0" cy="324.7" rx="1.2" ry="0.9" fill="#858599" fill-opacity="0.75"/>
<ellipse cx="299.6" cy="323.2" rx="1.6" ry="1.6" fill="#8c8ca2" fill-opacity="0.75"/>
<ellipse cx="302.6" cy="325.1" rx="1.2" ry="1.1" fill="#7a7a96" fill-opacity="0.75"/>
<ellipse cx="308.3" cy="327.4" rx="1.1" ry="1.0" fill="#858599" fill-opacity="0.75"/>
<ellipse cx="315.1" cy="326.2" rx="1.5" ry="1.2" fill="#6e6e8c" fill-opacity="0.75"/>
<ellipse cx="318.2" cy="322.7" rx="1.5" ry="1.6" fill="#6e6e8c" fill-opacity="0.75"/>
<ellipse cx="320.9" cy="325.9" rx="1.2" ry="1.1" fill="#64647e" fill-opacity="0.75"/>
<ellipse cx="329.1" cy="326.5" rx="1.2" ry="1.2" fill="#858599" fill-opacity="0.75"/>
<ellipse cx="334.6" cy="322.9" rx="1.7" ry="1.4" fill="#6e6e8c" fill-opacity="0.75"/>
<ellipse cx="335.5" cy="324.5" rx="1.5" ry="1.5" fill="#7a7a96" fill-opacity="0.75"/>
<ellipse cx="342.5" cy="323.1" rx="1.5" ry="1.4" fill="#8c8ca2" fill-opacity="0.75"/>
<ellipse cx="344.2" cy="323.0" rx="1.5" ry="1.6" fill="#858599" fill-opacity="0.75"/>
<ellipse cx="352.0" cy="324.3" rx="1.5" ry="1.4" fill="#64647e" fill-opacity="0.75"/>
<ellipse cx="356.4" cy="322.8" rx="1.2" ry="1.2" fill="#64647e" fill-opacity="0.75"/>
<ellipse cx="362.0" cy="326.2" rx="1.1" ry="0.9" fill="#64647e" fill-opacity="0.75"/>
<ellipse cx="366.5" cy="327.2" rx="1.3" ry="1.1" fill="#64647e" fill-opacity="0.75"/>
<ellipse cx="370.5" cy="325.8" rx="1.7" ry="1.3" fill="#858599" fill-opacity="0.75"/>
<ellipse cx="373.5" cy="323.6" rx="1.1" ry="0.9" fill="#8c8ca2" fill-opacity="0.75"/>
<ellipse cx="379.2" cy="324.7" rx="1.3" ry="1.2" fill="#858599" fill-opacity="0.75"/>
<ellipse cx="383.8" cy="322.9" rx="1.5" ry="1.5" fill="#64647e" fill-opacity="0.75"/>
<ellipse cx="390.7" cy="324.5" rx="1.4" ry="1.1" fill="#7a7a96" fill-opacity="0.75"/>
<ellipse cx="272.6" cy="327.5" rx="1.3" ry="1.3" fill="#8c8ca2" fill-opacity="0.75"/>
<ellipse cx="277.3" cy="329.6" rx="1.3" ry="1.2" fill="#858599" fill-opacity="0.75"/>
<ellipse cx="281.3" cy="329.6" rx="1.0" ry="1.0" fill="#7a7a96" fill-opacity="0.75"/>
<ellipse cx="287.4" cy="328.3" rx="1.6" ry="1.7" fill="#6e6e8c" fill-opacity="0.75"/>
<ellipse cx="292.4" cy="328.0" rx="1.5" ry="1.6" fill="#6e6e8c" fill-opacity="0.75"/>
<ellipse cx="293.0" cy="328.4" rx="1.6" ry="1.5" fill="#7a7a96" fill-opacity="0.75"/>
<ellipse cx="301.5" cy="329.4" rx="1.1" ry="0.9" fill="#858599" fill-opacity="0.75"/>
<ellipse cx="304.2" cy="330.3" rx="1.4" ry="1.0" fill="#8c8ca2" fill-opacity="0.75"/>
<ellipse cx="306.7" cy="331.9" rx="1.2" ry="1.1" fill="#6e6e8c" fill-opacity="0.75"/>
<ellipse cx="312.6" cy="327.8" rx="1.6" ry="1.4" fill="#7a7a96" fill-opacity="0.75"/>
<ellipse cx="320.1" cy="329.0" rx="1.5" ry="1.2" fill="#8c8ca2" fill-opacity="0.75"/>
<ellipse cx="322.1" cy="328.4" rx="1.4" ry="1.3" fill="#858599" fill-opacity="0.75"/>
<ellipse cx="325.4" cy="330.4" rx="1.6" ry="1.3" fill="#7a7a96" fill-opacity="0.75"/>
<ellipse cx="333.6" cy="331.3" rx="1.0" ry="0.9" fill="#7a7a96" fill-opacity="0.75"/>
<ellipse cx="336.2" cy="329.0" rx="1.2" ry="0.9" fill="#8c8ca2" fill-opacity="0.75"/>
<ellipse cx="343.2" cy="329.5" rx="1.2" ry="1.1" fill="#858599" fill-opacity="0.75"/>
<ellipse cx="345.4" cy="328.8" rx="1.7" ry="1.4" fill="#7a7a96" fill-opacity="0.75"/>
<ellipse cx="350.4" cy="330.5" rx="1.1" ry="1.1" fill="#858599" fill-opacity="0.75"/>
<ellipse cx="357.0" cy="331.1" rx="1.5" ry="1.3" fill="#6e6e8c" fill-opacity="0.75"/>
<ellipse cx="361.2" cy="328.0" rx="1.1" ry="1.0" fill="#8c8ca2" fill-opacity="0.75"/>
<ellipse cx="363.8" cy="328.9" rx="1.1" ry="0.9" fill="#8c8ca2" fill-opacity="0.75"/>
<ellipse cx="368.0" cy="331.6" rx="1.4" ry="1.1" fill="#858599" fill-opacity="0.75"/>
<ellipse cx="376.1" cy="329.5" rx="1.5" ry="1.4" fill="#6e6e8c" fill-opacity="0.75"/>
<ellipse cx="380.8" cy="329.1" rx="1.6" ry="1.4" fill="#8c8ca2" fill-opacity="0.75"/>
<ellipse cx="382.7" cy="329.6" rx="1.3" ry="1.3" fill="#6e6e8c" fill-opacity="0.75"/>
<ellipse cx="390.9" cy="329.0" rx="1.4" ry="1.3" fill="#6e6e8c" fill-opacity="0.75"/>
<ellipse cx="271.2" cy="335.5" rx="1.1" ry="1.2" fill="#6e6e8c" fill-opacity="0.75"/>
<ellipse cx="276.8" cy="332.9" rx="1.5" ry="1.6" fill="#64647e" fill-opacity="0.75"/>
<ellipse cx="278.8" cy="334.6" rx="1.6" ry="1.7" fill="#6e6e8c" fill-opacity="0.75"/>
<ellipse cx="287.7" cy="332.3" rx="1.3" ry="1.0" fill="#8c8ca2" fill-opacity="0.75"/>
<ellipse cx="289.9" cy="335.6" rx="1.6" ry="1.7" fill="#858599" fill-opacity="0.75"/>
<ellipse cx="296.6" cy="334.7" rx="1.1" ry="1.1" fill="#6e6e8c" fill-opacity="0.75"/>
<ellipse cx="300.3" cy="333.0" rx="1.1" ry="0.8" fill="#64647e" fill-opacity="0.75"/>
<ellipse cx="302.0" cy="333.1" rx="1.5" ry="1.1" fill="#8c8ca2" fill-opacity="0.75"/>
<ellipse cx="310.8" cy="335.5" rx="1.2" ry="1.1" fill="#8c8ca2" fill-opacity="0.75"/>
<ellipse cx="312.7" cy="333.6" rx="1.7" ry="1.8" fill="#8c8ca2" fill-opacity="0.75"/>
<ellipse cx="319.0" cy="332.2" rx="1.5" ry="1.4" fill="#64647e" fill-opacity="0.75"/>
<ellipse cx="322.8" cy="334.6" rx="1.5" ry="1.2" fill="#64647e" fill-opacity="0.75"/>
<ellipse cx="329.4" cy="333.4" rx="1.2" ry="0.9" fill="#64647e" fill-opacity="0.75"/>
<ellipse cx="332.2" cy="333.9" rx="1.4" ry="1.4" fill="#64647e" fill-opacity="0.75"/>
<ellipse cx="336.2" cy="333.7" rx="1.5" ry="1.2" fill="#64647e" fill-opacity="0.75"/>
<ellipse cx="339.8" cy="336.5" rx="1.5" ry="1.4" fill="#858599" fill-opacity="0.75"/>
<ellipse cx="348.7" cy="334.5" rx="1.6" ry="1.7" fill="#64647e" fill-opacity="0.75"/>
<ellipse cx="348.9" cy="335.6" rx="1.3" ry="1.0" fill="#858599" fill-opacity="0.75"/>
<ellipse cx="356.1" cy="336.0" rx="1.2" ry="1.2" fill="#8c8ca2" fill-opacity="0.75"/>
<ellipse cx="360.8" cy="334.4" rx="1.6" ry="1.3" fill="#64647e" fill-opacity="0.75"/>
<ellipse cx="363.4" cy="335.3" rx="1.6" ry="1.6" fill="#858599" fill-opacity="0.75"/>
<ellipse cx="371.0" cy="333.1" rx="1.2" ry="0.9" fill="#8c8ca2" fill-opacity="0.75"/>
<ellipse cx="376.7" cy="333.3" rx="1.7" ry="1.8" fill="#7a7a96" fill-opacity="0.75"/>
<ellipse cx="379.2" cy="334.8" rx="1.2" ry="1.2" fill="#8c8ca2" fill-opacity="0.75"/>
<ellipse cx="385.0" cy="332.1" rx="1.3" ry="1.2" fill="#6e6e8c" fill-opacity="0.75"/>
<ellipse cx="390.8" cy="335.1" rx="1.5" ry="1.3" fill="#858599" fill-opacity="0.75"/>
<ellipse cx="271.7" cy="339.1" rx="1.6" ry="1.5" fill="#64647e" fill-opacity="0.75"/>
<ellipse cx="274.8" cy="337.7" rx="1.0" ry="1.1" fill="#6e6e8c" fill-opacity="0.75"/>
<ellipse cx="280.0" cy="336.8" rx="1.0" ry="0.8" fill="#6e6e8c" fill-opacity="0.75"/>
<ellipse cx="283.9" cy="338.5" rx="1.6" ry="1.4" fill="#8c8ca2" fill-opacity="0.75"/>
<ellipse cx="290.8" cy="337.1" rx="1.5" ry="1.3" fill="#64647e" fill-opacity="0.75"/>
<ellipse cx="293.2" cy="338.1" rx="1.2" ry="1.2" fill="#64647e" fill-opacity="0.75"/>
<ellipse cx="299.9" cy="337.5" rx="1.3" ry="1.3" fill="#6e6e8c" fill-opacity="0.75"/>
<ellipse cx="304.1" cy="338.7" rx="1.0" ry="1.0" fill="#8c8ca2" fill-opacity="0.75"/>
<ellipse cx="307.0" cy="341.1" rx="1.3" ry="1.1" fill="#6e6e8c" fill-opacity="0.75"/>
<ellipse cx="312.1" cy="340.6" rx="1.1" ry="1.1" fill="#858599" fill-opacity="0.75"/>
<ellipse cx="319.2" cy="338.8" rx="1.2" ry="0.9" fill="#858599" fill-opacity="0.75"/>
<ellipse cx="320.9" cy="338.0" rx="1.3" ry="1.1" fill="#64647e" fill-opacity="0.75"/>
<ellipse cx="329.5" cy="340.3" rx="1.7" ry="1.6" fill="#64647e" fill-opacity="0.75"/>
<ellipse cx="334.7" cy="337.9" rx="1.7" ry="1.5" fill="#64647e" fill-opacity="0.75"/>
<ellipse cx="336.2" cy="337.5" rx="1.3" ry="1.3" fill="#7a7a96" fill-opacity="0.75"/>
<ellipse cx="342.5" cy="339.1" rx="1.1" ry="1.1" fill="#858599" fill-opacity="0.75"/>
<ellipse cx="348.8" cy="340.4" rx="1.4" ry="1.4" fill="#858599" fill-opacity="0.75"/>
<ellipse cx="353.1" cy="337.6" rx="1.6" ry="1.6" fill="#858599" fill-opacity="0.75"/>
<ellipse cx="357.2" cy="338.6" rx="1.1" ry="1.1" fill="#7a7a96" fill-opacity="0.75"/>
<ellipse cx="362.4" cy="339.9" rx="1.3" ry="1.3" fill="#64647e" fill-opacity="0.75"/>
<ellipse cx="364.4" cy="341.1" rx="1.5" ry="1.3" fill="#8c8ca2" fill-opacity="0.75"/>
<ellipse cx="371.3" cy="337.5" rx="1.2" ry="1.0" fill="#64647e" fill-opacity="0.75"/>
<ellipse cx="376.6" cy="340.4" rx="1.2" ry="1.0" fill="#858599" fill-opacity="0.75"/>
<ellipse cx="380.2" cy="337.8" rx="1.5" ry="1.4" fill="#64647e" fill-opacity="0.75"/>
<ellipse cx="385.9" cy="338.0" rx="1.2" ry="1.2" fill="#6e6e8c" fill-opacity="0.75"/>
<ellipse cx="391.1" cy="337.3" rx="1.4" ry="1.5" fill="#8c8ca2" fill-opacity="0.75"/>
<ellipse cx="270.9" cy="345.5" rx="1.7" ry="1.7" fill="#8c8ca2" fill-opacity="0.75"/>
<ellipse cx="276.4" cy="343.0" rx="1.4" ry="1.1" fill="#8c8ca2" fill-opacity="0.75"/>
<ellipse cx="279.0" cy="345.8" rx="1.1" ry="1.2" fill="#858599" fill-opacity="0.75"/>
<ellipse cx="284.3" cy="342.6" rx="1.5" ry="1.4" fill="#858599" fill-opacity="0.75"/>
<ellipse cx="288.2" cy="345.4" rx="1.0" ry="1.0" fill="#858599" fill-opacity="0.75"/>
<ellipse cx="296.6" cy="344.1" rx="1.3" ry="1.0" fill="#858599" fill-opacity="0.75"/>
<ellipse cx="298.7" cy="345.3" rx="1.2" ry="1.3" fill="#858599" fill-opacity="0.75"/>
<ellipse cx="305.9" cy="343.7" rx="1.1" ry="1.1" fill="#858599" fill-opacity="0.75"/>
<ellipse cx="310.2" cy="342.0" rx="1.4" ry="1.5" fill="#8c8ca2" fill-opacity="0.75"/>
<ellipse cx="313.8" cy="342.8" rx="1.4" ry="1.2" fill="#64647e" fill-opacity="0.75"/>
<ellipse cx="320.1" cy="341.7" rx="1.1" ry="1.0" fill="#7a7a96" fill-opacity="0.75"/>
<ellipse cx="321.6" cy="342.6" rx="1.6" ry="1.3" fill="#7a7a96" fill-opacity="0.75"/>
<ellipse cx="327.9" cy="341.9" rx="1.3" ry="1.2" fill="#6e6e8c" fill-opacity="0.75"/>
<ellipse cx="334.3" cy="345.4" rx="1.1" ry="1.2" fill="#858599" fill-opacity="0.75"/>
<ellipse cx="338.5" cy="342.0" rx="1.1" ry="0.8" fill="#64647e" fill-opacity="0.75"/>
<ellipse cx="342.7" cy="345.5" rx="1.1" ry="0.9" fill="#64647e" fill-opacity="0.75"/>
<ellipse cx="344.5" cy="343.8" rx="1.5" ry="1.2" fill="#7a7a96" fill-opacity="0.75"/>
<ellipse cx="351.9" cy="342.8" rx="1.6" ry="1.3" fill="#7a7a96" fill-opacity="0.75"/>
<ellipse cx="356.5" cy="345.4" rx="1.2" ry="1.0" fill="#7a7a96" fill-opacity="0.75"/>
<ellipse cx="359.0" cy="344.4" rx="1.3" ry="1.3" fill="#7a7a96" fill-opacity="0.75"/>
<ellipse cx="367.1" cy="345.5" rx="1.6" ry="1.5" fill="#64647e" fill-opacity="0.75"/>
<ellipse cx="371.0" cy="344.1" rx="1.3" ry="1.0" fill="#6e6e8c" fill-opacity="0.75"/>
<ellipse cx="374.5" cy="343.9" rx="1.2" ry="1.0" fill="#8c8ca2" fill-opacity="0.75"/>
<ellipse cx="380.0" cy="344.3" rx="1.1" ry="1.1" fill="#8c8ca2" fill-opacity="0.75"/>
<ellipse cx="383.1" cy="342.1" rx="1.6" ry="1.7" fill="#858599" fill-opacity="0.75"/>
<ellipse cx="386.6" cy="343.3" rx="1.6" ry="1.5" fill="#7a7a96" fill-opacity="0.75"/>
<ellipse cx="269.4" cy="350.6" rx="1.0" ry="1.1" fill="#7a7a96" fill-opacity="0.75"/>
<ellipse cx="275.2" cy="349.1" rx="1.6" ry="1.4" fill="#858599" fill-opacity="0.75"/>
<ellipse cx="279.8" cy="350.1" rx="1.1" ry="1.1" fill="#8c8ca2" fill-opacity="0.75"/>
<ellipse cx="285.8" cy="346.3" rx="1.3" ry="1.0" fill="#7a7a96" fill-opacity="0.75"/>
<ellipse cx="289.0" cy="346.3" rx="1.2" ry="1.2" fill="#858599" fill-opacity="0.75"/>
<ellipse cx="295.5" cy="350.2" rx="1.6" ry="1.6" fill="#858599" fill-opacity="0.75"/>
<ellipse cx="297.4" cy="347.8" rx="1.6" ry="1.4" fill="#6e6e8c" fill-opacity="0.75"/>
<ellipse cx="303.4" cy="348.9" rx="1.4" ry="1.3" fill="#7a7a96" fill-opacity="0.75"/>
<ellipse cx="308.4" cy="346.6" rx="1.4" ry="1.3" fill="#8c8ca2" fill-opacity="0.75"/>
<ellipse cx="315.8" cy="348.0" rx="1.7" ry="1.6" fill="#8c8ca2" fill-opacity="0.75"/>
<ellipse cx="318.6" cy="347.7" rx="1.2" ry="1.0" fill="#8c8ca2" fill-opacity="0.75"/>
<ellipse cx="322.5" cy="350.7" rx="1.4" ry="1.2" fill="#7a7a96" fill-opacity="0.75"/>
<ellipse cx="326.1" cy="349.4" rx="1.5" ry="1.4" fill="#7a7a96" fill-opacity="0.75"/>
<ellipse cx="330.9" cy="350.8" rx="1.3" ry="1.3" fill="#8c8ca2" fill-opacity="0.75"/>
<ellipse cx="338.6" cy="349.7" rx="1.4" ry="1.2" fill="#858599" fill-opacity="0.75"/>
<ellipse cx="342.0" cy="349.9" rx="1.2" ry="1.2" fill="#8c8ca2" fill-opacity="0.75"/>
<ellipse cx="347.1" cy="347.7" rx="1.1" ry="1.2" fill="#858599" fill-opacity="0.75"/>
<ellipse cx="351.8" cy="347.4" rx="1.3" ry="1.0" fill="#7a7a96" fill-opacity="0.75"/>
<ellipse cx="355.7" cy="348.9" rx="1.4" ry="1.3" fill="#6e6e8c" fill-opacity="0.75"/>
<ellipse cx="361.0" cy="349.6" rx="1.1" ry="1.0" fill="#6e6e8c" fill-opacity="0.75"/>
<ellipse cx="366.5" cy="348.9" rx="1.2" ry="1.2" fill="#6e6e8c" fill-opacity="0.75"/>
<ellipse cx="368.3" cy="350.4" rx="1.5" ry="1.2" fill="#858599" fill-opacity="0.75"/>
<ellipse cx="374.8" cy="349.1" rx="1.3" ry="1.4" fill="#6e6e8c" fill-opacity="0.75"/>
<ellipse cx="377.8" cy="346.2" rx="1.7" ry="1.5" fill="#6e6e8c" fill-opacity="0.75"/>
<ellipse cx="382.9" cy="350.1" rx="1.5" ry="1.4" fill="#6e6e8c" fill-opacity="0.75"/>
<ellipse cx="389.7" cy="347.9" rx="1.5" ry="1.6" fill="#64647e" fill-opacity="0.75"/>
<ellipse cx="271.9" cy="352.4" rx="1.4" ry="1.4" fill="#8c8ca2" fill-opacity="0.75"/>
<ellipse cx="275.0" cy="352.4" rx="1.0" ry="0.9" fill="#6e6e8c" fill-opacity="0.75"/>
<ellipse cx="282.5" cy="355.3" rx="1.0" ry="0.8" fill="#64647e" fill-opacity="0.75"/>
<ellipse cx="285.8" cy="351.2" rx="1.4" ry="1.1" fill="#6e6e8c" fill-opacity="0.75"/>
<ellipse cx="289.2" cy="355.2" rx="1.6" ry="1.3" fill="#858599" fill-opacity="0.75"/>
<ellipse cx="293.7" cy="352.9" rx="1.4" ry="1.0" fill="#6e6e8c" fill-opacity="0.75"/>
<ellipse cx="298.4" cy="351.0" rx="1.5" ry="1.3" fill="#8c8ca2" fill-opacity="0.75"/>
<ellipse cx="302.1" cy="352.0" rx="1.1" ry="0.8" fill="#7a7a96" fill-opacity="0.75"/>
<ellipse cx="308.4" cy="354.8" rx="1.6" ry="1.3" fill="#64647e" fill-opacity="0.75"/>
<ellipse cx="313.1" cy="352.5" rx="1.1" ry="1.1" fill="#858599" fill-opacity="0.75"/>
<ellipse cx="316.4" cy="354.8" rx="1.2" ry="1.0" fill="#7a7a96" fill-opacity="0.75"/>
<ellipse cx="322.9" cy="352.3" rx="1.3" ry="1.1" fill="#6e6e8c" fill-opacity="0.75"/>
<ellipse cx="327.3" cy="351.8" rx="1.6" ry="1.7" fill="#8c8ca2" fill-opacity="0.75"/>
<ellipse cx="331.2" cy="352.4" rx="1.4" ry="1.2" fill="#8c8ca2" fill-opacity="0.75"/>
<ellipse cx="337.3" cy="354.2" rx="1.6" ry="1.3" fill="#64647e" fill-opacity="0.75"/>
<ellipse cx="343.2" cy="354.5" rx="1.1" ry="1.1" fill="#858599" fill-opacity="0.75"/>
<ellipse cx="347.6" cy="352.1" rx="1.2" ry="1.0" fill="#64647e" fill-opacity="0.75"/>
<ellipse cx="351.0" cy="355.1" rx="1.2" ry="1.1" fill="#8c8ca2" fill-opacity="0.75"/>
<ellipse cx="355.7" cy="355.6" rx="1.6" ry="1.7" fill="#7a7a96" fill-opacity="0.75"/>
<ellipse cx="361.6" cy="352.1" rx="1.7" ry="1.4" fill="#858599" fill-opacity="0.75"/>
<ellipse cx="364.4" cy="351.8" rx="1.6" ry="1.4" fill="#6e6e8c" fill-opacity="0.75"/>
<ellipse cx="369.9" cy="351.4" rx="1.3" ry="1.1" fill="#7a7a96" fill-opacity="0.75"/>
<ellipse cx="372.6" cy="351.2" rx="1.4" ry="1.1" fill="#7a7a96" fill-opacity="0.75"/>
<ellipse cx="378.5" cy="355.1" rx="1.1" ry="1.0" fill="#7a7a96" fill-opacity="0.75"/>
<ellipse cx="386.5" cy="352.4" rx="1.7" ry="1.6" fill="#8c8ca2" fill-opacity="0.75"/>
<ellipse cx="387.5" cy="352.4" rx="1.2" ry="1.3" fill="#6e6e8c" fill-opacity="0.75"/>
</g></g>
<rect x="268.25" y="270.25" width="122.50" height="82.50" fill="none" stroke="#3d3d3d" stroke-width="1.5"/>
<clipPath id="c4"><rect x="395" y="271" width="120" height="81"/></clipPath>
<g clip-path="url(#c4)">
<rect x="395" y="271" width="120" height="81" fill="#e4e4df"/>
<filter id="f4_0" x="0" y="0" width="100%" height="100%" color-interpolation-filters="sRGB"><feTurbulence type="fractalNoise" baseFrequency="0.4" numOctaves="2" seed="40"/><feColorMatrix type="matrix" values="0 0 0 0 0.792 0 0 0 0 0.792 0 0 0 0 0.769 5.00 0 0 0 -2.60"/><feGaussianBlur stdDeviation="0.3"/></filter>
<rect x="395" y="271" width="120" height="81" filter="url(#f4_0)"/>
<filter id="f4_1" x="0" y="0" width="100%" height="100%" color-interpolation-filters="sRGB"><feTurbulence type="fractalNoise" baseFrequency="0.08" numOctaves="2" seed="41"/><feColorMatrix type="matrix" values="0 0 0 0 0.839 0 0 0 0 0.824 0 0 0 0 0.769 0 3.00 0 0 -1.40"/><feGaussianBlur stdDeviation="0.3"/></filter>
<rect x="395" y="271" width="120" height="81" filter="url(#f4_1)"/>
<g filter="url(#bl)">
<ellipse cx="396.1" cy="271.5" rx="1.3" ry="1.0" fill="#9c9cae" fill-opacity="0.70"/>
<ellipse cx="399.8" cy="273.6" rx="1.2" ry="1.3" fill="#9c9cae" fill-opacity="0.70"/>
<ellipse cx="405.4" cy="273.5" rx="1.2" ry="1.0" fill="#9c9cae" fill-opacity="0.70"/>
<ellipse cx="410.3" cy="275.4" rx="1.0" ry="1.0" fill="#a6a6b4" fill-opacity="0.70"/>
<ellipse cx="417.6" cy="271.9" rx="1.2" ry="1.2" fill="#a6a6b4" fill-opacity="0.70"/>
<ellipse cx="418.9" cy="273.8" rx="1.5" ry="1.4" fill="#9494a8" fill-opacity="0.70"/>
<ellipse cx="424.4" cy="272.3" rx="1.7" ry="1.7" fill="#a6a6b4" fill-opacity="0.70"/>
<ellipse cx="427.9" cy="272.4" rx="1.5" ry="1.3" fill="#9494a8" fill-opacity="0.70"/>
<ellipse cx="434.5" cy="273.8" rx="1.3" ry="1.0" fill="#a6a6b4" fill-opacity="0.70"/>
<ellipse cx="438.5" cy="274.7" rx="1.1" ry="1.0" fill="#a6a6b4" fill-opacity="0.70"/>
<ellipse cx="444.4" cy="274.0" rx="1.5" ry="1.2" fill="#9494a8" fill-opacity="0.70"/>
<ellipse cx="447.0" cy="275.3" rx="1.4" ry="1.3" fill="#9494a8" fill-opacity="0.70"/>
<ellipse cx="453.1" cy="274.5" rx="1.2" ry="1.2" fill="#a6a6b4" fill-opacity="0.70"/>
<ellipse cx="456.6" cy="271.3" rx="1.2" ry="1.2" fill="#9494a8" fill-opacity="0.70"/>
<ellipse cx="461.4" cy="275.4" rx="1.2" ry="0.9" fill="#a6a6b4" fill-opacity="0.70"/>
<ellipse cx="468.8" cy="275.2" rx="1.7" ry="1.7" fill="#a6a6b4" fill-opacity="0.70"/>
<ellipse cx="470.3" cy="272.4" rx="1.7" ry="1.7" fill="#8c8ca0" fill-opacity="0.70"/>
<ellipse cx="478.9" cy="275.1" rx="1.5" ry="1.1" fill="#9494a8" fill-opacity="0.70"/>
<ellipse cx="483.8" cy="272.4" rx="1.2" ry="1.1" fill="#9494a8" fill-opacity="0.70"/>
<ellipse cx="485.9" cy="271.0" rx="1.0" ry="0.8" fill="#a6a6b4" fill-opacity="0.70"/>
<ellipse cx="493.7" cy="273.7" rx="1.3" ry="1.1" fill="#9494a8" fill-opacity="0.70"/>
<ellipse cx="494.2" cy="271.3" rx="1.5" ry="1.5" fill="#9494a8" fill-opacity="0.70"/>
<ellipse cx="501.3" cy="273.6" rx="1.4" ry="1.2" fill="#9c9cae" fill-opacity="0.70"/>
<ellipse cx="503.7" cy="273.5" rx="1.5" ry="1.4" fill="#9494a8" fill-opacity="0.70"/>
<ellipse cx="510.0" cy="272.1" rx="1.3" ry="1.0" fill="#8c8ca0" fill-opacity="0.70"/>
<ellipse cx="514.6" cy="274.0" rx="1.3" ry="1.1" fill="#9494a8" fill-opacity="0.70"/>
<ellipse cx="395.1" cy="276.9" rx="1.2" ry="1.0" fill="#9494a8" fill-opacity="0.70"/>
<ellipse cx="401.7" cy="276.9" rx="1.2" ry="1.3" fill="#a6a6b4" fill-opacity="0.70"/>
<ellipse cx="407.1" cy="280.4" rx="1.3" ry="1.4" fill="#9c9cae" fill-opacity="0.70"/>
<ellipse cx="411.4" cy="276.1" rx="1.1" ry="1.2" fill="#9494a8" fill-opacity="0.70"/>
<ellipse cx="415.4" cy="278.8" rx="1.6" ry="1.5" fill="#8c8ca0" fill-opacity="0.70"/>
<ellipse cx="421.0" cy="278.8" rx="1.5" ry="1.2" fill="#8c8ca0" fill-opacity="0.70"/>
<ellipse cx="427.7" cy="276.0" rx="1.7" ry="1.8" fill="#9494a8" fill-opacity="0.70"/>
<ellipse cx="428.1" cy="279.9" rx="1.1" ry="1.2" fill="#9c9cae" fill-opacity="0.70"/>
<ellipse cx="436.7" cy="278.9" rx="1.3" ry="1.2" fill="#8c8ca0" fill-opacity="0.70"/>
<ellipse cx="441.7" cy="276.7" rx="1.0" ry="1.1" fill="#9c9cae" fill-opacity="0.70"/>
<ellipse cx="444.9" cy="276.9" rx="1.3" ry="1.3" fill="#8c8ca0" fill-opacity="0.70"/>
<ellipse cx="450.8" cy="278.3" rx="1.6" ry="1.3" fill="#a6a6b4" fill-opacity="0.70"/>
<ellipse cx="455.2" cy="278.3" rx="1.5" ry="1.7" fill="#8c8ca0" fill-opacity="0.70"/>
<ellipse cx="456.2" cy="275.9" rx="1.4" ry="1.3" fill="#a6a6b4" fill-opacity="0.70"/>
<ellipse cx="463.7" cy="276.4" rx="1.3" ry="1.3" fill="#9c9cae" fill-opacity="0.70"/>
<ellipse cx="466.9" cy="277.3" rx="1.1" ry="1.1" fill="#8c8ca0" fill-opacity="0.70"/>
<ellipse cx="472.0" cy="279.4" rx="1.2" ry="1.0" fill="#8c8ca0" fill-opacity="0.70"/>
<ellipse cx="478.9" cy="277.6" rx="1.1" ry="1.1" fill="#a6a6b4" fill-opacity="0.70"/>
<ellipse cx="482.0" cy="277.7" rx="1.6" ry="1.6" fill="#9c9cae" fill-opacity="0.70"/>
<ellipse cx="487.3" cy="280.1" rx="1.4" ry="1.6" fill="#8c8ca0" fill-opacity="0.70"/>
<ellipse cx="491.0" cy="279.5" rx="1.1" ry="1.2" fill="#9494a8" fill-opacity="0.70"/>
<ellipse cx="497.0" cy="277.2" rx="1.6" ry="1.3" fill="#9c9cae" fill-opacity="0.70"/>
<ellipse cx="501.7" cy="275.7" rx="1.2" ry="1.1" fill="#8c8ca0" fill-opacity="0.70"/>
<ellipse cx="506.8" cy="278.5" rx="1.4" ry="1.3" fill="#8c8ca0" fill-opacity="0.70"/>
<ellipse cx="511.8" cy="277.4" rx="1.5" ry="1.7" fill="#9c9cae" fill-opacity="0.70"/>
<ellipse cx="515.7" cy="278.6" rx="1.2" ry="1.3" fill="#8c8ca0" fill-opacity="0.70"/>
<ellipse cx="398.7" cy="283.1" rx="1.7" ry="1.5" fill="#8c8ca0" fill-opacity="0.70"/>
<ellipse cx="402.6" cy="282.5" rx="1.1" ry="1.1" fill="#a6a6b4" fill-opacity="0.70"/>
<ellipse cx="409.0" cy="282.0" rx="1.3" ry="1.3" fill="#9494a8" fill-opacity="0.70"/>
<ellipse cx="410.4" cy="284.8" rx="1.1" ry="1.2" fill="#9c9cae" fill-opacity="0.70"/>
<ellipse cx="414.2" cy="283.4" rx="1.6" ry="1.4" fill="#a6a6b4" fill-opacity="0.70"/>
<ellipse cx="420.0" cy="281.8" rx="1.0" ry="0.8" fill="#9c9cae" fill-opacity="0.70"/>
<ellipse cx="427.0" cy="284.2" rx="1.7" ry="1.3" fill="#8c8ca0" fill-opacity="0.70"/>
<ellipse cx="431.0" cy="285.1" rx="1.1" ry="1.1" fill="#9c9cae" fill-opacity="0.70"/>
<ellipse cx="433.4" cy="282.7" rx="1.6" ry="1.3" fill="#a6a6b4" fill-opacity="0.70"/>
<ellipse cx="441.3" cy="283.6" rx="1.6" ry="1.3" fill="#8c8ca0" fill-opacity="0.70"/>
<ellipse cx="445.3" cy="281.9" rx="1.2" ry="1.0" fill="#8c8ca0" fill-opacity="0.70"/>
<ellipse cx="450.9" cy="282.3" rx="1.3" ry="1.3" fill="#a6a6b4" fill-opacity="0.70"/>
<ellipse cx="453.5" cy="283.2" rx="1.2" ry="1.3" fill="#8c8ca0" fill-opacity="0.70"/>
<ellipse cx="459.4" cy="283.3" rx="1.3" ry="1.4" fill="#9c9cae" fill-opacity="0.70"/>
<ellipse cx="461.5" cy="280.7" rx="1.7" ry="1.8" fill="#a6a6b4" fill-opacity="0.70"/>
<ellipse cx="468.3" cy="281.9" rx="1.1" ry="0.9" fill="#9494a8" fill-opacity="0.70"/>
<ellipse cx="473.2" cy="282.6" rx="1.4" ry="1.1" fill="#9494a8" fill-opacity="0.70"/>
<ellipse cx="475.2" cy="281.0" rx="1.0" ry="0.9" fill="#a6a6b4" fill-opacity="0.70"/>
<ellipse cx="479.7" cy="281.6" rx="1.5" ry="1.3" fill="#a6a6b4" fill-opacity="0.70"/>
<ellipse cx="484.7" cy="281.7" rx="1.6" ry="1.6" fill="#9494a8" fill-opacity="0.70"/>
<ellipse cx="492.4" cy="283.5" rx="1.7" ry="1.8" fill="#9c9cae" fill-opacity="0.70"/>
<ellipse cx="496.3" cy="283.7" rx="1.5" ry="1.4" fill="#8c8ca0" fill-opacity="0.70"/>
<ellipse cx="499.1" cy="284.4" rx="1.3" ry="1.0" fill="#9494a8" fill-opacity="0.70"/>
<ellipse cx="503.9" cy="284.6" rx="1.4" ry="1.3" fill="#a6a6b4" fill-opacity="0.70"/>
<ellipse cx="511.8" cy="281.9" rx="1.3" ry="1.1" fill="#9c9cae" fill-opacity="0.70"/>
<ellipse cx="513.8" cy="283.6" rx="1.2" ry="1.2" fill="#9c9cae" fill-opacity="0.70"/>
<ellipse cx="395.7" cy="289.1" rx="1.6" ry="1.3" fill="#9c9cae" fill-opacity="0.70"/>
<ellipse cx="401.9" cy="288.5" rx="1.1" ry="1.2" fill="#8c8ca0" fill-opacity="0.70"/>
<ellipse cx="406.0" cy="285.9" rx="1.4" ry="1.1" fill="#8c8ca0" fill-opacity="0.70"/>
<ellipse cx="412.0" cy="289.4" rx="1.2" ry="1.2" fill="#8c8ca0" fill-opacity="0.70"/>
<ellipse cx="416.6" cy="285.3" rx="1.4" ry="1.2" fill="#a6a6b4" fill-opacity="0.70"/>
<ellipse cx="422.2" cy="287.3" rx="1.6" ry="1.6" fill="#9c9cae" fill-opacity="0.70"/>
<ellipse cx="427.4" cy="289.3" rx="1.6" ry="1.6" fill="#9c9cae" fill-opacity="0.70"/>
<ellipse cx="430.7" cy="287.6" rx="1.7" ry="1.5" fill="#9c9cae" fill-opacity="0.70"/>
<ellipse cx="433.4" cy="285.3" rx="1.4" ry="1.4" fill="#9494a8" fill-opacity="0.70"/>
<ellipse cx="437.5" cy="288.3" rx="1.2" ry="1.2" fill="#9494a8" fill-opacity="0.70"/>
<ellipse cx="445.3" cy="285.6" rx="1.7" ry="1.8" fill="#9c9cae" fill-opacity="0.70"/>
<ellipse cx="447.0" cy="286.2" rx="1.2" ry="1.3" fill="#9c9cae" fill-opacity="0.70"/>
<ellipse cx="451.4" cy="288.4" rx="1.1" ry="1.0" fill="#a6a6b4" fill-opacity="0.70"/>
<ellipse cx="459.9" cy="286.5" rx="1.3" ry="1.2" fill="#9c9cae" fill-opacity="0.70"/>
<ellipse cx="461.6" cy="287.4" rx="1.0" ry="1.0" fill="#a6a6b4" fill-opacity="0.70"/>
<ellipse cx="468.1" cy="286.4" rx="1.1" ry="1.1" fill="#a6a6b4" fill-opacity="0.70"/>
<ellipse cx="471.0" cy="285.2" rx="1.6" ry="1.7" fill="#a6a6b4" fill-opacity="0.70"/>
<ellipse cx="476.5" cy="289.4" rx="1.7" ry="1.8" fill="#8c8ca0" fill-opacity="0.70"/>
<ellipse cx="481.1" cy="288.0" rx="1.2" ry="1.1" fill="#9c9cae" fill-opacity="0.70"/>
<ellipse cx="486.2" cy="288.0" rx="1.5" ry="1.4" fill="#a6a6b4" fill-opacity="0.70"/>
<ellipse cx="489.4" cy="289.7" rx="1.1" ry="0.9" fill="#9494a8" fill-opacity="0.70"/>
<ellipse cx="498.1" cy="286.3" rx="1.2" ry="1.1" fill="#9c9cae" fill-opacity="0.70"/>
<ellipse cx="501.4" cy="285.1" rx="1.4" ry="1.1" fill="#9c9cae" fill-opacity="0.70"/>
<ellipse cx="504.2" cy="289.1" rx="1.1" ry="1.2" fill="#a6a6b4" fill-opacity="0.70"/>
<ellipse cx="511.9" cy="287.8" rx="1.1" ry="1.1" fill="#9494a8" fill-opacity="0.70"/>
<ellipse cx="516.7" cy="288.6" rx="1.5" ry="1.6" fill="#9494a8" fill-opacity="0.70"/>
<ellipse cx="396.2" cy="292.6" rx="1.4" ry="1.5" fill="#a6a6b4" fill-opacity="0.70"/>
<ellipse cx="404.3" cy="290.6" rx="1.5" ry="1.2" fill="#9c9cae" fill-opacity="0.70"/>
<ellipse cx="408.9" cy="293.0" rx="1.7" ry="1.3" fill="#a6a6b4" fill-opacity="0.70"/>
<ellipse cx="412.4" cy="292.9" rx="1.6" ry="1.3" fill="#9494a8" fill-opacity="0.70"/>
<ellipse cx="417.5" cy="291.6" rx="1.4" ry="1.3" fill="#a6a6b4" fill-opacity="0.70"/>
<ellipse cx="420.2" cy="293.3" rx="1.6" ry="1.6" fill="#9c9cae" fill-opacity="0.70"/>
<ellipse cx="424.1" cy="291.5" rx="1.2" ry="1.1" fill="#9494a8" fill-opacity="0.70"/>
<ellipse cx="432.3" cy="293.0" rx="1.3" ry="1.2" fill="#9c9cae" fill-opacity="0.70"/>
<ellipse cx="437.0" cy="290.7" rx="1.2" ry="1.4" fill="#9494a8" fill-opacity="0.70"/>
<ellipse cx="437.4" cy="290.4" rx="1.2" ry="1.2" fill="#a6a6b4" fill-opacity="0.70"/>
<ellipse cx="446.4" cy="292.1" rx="1.0" ry="0.9" fill="#8c8ca0" fill-opacity="0.70"/>
<ellipse cx="447.5" cy="294.5" rx="1.4" ry="1.2" fill="#9c9cae" fill-opacity="0.70"/>
<ellipse cx="453.5" cy="290.4" rx="1.0" ry="1.0" fill="#8c8ca0" fill-opacity="0.70"/>
<ellipse cx="457.1" cy="291.4" rx="1.4" ry="1.1" fill="#9c9cae" fill-opacity="0.70"/>
<ellipse cx="463.1" cy="294.4" rx="1.4" ry="1.1" fill="#9494a8" fill-opacity="0.70"/>
<ellipse cx="468.3" cy="292.6" rx="1.5" ry="1.1" fill="#8c8ca0" fill-opacity="0.70"/>
<ellipse cx="471.3" cy="292.6" rx="1.4" ry="1.1" fill="#a6a6b4" fill-opacity="0.70"/>
<ellipse cx="476.0" cy="293.3" rx="1.4" ry="1.2" fill="#a6a6b4" fill-opacity="0.70"/>
<ellipse cx="484.0" cy="293.7" rx="1.5" ry="1.4" fill="#a6a6b4" fill-opacity="0.70"/>
<ellipse cx="485.5" cy="291.4" rx="1.4" ry="1.3" fill="#a6a6b4" fill-opacity="0.70"/>
<ellipse cx="491.7" cy="293.8" rx="1.3" ry="1.4" fill="#9c9cae" fill-opacity="0.70"/>
<ellipse cx="497.9" cy="292.6" rx="1.7" ry="1.4" fill="#9494a8" fill-opacity="0.70"/>
<ellipse cx="501.2" cy="290.0" rx="1.6" ry="1.7" fill="#9c9cae" fill-opacity="0.70"/>
<ellipse cx="506.4" cy="290.0" rx="1.6" ry="1.3" fill="#9494a8" fill-opacity="0.70"/>
<ellipse cx="509.0" cy="290.1" rx="1.3" ry="1.4" fill="#9494a8" fill-opacity="0.70"/>
<ellipse cx="515.5" cy="293.4" rx="1.4" ry="1.4" fill="#9c9cae" fill-opacity="0.70"/>
<ellipse cx="399.2" cy="295.9" rx="1.3" ry="1.0" fill="#a6a6b4" fill-opacity="0.70"/>
<ellipse cx="400.0" cy="296.5" rx="1.1" ry="0.9" fill="#9c9cae" fill-opacity="0.70"/>
<ellipse cx="405.7" cy="298.5" rx="1.7" ry="1.7" fill="#9494a8" fill-opacity="0.70"/>
<ellipse cx="412.5" cy="298.0" rx="1.1" ry="0.8" fill="#9c9cae" fill-opacity="0.70"/>
<ellipse cx="418.3" cy="296.9" rx="1.4" ry="1.1" fill="#a6a6b4" fill-opacity="0.70"/>
<ellipse cx="421.6" cy="297.5" rx="1.4" ry="1.3" fill="#9c9cae" fill-opacity="0.70"/>
<ellipse cx="423.5" cy="296.6" rx="1.1" ry="0.9" fill="#a6a6b4" fill-opacity="0.70"/>
<ellipse cx="430.3" cy="297.6" rx="1.1" ry="1.0" fill="#9c9cae" fill-opacity="0.70"/>
<ellipse cx="435.4" cy="294.5" rx="1.0" ry="0.9" fill="#8c8ca0" fill-opacity="0.70"/>
<ellipse cx="440.9" cy="297.3" rx="1.7" ry="1.3" fill="#a6a6b4" fill-opacity="0.70"/>
<ellipse cx="444.5" cy="295.7" rx="1.4" ry="1.2" fill="#8c8ca0" fill-opacity="0.70"/>
<ellipse cx="451.4" cy="297.2" rx="1.0" ry="1.0" fill="#9494a8" fill-opacity="0.70"/>
<ellipse cx="452.6" cy="297.3" rx="1.4" ry="1.3" fill="#8c8ca0" fill-opacity="0.70"/>
<ellipse cx="460.5" cy="295.3" rx="1.1" ry="1.2" fill="#a6a6b4" fill-opacity="0.70"/>
<ellipse cx="464.1" cy="297.0" rx="1.4" ry="1.2" fill="#9494a8" fill-opacity="0.70"/>
<ellipse cx="467.0" cy="298.6" rx="1.6" ry="1.3" fill="#9494a8" fill-opacity="0.70"/>
<ellipse cx="471.0" cy="295.0" rx="1.7" ry="1.3" fill="#9c9cae" fill-opacity="0.70"/>
<ellipse cx="475.1" cy="298.9" rx="1.6" ry="1.6" fill="#9494a8" fill-opacity="0.70"/>
<ellipse cx="480.6" cy="295.7" rx="1.7" ry="1.5" fill="#9494a8" fill-opacity="0.70"/>
<ellipse cx="487.3" cy="299.0" rx="1.3" ry="1.2" fill="#a6a6b4" fill-opacity="0.70"/>
<ellipse cx="492.7" cy="295.0" rx="1.0" ry="0.8" fill="#9494a8" fill-opacity="0.70"/>
<ellipse cx="495.7" cy="298.0" rx="1.4" ry="1.5" fill="#a6a6b4" fill-opacity="0.70"/>
<ellipse cx="500.8" cy="298.6" rx="1.1" ry="1.0" fill="#9c9cae" fill-opacity="0.70"/>
<ellipse cx="506.7" cy="297.2" rx="1.3" ry="1.4" fill="#8c8ca0" fill-opacity="0.70"/>
<ellipse cx="510.4" cy="294.9" rx="1.1" ry="1.0" fill="#9494a8" fill-opacity="0.70"/>
<ellipse cx="516.0" cy="294.9" rx="1.1" ry="0.9" fill="#8c8ca0" fill-opacity="0.70"/>
<ellipse cx="398.5" cy="302.8" rx="1.6" ry="1.4" fill="#a6a6b4" fill-opacity="0.70"/>
<ellipse cx="403.9" cy="301.1" rx="1.6" ry="1.3" fill="#a6a6b4" fill-opacity="0.70"/>
<ellipse cx="408.5" cy="303.8" rx="1.6" ry="1.6" fill="#8c8ca0" fill-opacity="0.70"/>
<ellipse cx="413.7" cy="300.9" rx="1.2" ry="1.2" fill="#9494a8" fill-opacity="0.70"/>
<ellipse cx="418.1" cy="300.5" rx="1.2" ry="0.9" fill="#9494a8" fill-opacity="0.70"/>
<ellipse cx="421.4" cy="302.8" rx="1.2" ry="1.1" fill="#8c8ca0" fill-opacity="0.70"/>
<ellipse cx="425.3" cy="301.7" rx="1.5" ry="1.4" fill="#9c9cae" fill-opacity="0.70"/>
<ellipse cx="431.8" cy="301.2" rx="1.3" ry="1.3" fill="#a6a6b4" fill-opacity="0.70"/>
<ellipse cx="433.5" cy="300.8" rx="1.1" ry="1.0" fill="#8c8ca0" fill-opacity="0.70"/>
<ellipse cx="440.9" cy="302.9" rx="1.7" ry="1.8" fill="#8c8ca0" fill-opacity="0.70"/>
<ellipse cx="443.6" cy="301.6" rx="1.5" ry="1.6" fill="#9c9cae" fill-opacity="0.70"/>
<ellipse cx="450.2" cy="302.3" rx="1.2" ry="1.1" fill="#9494a8" fill-opacity="0.70"/>
<ellipse cx="455.5" cy="301.7" rx="1.6" ry="1.5" fill="#a6a6b4" fill-opacity="0.70"/>
<ellipse cx="456.7" cy="299.2" rx="1.2" ry="1.0" fill="#a6a6b4" fill-opacity="0.70"/>
<ellipse cx="464.6" cy="303.1" rx="1.4" ry="1.2" fill="#9c9cae" fill-opacity="0.70"/>
<ellipse cx="468.6" cy="299.4" rx="1.1" ry="1.1" fill="#9494a8" fill-opacity="0.70"/>
<ellipse cx="471.3" cy="303.0" rx="1.0" ry="1.0" fill="#9494a8" fill-opacity="0.70"/>
<ellipse cx="475.8" cy="303.2" rx="1.4" ry="1.1" fill="#9c9cae" fill-opacity="0.70"/>
<ellipse cx="482.0" cy="300.7" rx="1.2" ry="1.1" fill="#9494a8" fill-opacity="0.70"/>
<ellipse cx="487.6" cy="303.5" rx="1.2" ry="1.2" fill="#9c9cae" fill-opacity="0.70"/>
<ellipse cx="491.9" cy="300.4" rx="1.0" ry="1.1" fill="#9c9cae" fill-opacity="0.70"/>
<ellipse cx="497.8" cy="301.0" rx="1.1" ry="1.0" fill="#8c8ca0" fill-opacity="0.70"/>
<ellipse cx="501.8" cy="300.9" rx="1.7" ry="1.7" fill="#9c9cae" fill-opacity="0.70"/>
<ellipse cx="507.1" cy="302.6" rx="1.6" ry="1.6" fill="#8c8ca0" fill-opacity="0.70"/>
<ellipse cx="510.2" cy="301.0" rx="1.5" ry="1.2" fill="#9c9cae" fill-opacity="0.70"/>
<ellipse cx="513.3" cy="301.3" rx="1.6" ry="1.5" fill="#8c8ca0" fill-opacity="0.70"/>
<ellipse cx="396.7" cy="306.6" rx="1.2" ry="1.1" fill="#a6a6b4" fill-opacity="0.70"/>
<ellipse cx="402.4" cy="305.2" rx="1.5" ry="1.3" fill="#a6a6b4" fill-opacity="0.70"/>
<ellipse cx="408.1" cy="307.2" rx="1.1" ry="1.0" fill="#9494a8" fill-opacity="0.70"/>
<ellipse cx="413.5" cy="308.4" rx="1.5" ry="1.3" fill="#9494a8" fill-opacity="0.70"/>
<ellipse cx="416.9" cy="306.8" rx="1.1" ry="1.2" fill="#9c9cae" fill-opacity="0.70"/>
<ellipse cx="422.3" cy="304.0" rx="1.4" ry="1.3" fill="#9c9cae" fill-opacity="0.70"/>
<ellipse cx="424.5" cy="307.8" rx="1.5" ry="1.3" fill="#a6a6b4" fill-opacity="0.70"/>
<ellipse cx="430.6" cy="305.2" rx="1.6" ry="1.2" fill="#8c8ca0" fill-opacity="0.70"/>
<ellipse cx="434.3" cy="307.7" rx="1.5" ry="1.5" fill="#a6a6b4" fill-opacity="0.70"/>
<ellipse cx="441.8" cy="307.4" rx="1.6" ry="1.5" fill="#9494a8" fill-opacity="0.70"/>
<ellipse cx="442.8" cy="307.5" rx="1.2" ry="0.9" fill="#9494a8" fill-opacity="0.70"/>
<ellipse cx="447.6" cy="306.4" rx="1.7" ry="1.4" fill="#9494a8" fill-opacity="0.70"/>
<ellipse cx="455.2" cy="306.6" rx="1.3" ry="1.3" fill="#a6a6b4" fill-opacity="0.70"/>
<ellipse cx="457.6" cy="308.2" rx="1.5" ry="1.5" fill="#8c8ca0" fill-opacity="0.70"/>
<ellipse cx="463.1" cy="305.1" rx="1.1" ry="1.1" fill="#8c8ca0" fill-opacity="0.70"/>
<ellipse cx="469.7" cy="308.2" rx="1.4" ry="1.2" fill="#8c8ca0" fill-opacity="0.70"/>
<ellipse cx="470.6" cy="305.7" rx="1.4" ry="1.3" fill="#9c9cae" fill-opacity="0.70"/>
<ellipse cx="475.6" cy="306.3" rx="1.1" ry="1.0" fill="#9494a8" fill-opacity="0.70"/>
<ellipse cx="479.8" cy="304.9" rx="1.2" ry="1.1" fill="#9494a8" fill-opacity="0.70"/>
<ellipse cx="486.5" cy="307.0" rx="1.2" ry="1.0" fill="#8c8ca0" fill-opacity="0.70"/>
<ellipse cx="490.0" cy="306.9" rx="1.5" ry="1.4" fill="#9494a8" fill-opacity="0.70"/>
<ellipse cx="497.2" cy="307.8" rx="1.4" ry="1.2" fill="#9c9cae" fill-opacity="0.70"/>
<ellipse cx="499.0" cy="304.1" rx="1.5" ry="1.4" fill="#a6a6b4" fill-opacity="0.70"/>
<ellipse cx="504.3" cy="306.0" rx="1.3" ry="1.0" fill="#9494a8" fill-opacity="0.70"/>
<ellipse cx="508.4" cy="305.8" rx="1.2" ry="1.0" fill="#8c8ca0" fill-opacity="0.70"/>
<ellipse cx="515.0" cy="305.6" rx="1.4" ry="1.4" fill="#9494a8" fill-opacity="0.70"/>
<ellipse cx="395.7" cy="311.5" rx="1.4" ry="1.4" fill="#9c9cae" fill-opacity="0.70"/>
<ellipse cx="402.0" cy="311.9" rx="1.4" ry="1.5" fill="#a6a6b4" fill-opacity="0.70"/>
<ellipse cx="407.3" cy="309.5" rx="1.5" ry="1.4" fill="#a6a6b4" fill-opacity="0.70"/>
<ellipse cx="411.4" cy="313.2" rx="1.6" ry="1.3" fill="#9494a8" fill-opacity="0.70"/>
<ellipse cx="418.1" cy="313.2" rx="1.6" ry="1.3" fill="#8c8ca0" fill-opacity="0.70"/>
<ellipse cx="422.8" cy="312.5" rx="1.6" ry="1.6" fill="#a6a6b4" fill-opacity="0.70"/>
<ellipse cx="425.7" cy="312.8" rx="1.6" ry="1.5" fill="#9c9cae" fill-opacity="0.70"/>
<ellipse cx="432.0" cy="309.8" rx="1.2" ry="1.0" fill="#9494a8" fill-opacity="0.70"/>
<ellipse cx="434.6" cy="309.8" rx="1.1" ry="1.0" fill="#9c9cae" fill-opacity="0.70"/>
<ellipse cx="439.6" cy="311.4" rx="1.3" ry="1.3" fill="#8c8ca0" fill-opacity="0.70"/>
<ellipse cx="444.1" cy="310.8" rx="1.4" ry="1.4" fill="#9494a8" fill-opacity="0.70"/>
<ellipse cx="449.9" cy="310.8" rx="1.1" ry="1.2" fill="#a6a6b4" fill-opacity="0.70"/>
<ellipse cx="454.6" cy="308.9" rx="1.5" ry="1.4" fill="#9494a8" fill-opacity="0.70"/>
<ellipse cx="457.5" cy="311.7" rx="1.5" ry="1.6" fill="#8c8ca0" fill-opacity="0.70"/>
<ellipse cx="462.0" cy="310.8" rx="1.4" ry="1.1" fill="#8c8ca0" fill-opacity="0.70"/>
<ellipse cx="467.3" cy="312.6" rx="1.2" ry="1.0" fill="#a6a6b4" fill-opacity="0.70"/>
<ellipse cx="473.0" cy="313.3" rx="1.7" ry="1.5" fill="#8c8ca0" fill-opacity="0.70"/>
<ellipse cx="476.3" cy="310.6" rx="1.1" ry="1.1" fill="#9494a8" fill-opacity="0.70"/>
<ellipse cx="483.6" cy="312.8" rx="1.6" ry="1.6" fill="#a6a6b4" fill-opacity="0.70"/>
<ellipse cx="486.4" cy="309.6" rx="1.3" ry="1.3" fill="#9494a8" fill-opacity="0.70"/>
<ellipse cx="489.3" cy="313.1" rx="1.0" ry="0.9" fill="#a6a6b4" fill-opacity="0.70"/>
<ellipse cx="495.4" cy="313.0" rx="1.1" ry="1.0" fill="#8c8ca0" fill-opacity="0.70"/>
<ellipse cx="500.1" cy="312.0" rx="1.5" ry="1.2" fill="#9c9cae" fill-opacity="0.70"/>
<ellipse cx="505.7" cy="310.8" rx="1.3" ry="1.3" fill="#8c8ca0" fill-opacity="0.70"/>
<ellipse cx="508.7" cy="312.1" rx="1.2" ry="1.3" fill="#9494a8" fill-opacity="0.70"/>
<ellipse cx="516.4" cy="313.1" rx="1.3" ry="1.4" fill="#9494a8" fill-opacity="0.70"/>
<ellipse cx="399.4" cy="314.4" rx="1.7" ry="1.5" fill="#8c8ca0" fill-opacity="0.70"/>
<ellipse cx="400.3" cy="313.4" rx="1.1" ry="1.0" fill="#9494a8" fill-opacity="0.70"/>
<ellipse cx="407.2" cy="314.9" rx="1.4" ry="1.1" fill="#a6a6b4" fill-opacity="0.70"/>
<ellipse cx="412.4" cy="317.6" rx="1.6" ry="1.7" fill="#9c9cae" fill-opacity="0.70"/>
<ellipse cx="415.4" cy="318.0" rx="1.1" ry="0.9" fill="#a6a6b4" fill-opacity="0.70"/>
<ellipse cx="421.9" cy="314.3" rx="1.1" ry="0.9" fill="#a6a6b4" fill-opacity="0.70"/>
<ellipse cx="423.6" cy="313.9" rx="1.1" ry="1.2" fill="#9c9cae" fill-opacity="0.70"/>
<ellipse cx="428.7" cy="314.5" rx="1.6" ry="1.2" fill="#a6a6b4" fill-opacity="0.70"/>
<ellipse cx="434.1" cy="314.6" rx="1.3" ry="1.3" fill="#9c9cae" fill-opacity="0.70"/>
<ellipse cx="439.7" cy="317.9" rx="1.4" ry="1.5" fill="#a6a6b4" fill-opacity="0.70"/>
<ellipse cx="442.3" cy="313.3" rx="1.7" ry="1.7" fill="#9c9cae" fill-opacity="0.70"/>
<ellipse cx="450.6" cy="315.0" rx="1.5" ry="1.5" fill="#9c9cae" fill-opacity="0.70"/>
<ellipse cx="454.9" cy="316.9" rx="1.6" ry="1.4" fill="#9c9cae" fill-opacity="0.70"/>
<ellipse cx="458.4" cy="315.5" rx="1.3" ry="1.4" fill="#8c8ca0" fill-opacity="0.70"/>
<ellipse cx="462.3" cy="313.5" rx="1.1" ry="1.1" fill="#9494a8" fill-opacity="0.70"/>
<ellipse cx="467.4" cy="314.6" rx="1.6" ry="1.4" fill="#9c9cae" fill-opacity="0.70"/>
<ellipse cx="471.5" cy="317.9" rx="1.2" ry="1.0" fill="#a6a6b4" fill-opacity="0.70"/>
<ellipse cx="475.4" cy="314.3" rx="1.3" ry="1.3" fill="#8c8ca0" fill-opacity="0.70"/>
<ellipse cx="480.2" cy="317.4" rx="1.5" ry="1.5" fill="#9c9cae" fill-opacity="0.70"/>
<ellipse cx="487.7" cy="317.5" rx="1.3" ry="1.0" fill="#9494a8" fill-opacity="0.70"/>
<ellipse cx="491.7" cy="318.0" rx="1.5" ry="1.2" fill="#9c9cae" fill-opacity="0.70"/>
<ellipse cx="495.0" cy="316.8" rx="1.2" ry="1.0" fill="#9c9cae" fill-opacity="0.70"/>
<ellipse cx="500.4" cy="317.9" rx="1.6" ry="1.5" fill="#8c8ca0" fill-opacity="0.70"/>
<ellipse cx="507.7" cy="314.3" rx="1.3" ry="1.2" fill="#8c8ca0" fill-opacity="0.70"/>
<ellipse cx="511.1" cy="314.6" rx="1.5" ry="1.7" fill="#a6a6b4" fill-opacity="0.70"/>
<ellipse cx="513.4" cy="315.6" rx="1.5" ry="1.2" fill="#8c8ca0" fill-opacity="0.70"/>
<ellipse cx="396.5" cy="318.7" rx="1.3" ry="1.0" fill="#a6a6b4" fill-opacity="0.70"/>
<ellipse cx="400.8" cy="322.2" rx="1.0" ry="0.8" fill="#9494a8" fill-opacity="0.70"/>
<ellipse cx="406.9" cy="320.5" rx="1.4" ry="1.3" fill="#8c8ca0" fill-opacity="0.70"/>
<ellipse cx="411.6" cy="318.1" rx="1.4" ry="1.2" fill="#9494a8" fill-opacity="0.70"/>
<ellipse cx="418.4" cy="318.3" rx="1.3" ry="1.0" fill="#9494a8" fill-opacity="0.70"/>
<ellipse cx="419.0" cy="321.7" rx="1.2" ry="0.9" fill="#9494a8" fill-opacity="0.70"/>
<ellipse cx="427.7" cy="321.6" rx="1.1" ry="1.1" fill="#8c8ca0" fill-opacity="0.70"/>
<ellipse cx="429.2" cy="321.7" rx="1.2" ry="1.3" fill="#8c8ca0" fill-opacity="0.70"/>
<ellipse cx="434.0" cy="320.0" rx="1.7" ry="1.4" fill="#9c9cae" fill-opacity="0.70"/>
<ellipse cx="438.4" cy="319.2" rx="1.3" ry="1.3" fill="#9494a8" fill-opacity="0.70"/>
<ellipse cx="442.9" cy="321.4" rx="1.6" ry="1.5" fill="#9c9cae" fill-opacity="0.70"/>
<ellipse cx="450.6" cy="320.1" rx="1.3" ry="1.2" fill="#9494a8" fill-opacity="0.70"/>
<ellipse cx="454.8" cy="319.8" rx="1.7" ry="1.4" fill="#8c8ca0" fill-opacity="0.70"/>
<ellipse cx="458.4" cy="318.3" rx="1.3" ry="1.2" fill="#9c9cae" fill-opacity="0.70"/>
<ellipse cx="464.5" cy="318.6" rx="1.6" ry="1.5" fill="#a6a6b4" fill-opacity="0.70"/>
<ellipse cx="469.5" cy="320.9" rx="1.3" ry="1.1" fill="#8c8ca0" fill-opacity="0.70"/>
<ellipse cx="472.8" cy="319.0" rx="1.2" ry="0.9" fill="#a6a6b4" fill-opacity="0.70"/>
<ellipse cx="475.8" cy="320.6" rx="1.5" ry="1.2" fill="#a6a6b4" fill-opacity="0.70"/>
<ellipse cx="482.5" cy="321.5" rx="1.1" ry="1.2" fill="#9c9cae" fill-opacity="0.70"/>
<ellipse cx="484.8" cy="320.4" rx="1.6" ry="1.5" fill="#9494a8" fill-opacity="0.70"/>
<ellipse cx="490.0" cy="319.4" rx="1.1" ry="1.1" fill="#a6a6b4" fill-opacity="0.70"/>
<ellipse cx="496.8" cy="318.7" rx="1.5" ry="1.6" fill="#9c9cae" fill-opacity="0.70"/>
<ellipse cx="501.0" cy="320.7" rx="1.7" ry="1.4" fill="#9494a8" fill-opacity="0.70"/>
<ellipse cx="507.1" cy="320.8" rx="1.3" ry="1.3" fill="#9c9cae" fill-opacity="0.70"/>
<ellipse cx="511.3" cy="322.4" rx="1.2" ry="1.2" fill="#8c8ca0" fill-opacity="0.70"/>
<ellipse cx="515.2" cy="318.5" rx="1.5" ry="1.6" fill="#a6a6b4" fill-opacity="0.70"/>
<ellipse cx="396.1" cy="325.1" rx="1.4" ry="1.4" fill="#9494a8" fill-opacity="0.70"/>
<ellipse cx="404.2" cy="327.2" rx="1.4" ry="1.1" fill="#8c8ca0" fill-opacity="0.70"/>
<ellipse cx="407.4" cy="326.4" rx="1.6" ry="1.5" fill="#9c9cae" fill-opacity="0.70"/>
<ellipse cx="410.6" cy="325.0" rx="1.5" ry="1.7" fill="#9494a8" fill-opacity="0.70"/>
<ellipse cx="417.1" cy="323.7" rx="1.3" ry="1.1" fill="#a6a6b4" fill-opacity="0.70"/>
<ellipse cx="423.0" cy="324.0" rx="1.1" ry="0.9" fill="#9c9cae" fill-opacity="0.70"/>
<ellipse cx="423.5" cy="324.3" rx="1.3" ry="1.4" fill="#8c8ca0" fill-opacity="0.70"/>
<ellipse cx="428.7" cy="325.4" rx="1.1" ry="1.1" fill="#8c8ca0" fill-opacity="0.70"/>
<ellipse cx="437.2" cy="325.9" rx="1.5" ry="1.4" fill="#a6a6b4" fill-opacity="0.70"/>
<ellipse cx="441.7" cy="327.2" rx="1.6" ry="1.6" fill="#8c8ca0" fill-opacity="0.70"/>
<ellipse cx="444.4" cy="326.3" rx="1.4" ry="1.5" fill="#8c8ca0" fill-opacity="0.70"/>
<ellipse cx="450.5" cy="325.8" rx="1.1" ry="1.0" fill="#a6a6b4" fill-opacity="0.70"/>
<ellipse cx="454.1" cy="325.9" rx="1.6" ry="1.3" fill="#8c8ca0" fill-opacity="0.70"/>
<ellipse cx="460.3" cy="325.2" rx="1.5" ry="1.3" fill="#8c8ca0" fill-opacity="0.70"/>
<ellipse cx="464.3" cy="326.8" rx="1.5" ry="1.5" fill="#8c8ca0" fill-opacity="0.70"/>
<ellipse cx="468.0" cy="325.6" rx="1.7" ry="1.7" fill="#8c8ca0" fill-opacity="0.70"/>
<ellipse cx="472.7" cy="323.3" rx="1.6" ry="1.2" fill="#a6a6b4" fill-opacity="0.70"/>
<ellipse cx="476.3" cy="326.5" rx="1.4" ry="1.3" fill="#8c8ca0" fill-opacity="0.70"/>
<ellipse cx="482.1" cy="324.7" rx="1.7" ry="1.5" fill="#9494a8" fill-opacity="0.70"/>
<ellipse cx="484.9" cy="322.8" rx="1.1" ry="1.0" fill="#9494a8" fill-opacity="0.70"/>
<ellipse cx="489.6" cy="325.2" rx="1.6" ry="1.4" fill="#a6a6b4" fill-opacity="0.70"/>
<ellipse cx="498.2" cy="325.5" rx="1.4" ry="1.5" fill="#9494a8" fill-opacity="0.70"/>
<ellipse cx="501.0" cy="323.7" rx="1.0" ry="0.8" fill="#a6a6b4" fill-opacity="0.70"/>
<ellipse cx="504.2" cy="326.8" rx="1.5" ry="1.5" fill="#a6a6b4" fill-opacity="0.70"/>
<ellipse cx="508.4" cy="323.5" rx="1.2" ry="1.0" fill="#9c9cae" fill-opacity="0.70"/>
<ellipse cx="514.8" cy="324.8" rx="1.5" ry="1.4" fill="#a6a6b4" fill-opacity="0.70"/>
<ellipse cx="398.0" cy="328.4" rx="1.2" ry="0.9" fill="#a6a6b4" fill-opacity="0.70"/>
<ellipse cx="400.1" cy="330.3" rx="1.6" ry="1.2" fill="#9c9cae" fill-opacity="0.70"/>
<ellipse cx="404.6" cy="330.4" rx="1.5" ry="1.5" fill="#a6a6b4" fill-opacity="0.70"/>
<ellipse cx="413.5" cy="330.7" rx="1.4" ry="1.4" fill="#9494a8" fill-opacity="0.70"/>
<ellipse cx="416.1" cy="329.4" rx="1.7" ry="1.8" fill="#a6a6b4" fill-opacity="0.70"/>
<ellipse cx="419.7" cy="331.8" rx="1.0" ry="0.8" fill="#8c8ca0" fill-opacity="0.70"/>
<ellipse cx="427.3" cy="331.2" rx="1.5" ry="1.2" fill="#9494a8" fill-opacity="0.70"/>
<ellipse cx="429.4" cy="331.4" rx="1.1" ry="0.9" fill="#9c9cae" fill-opacity="0.70"/>
<ellipse cx="434.9" cy="331.0" rx="1.0" ry="1.1" fill="#a6a6b4" fill-opacity="0.70"/>
<ellipse cx="439.2" cy="330.4" rx="1.3" ry="1.3" fill="#9c9cae" fill-opacity="0.70"/>
<ellipse cx="446.4" cy="328.3" rx="1.1" ry="1.1" fill="#8c8ca0" fill-opacity="0.70"/>
<ellipse cx="449.0" cy="329.8" rx="1.6" ry="1.5" fill="#8c8ca0" fill-opacity="0.70"/>
<ellipse cx="452.1" cy="329.9" rx="1.1" ry="0.9" fill="#9c9cae" fill-opacity="0.70"/>
<ellipse cx="460.1" cy="328.3" rx="1.4" ry="1.3" fill="#9c9cae" fill-opacity="0.70"/>
<ellipse cx="462.5" cy="331.5" rx="1.7" ry="1.4" fill="#9494a8" fill-opacity="0.70"/>
<ellipse cx="468.6" cy="330.9" rx="1.4" ry="1.2" fill="#a6a6b4" fill-opacity="0.70"/>
<ellipse cx="471.4" cy="328.8" rx="1.4" ry="1.1" fill="#9494a8" fill-opacity="0.70"/>
<ellipse cx="477.6" cy="329.4" rx="1.5" ry="1.5" fill="#a6a6b4" fill-opacity="0.70"/>
<ellipse cx="483.4" cy="328.1" rx="1.1" ry="1.0" fill="#9494a8" fill-opacity="0.70"/>
<ellipse cx="487.1" cy="328.1" rx="1.1" ry="1.1" fill="#9c9cae" fill-opacity="0.70"/>
<ellipse cx="493.0" cy="331.8" rx="1.5" ry="1.6" fill="#9494a8" fill-opacity="0.70"/>
<ellipse cx="493.8" cy="328.9" rx="1.2" ry="1.1" fill="#9c9cae" fill-opacity="0.70"/>
<ellipse cx="502.7" cy="328.6" rx="1.7" ry="1.4" fill="#a6a6b4" fill-opacity="0.70"/>
<ellipse cx="503.4" cy="331.2" rx="1.3" ry="1.3" fill="#a6a6b4" fill-opacity="0.70"/>
<ellipse cx="511.1" cy="330.8" rx="1.3" ry="1.2" fill="#9494a8" fill-opacity="0.70"/>
<ellipse cx="513.6" cy="330.1" rx="1.3" ry="1.2" fill="#9c9cae" fill-opacity="0.70"/>
<ellipse cx="397.7" cy="334.1" rx="1.3" ry="1.0" fill="#8c8ca0" fill-opacity="0.70"/>
<ellipse cx="403.5" cy="334.7" rx="1.2" ry="1.4" fill="#9494a8" fill-opacity="0.70"/>
<ellipse cx="405.2" cy="332.8" rx="1.6" ry="1.2" fill="#9c9cae" fill-opacity="0.70"/>
<ellipse cx="413.1" cy="335.5" rx="1.1" ry="1.1" fill="#8c8ca0" fill-opacity="0.70"/>
<ellipse cx="415.3" cy="334.6" rx="1.2" ry="1.0" fill="#a6a6b4" fill-opacity="0.70"/>
<ellipse cx="421.4" cy="334.8" rx="1.0" ry="1.0" fill="#9494a8" fill-opacity="0.70"/>
<ellipse cx="426.3" cy="333.6" rx="1.7" ry="1.7" fill="#9494a8" fill-opacity="0.70"/>
<ellipse cx="430.6" cy="336.5" rx="1.2" ry="1.0" fill="#9c9cae" fill-opacity="0.70"/>
<ellipse cx="435.4" cy="335.5" rx="1.5" ry="1.5" fill="#a6a6b4" fill-opacity="0.70"/>
<ellipse cx="439.8" cy="334.9" rx="1.4" ry="1.3" fill="#a6a6b4" fill-opacity="0.70"/>
<ellipse cx="443.6" cy="334.1" rx="1.3" ry="1.0" fill="#9494a8" fill-opacity="0.70"/>
<ellipse cx="450.2" cy="332.4" rx="1.7" ry="1.6" fill="#a6a6b4" fill-opacity="0.70"/>
<ellipse cx="456.0" cy="334.0" rx="1.7" ry="1.4" fill="#a6a6b4" fill-opacity="0.70"/>
<ellipse cx="458.7" cy="333.5" rx="1.4" ry="1.1" fill="#9494a8" fill-opacity="0.70"/>
<ellipse cx="463.9" cy="333.1" rx="1.0" ry="0.8" fill="#a6a6b4" fill-opacity="0.70"/>
<ellipse cx="469.1" cy="336.0" rx="1.2" ry="1.0" fill="#9494a8" fill-opacity="0.70"/>
<ellipse cx="471.5" cy="333.0" rx="1.5" ry="1.2" fill="#9c9cae" fill-opacity="0.70"/>
<ellipse cx="475.6" cy="336.7" rx="1.5" ry="1.5" fill="#8c8ca0" fill-opacity="0.70"/>
<ellipse cx="481.6" cy="334.7" rx="1.2" ry="1.0" fill="#a6a6b4" fill-opacity="0.70"/>
<ellipse cx="488.4" cy="335.9" rx="1.0" ry="1.1" fill="#a6a6b4" fill-opacity="0.70"/>
<ellipse cx="490.4" cy="332.6" rx="1.3" ry="1.1" fill="#9494a8" fill-opacity="0.70"/>
<ellipse cx="493.9" cy="335.7" rx="1.3" ry="1.1" fill="#8c8ca0" fill-opacity="0.70"/>
<ellipse cx="502.9" cy="335.2" rx="1.5" ry="1.2" fill="#a6a6b4" fill-opacity="0.70"/>
<ellipse cx="504.7" cy="332.9" rx="1.6" ry="1.5" fill="#8c8ca0" fill-opacity="0.70"/>
<ellipse cx="511.9" cy="334.2" rx="1.2" ry="1.1" fill="#8c8ca0" fill-opacity="0.70"/>
<ellipse cx="514.8" cy="336.2" rx="1.3" ry="1.2" fill="#a6a6b4" fill-opacity="0.70"/>
<ellipse cx="397.3" cy="338.2" rx="1.6" ry="1.4" fill="#a6a6b4" fill-opacity="0.70"/>
<ellipse cx="399.9" cy="338.6" rx="1.2" ry="1.1" fill="#8c8ca0" fill-opacity="0.70"/>
<ellipse cx="406.5" cy="340.2" rx="1.2" ry="1.0" fill="#9494a8" fill-opacity="0.70"/>
<ellipse cx="410.4" cy="340.0" rx="1.2" ry="0.9" fill="#9c9cae" fill-opacity="0.70"/>
<ellipse cx="414.3" cy="340.9" rx="1.4" ry="1.1" fill="#a6a6b4" fill-opacity="0.70"/>
<ellipse cx="423.2" cy="340.7" rx="1.5" ry="1.5" fill="#9494a8" fill-opacity="0.70"/>
<ellipse cx="424.2" cy="339.5" rx="1.5" ry="1.3" fill="#9494a8" fill-opacity="0.70"/>
<ellipse cx="428.8" cy="337.0" rx="1.1" ry="1.1" fill="#9494a8" fill-opacity="0.70"/>
<ellipse cx="434.3" cy="339.6" rx="1.2" ry="0.9" fill="#9494a8" fill-opacity="0.70"/>
<ellipse cx="438.4" cy="338.3" rx="1.4" ry="1.4" fill="#8c8ca0" fill-opacity="0.70"/>
<ellipse cx="442.4" cy="338.9" rx="1.5" ry="1.6" fill="#9c9cae" fill-opacity="0.70"/>
<ellipse cx="449.3" cy="338.3" rx="1.4" ry="1.4" fill="#9c9cae" fill-opacity="0.70"/>
<ellipse cx="452.2" cy="339.1" rx="1.3" ry="1.2" fill="#8c8ca0" fill-opacity="0.70"/>
<ellipse cx="457.9" cy="337.0" rx="1.4" ry="1.4" fill="#a6a6b4" fill-opacity="0.70"/>
<ellipse cx="463.7" cy="338.3" rx="1.1" ry="1.0" fill="#9c9cae" fill-opacity="0.70"/>
<ellipse cx="468.8" cy="341.1" rx="1.7" ry="1.4" fill="#a6a6b4" fill-opacity="0.70"/>
<ellipse cx="472.9" cy="336.9" rx="1.5" ry="1.2" fill="#a6a6b4" fill-opacity="0.70"/>
<ellipse cx="476.6" cy="340.7" rx="1.1" ry="0.9" fill="#a6a6b4" fill-opacity="0.70"/>
<ellipse cx="480.4" cy="339.4" rx="1.1" ry="1.1" fill="#8c8ca0" fill-opacity="0.70"/>
<ellipse cx="487.2" cy="340.0" rx="1.4" ry="1.3" fill="#9c9cae" fill-opacity="0.70"/>
<ellipse cx="489.1" cy="341.3" rx="1.6" ry="1.6" fill="#9c9cae" fill-opacity="0.70"/>
<ellipse cx="494.0" cy="337.7" rx="1.4" ry="1.2" fill="#9c9cae" fill-opacity="0.70"/>
<ellipse cx="500.3" cy="337.2" rx="1.4" ry="1.5" fill="#a6a6b4" fill-opacity="0.70"/>
<ellipse cx="503.3" cy="341.1" rx="1.5" ry="1.2" fill="#9c9cae" fill-opacity="0.70"/>
<ellipse cx="510.4" cy="340.2" rx="1.7" ry="1.3" fill="#a6a6b4" fill-opacity="0.70"/>
<ellipse cx="514.9" cy="338.4" rx="1.0" ry="0.9" fill="#8c8ca0" fill-opacity="0.70"/>
<ellipse cx="397.2" cy="344.0" rx="1.4" ry="1.3" fill="#9494a8" fill-opacity="0.70"/>
<ellipse cx="403.1" cy="341.6" rx="1.4" ry="1.1" fill="#9494a8" fill-opacity="0.70"/>
<ellipse cx="408.7" cy="345.4" rx="1.2" ry="1.3" fill="#9494a8" fill-opacity="0.70"/>
<ellipse cx="412.6" cy="342.0" rx="1.3" ry="1.2" fill="#a6a6b4" fill-opacity="0.70"/>
<ellipse cx="418.5" cy="342.3" rx="1.3" ry="1.4" fill="#9494a8" fill-opacity="0.70"/>
<ellipse cx="421.3" cy="345.0" rx="1.5" ry="1.4" fill="#a6a6b4" fill-opacity="0.70"/>
<ellipse cx="426.0" cy="342.2" rx="1.2" ry="1.2" fill="#9c9cae" fill-opacity="0.70"/>
<ellipse cx="430.9" cy="345.3" rx="1.2" ry="1.0" fill="#9c9cae" fill-opacity="0.70"/>
<ellipse cx="436.3" cy="345.7" rx="1.3" ry="1.3" fill="#8c8ca0" fill-opacity="0.70"/>
<ellipse cx="440.6" cy="341.6" rx="1.2" ry="1.2" fill="#8c8ca0" fill-opacity="0.70"/>
<ellipse cx="444.7" cy="343.2" rx="1.3" ry="1.1" fill="#a6a6b4" fill-opacity="0.70"/>
<ellipse cx="450.9" cy="344.1" rx="1.3" ry="1.3" fill="#9494a8" fill-opacity="0.70"/>
<ellipse cx="453.4" cy="342.6" rx="1.7" ry="1.6" fill="#9494a8" fill-opacity="0.70"/>
<ellipse cx="457.0" cy="344.8" rx="1.4" ry="1.1" fill="#9c9cae" fill-opacity="0.70"/>
<ellipse cx="461.1" cy="345.1" rx="1.1" ry="1.2" fill="#9494a8" fill-opacity="0.70"/>
<ellipse cx="466.6" cy="342.7" rx="1.3" ry="1.3" fill="#a6a6b4" fill-opacity="0.70"/>
<ellipse cx="473.5" cy="343.2" rx="1.5" ry="1.2" fill="#a6a6b4" fill-opacity="0.70"/>
<ellipse cx="478.3" cy="343.6" rx="1.4" ry="1.3" fill="#8c8ca0" fill-opacity="0.70"/>
<ellipse cx="483.6" cy="343.0" rx="1.6" ry="1.7" fill="#a6a6b4" fill-opacity="0.70"/>
<ellipse cx="485.0" cy="342.7" rx="1.3" ry="1.2" fill="#9c9cae" fill-opacity="0.70"/>
<ellipse cx="492.4" cy="344.8" rx="1.5" ry="1.2" fill="#9494a8" fill-opacity="0.70"/>
<ellipse cx="496.5" cy="344.1" rx="1.5" ry="1.6" fill="#9494a8" fill-opacity="0.70"/>
<ellipse cx="502.3" cy="341.7" rx="1.5" ry="1.3" fill="#a6a6b4" fill-opacity="0.70"/>
<ellipse cx="503.7" cy="342.6" rx="1.0" ry="0.9" fill="#8c8ca0" fill-opacity="0.70"/>
<ellipse cx="508.8" cy="343.2" rx="1.3" ry="1.0" fill="#8c8ca0" fill-opacity="0.70"/>
<ellipse cx="517.2" cy="342.8" rx="1.0" ry="0.9" fill="#9c9cae" fill-opacity="0.70"/>
<ellipse cx="395.6" cy="350.5" rx="1.6" ry="1.6" fill="#9494a8" fill-opacity="0.70"/>
<ellipse cx="400.2" cy="346.6" rx="1.5" ry="1.3" fill="#9494a8" fill-opacity="0.70"/>
<ellipse cx="406.2" cy="346.9" rx="1.5" ry="1.3" fill="#9494a8" fill-opacity="0.70"/>
<ellipse cx="413.0" cy="346.9" rx="1.5" ry="1.5" fill="#a6a6b4" fill-opacity="0.70"/>
<ellipse cx="416.1" cy="346.6" rx="1.1" ry="1.1" fill="#9c9cae" fill-opacity="0.70"/>
<ellipse cx="422.9" cy="348.8" rx="1.5" ry="1.6" fill="#a6a6b4" fill-opacity="0.70"/>
<ellipse cx="423.3" cy="347.0" rx="1.2" ry="1.2" fill="#8c8ca0" fill-opacity="0.70"/>
<ellipse cx="429.6" cy="350.8" rx="1.0" ry="1.0" fill="#9c9cae" fill-opacity="0.70"/>
<ellipse cx="433.3" cy="346.2" rx="1.7" ry="1.4" fill="#a6a6b4" fill-opacity="0.70"/>
<ellipse cx="439.4" cy="348.0" rx="1.3" ry="1.4" fill="#9494a8" fill-opacity="0.70"/>
<ellipse cx="445.6" cy="350.3" rx="1.3" ry="1.2" fill="#9494a8" fill-opacity="0.70"/>
<ellipse cx="448.9" cy="347.9" rx="1.4" ry="1.4" fill="#a6a6b4" fill-opacity="0.70"/>
<ellipse cx="451.8" cy="350.9" rx="1.1" ry="1.1" fill="#a6a6b4" fill-opacity="0.70"/>
<ellipse cx="457.6" cy="349.9" rx="1.2" ry="1.3" fill="#9c9cae" fill-opacity="0.70"/>
<ellipse cx="461.2" cy="348.6" rx="1.3" ry="1.0" fill="#a6a6b4" fill-opacity="0.70"/>
<ellipse cx="470.1" cy="350.9" rx="1.2" ry="1.2" fill="#9c9cae" fill-opacity="0.70"/>
<ellipse cx="472.4" cy="347.3" rx="1.4" ry="1.2" fill="#9c9cae" fill-opacity="0.70"/>
<ellipse cx="475.9" cy="348.9" rx="1.4" ry="1.1" fill="#8c8ca0" fill-opacity="0.70"/>
<ellipse cx="483.4" cy="347.2" rx="1.5" ry="1.6" fill="#9494a8" fill-opacity="0.70"/>
<ellipse cx="488.3" cy="347.1" rx="1.2" ry="1.1" fill="#9494a8" fill-opacity="0.70"/>
<ellipse cx="492.1" cy="348.2" rx="1.5" ry="1.3" fill="#8c8ca0" fill-opacity="0.70"/>
<ellipse cx="497.7" cy="348.6" rx="1.6" ry="1.5" fill="#9c9cae" fill-opacity="0.70"/>
<ellipse cx="502.4" cy="348.4" rx="1.3" ry="1.2" fill="#a6a6b4" fill-opacity="0.70"/>
<ellipse cx="505.2" cy="346.2" rx="1.2" ry="1.0" fill="#8c8ca0" fill-opacity="0.70"/>
<ellipse cx="511.5" cy="350.8" rx="1.2" ry="1.1" fill="#9c9cae" fill-opacity="0.70"/>
<ellipse cx="512.6" cy="348.0" rx="1.2" ry="1.1" fill="#9494a8" fill-opacity="0.70"/>
<ellipse cx="399.7" cy="351.6" rx="1.2" ry="1.0" fill="#8c8ca0" fill-opacity="0.70"/>
<ellipse cx="402.4" cy="352.1" rx="1.7" ry="1.3" fill="#9c9cae" fill-opacity="0.70"/>
<ellipse cx="406.9" cy="353.3" rx="1.7" ry="1.6" fill="#9c9cae" fill-opacity="0.70"/>
<ellipse cx="413.8" cy="351.8" rx="1.6" ry="1.6" fill="#9494a8" fill-opacity="0.70"/>
<ellipse cx="417.5" cy="353.1" rx="1.7" ry="1.5" fill="#a6a6b4" fill-opacity="0.70"/>
<ellipse cx="419.9" cy="353.5" rx="1.3" ry="1.0" fill="#8c8ca0" fill-opacity="0.70"/>
<ellipse cx="425.9" cy="355.0" rx="1.3" ry="1.2" fill="#9c9cae" fill-opacity="0.70"/>
<ellipse cx="430.2" cy="354.6" rx="1.7" ry="1.5" fill="#a6a6b4" fill-opacity="0.70"/>
<ellipse cx="435.2" cy="351.8" rx="1.5" ry="1.2" fill="#9494a8" fill-opacity="0.70"/>
<ellipse cx="442.0" cy="355.5" rx="1.3" ry="1.2" fill="#9494a8" fill-opacity="0.70"/>
<ellipse cx="445.1" cy="350.9" rx="1.0" ry="0.9" fill="#9c9cae" fill-opacity="0.70"/>
<ellipse cx="448.3" cy="353.5" rx="1.4" ry="1.4" fill="#9c9cae" fill-opacity="0.70"/>
<ellipse cx="452.1" cy="355.0" rx="1.6" ry="1.3" fill="#a6a6b4" fill-opacity="0.70"/>
<ellipse cx="458.9" cy="352.4" rx="1.4" ry="1.2" fill="#8c8ca0" fill-opacity="0.70"/>
<ellipse cx="462.9" cy="352.0" rx="1.2" ry="1.0" fill="#9494a8" fill-opacity="0.70"/>
<ellipse cx="469.1" cy="352.1" rx="1.5" ry="1.6" fill="#a6a6b4" fill-opacity="0.70"/>
<ellipse cx="474.1" cy="355.4" rx="1.6" ry="1.4" fill="#a6a6b4" fill-opacity="0.70"/>
<ellipse cx="477.7" cy="352.1" rx="1.6" ry="1.6" fill="#8c8ca0" fill-opacity="0.70"/>
<ellipse cx="480.2" cy="354.3" rx="1.2" ry="1.1" fill="#9494a8" fill-opacity="0.70"/>
<ellipse cx="484.6" cy="354.6" rx="1.2" ry="1.0" fill="#a6a6b4" fill-opacity="0.70"/>
<ellipse cx="493.1" cy="353.0" rx="1.2" ry="1.1" fill="#8c8ca0" fill-opacity="0.70"/>
<ellipse cx="494.8" cy="354.2" rx="1.3" ry="1.3" fill="#9494a8" fill-opacity="0.70"/>
<ellipse cx="502.8" cy="353.0" rx="1.2" ry="1.1" fill="#9494a8" fill-opacity="0.70"/>
<ellipse cx="503.2" cy="352.5" rx="1.4" ry="1.2" fill="#9494a8" fill-opacity="0.70"/>
<ellipse cx="510.1" cy="353.5" rx="1.1" ry="1.1" fill="#9494a8" fill-opacity="0.70"/>
<ellipse cx="516.0" cy="354.7" rx="1.3" ry="1.4" fill="#9c9cae" fill-opacity="0.70"/>
<circle cx="427.3" cy="286.2" r="3.4" fill="#b89470" fill-opacity="0.35"/>
<circle cx="436.5" cy="287.5" r="3.2" fill="#b89470" fill-opacity="0.35"/>
<circle cx="463.8" cy="292.3" r="3.2" fill="#b89470" fill-opacity="0.35"/>
<circle cx="418.3" cy="300.8" r="3.4" fill="#b89470" fill-opacity="0.35"/>
<circle cx="423.6" cy="299.1" r="2.7" fill="#b89470" fill-opacity="0.35"/>
<circle cx="452.8" cy="309.8" r="3.2" fill="#b89470" fill-opacity="0.35"/>
<circle cx="458.2" cy="308.9" r="2.9" fill="#b89470" fill-opacity="0.35"/>
<circle cx="477.1" cy="304.5" r="2.9" fill="#b89470" fill-opacity="0.35"/>
<circle cx="485.7" cy="302.1" r="2.9" fill="#b89470" fill-opacity="0.35"/>
<circle cx="477.6" cy="311.8" r="2.9" fill="#b89470" fill-opacity="0.35"/>
<circle cx="506.3" cy="306.9" r="3.2" fill="#b89470" fill-opacity="0.35"/>
<circle cx="512.4" cy="309.4" r="2.9" fill="#b89470" fill-opacity="0.35"/>
<circle cx="511.2" cy="316.6" r="2.9" fill="#b89470" fill-opacity="0.35"/>
<circle cx="485.7" cy="322.7" r="3.8" fill="#b89470" fill-opacity="0.35"/>
<circle cx="490.5" cy="324.4" r="3.2" fill="#b89470" fill-opacity="0.35"/>
<circle cx="475.9" cy="320.3" r="2.9" fill="#b89470" fill-opacity="0.35"/>
<circle cx="468.6" cy="325.2" r="2.5" fill="#b89470" fill-opacity="0.35"/>
<circle cx="398.1" cy="331.7" r="3.8" fill="#b89470" fill-opacity="0.35"/>
<circle cx="436.5" cy="328.8" r="3.6" fill="#b89470" fill-opacity="0.35"/>
<circle cx="449.2" cy="331.2" r="2.9" fill="#b89470" fill-opacity="0.35"/>
<circle cx="457.7" cy="342.2" r="3.2" fill="#b89470" fill-opacity="0.35"/>
<circle cx="493.0" cy="342.2" r="3.1" fill="#b89470" fill-opacity="0.35"/>
<circle cx="427.3" cy="286.2" r="2.1" fill="#7a4a26" fill-opacity="1.00"/>
<circle cx="426.9" cy="287.1" r="1.5" fill="#7a4a26" fill-opacity="0.85"/>
<circle cx="428.5" cy="286.8" r="1.3" fill="#7a4a26" fill-opacity="0.85"/>
<circle cx="436.5" cy="287.5" r="2.0" fill="#5a3a20" fill-opacity="1.00"/>
<circle cx="437.6" cy="287.9" r="1.1" fill="#5a3a20" fill-opacity="0.85"/>
<circle cx="435.7" cy="287.8" r="1.1" fill="#5a3a20" fill-opacity="0.85"/>
<circle cx="463.8" cy="292.3" r="2.0" fill="#2a1a12" fill-opacity="1.00"/>
<circle cx="462.5" cy="293.0" r="1.2" fill="#2a1a12" fill-opacity="0.85"/>
<circle cx="464.0" cy="293.6" r="1.6" fill="#2a1a12" fill-opacity="0.85"/>
<circle cx="418.3" cy="300.8" r="2.1" fill="#3a2210" fill-opacity="1.00"/>
<circle cx="417.3" cy="300.3" r="1.7" fill="#3a2210" fill-opacity="0.85"/>
<circle cx="419.8" cy="301.2" r="1.3" fill="#3a2210" fill-opacity="0.85"/>
<circle cx="423.6" cy="299.1" r="1.7" fill="#a06a38" fill-opacity="1.00"/>
<circle cx="424.1" cy="299.7" r="1.0" fill="#a06a38" fill-opacity="0.85"/>
<circle cx="423.9" cy="298.4" r="1.1" fill="#a06a38" fill-opacity="0.85"/>
<circle cx="452.8" cy="309.8" r="2.0" fill="#6a4022" fill-opacity="1.00"/>
<circle cx="452.1" cy="309.0" r="1.4" fill="#6a4022" fill-opacity="0.85"/>
<circle cx="453.6" cy="310.1" r="1.2" fill="#6a4022" fill-opacity="0.85"/>
<circle cx="458.2" cy="308.9" r="1.8" fill="#8a5a3a" fill-opacity="1.00"/>
<circle cx="457.8" cy="308.0" r="1.1" fill="#8a5a3a" fill-opacity="0.85"/>
<circle cx="457.3" cy="308.4" r="1.1" fill="#8a5a3a" fill-opacity="0.85"/>
<circle cx="477.1" cy="304.5" r="1.8" fill="#7a4a2e" fill-opacity="1.00"/>
<circle cx="477.4" cy="303.3" r="1.1" fill="#7a4a2e" fill-opacity="0.85"/>
<circle cx="476.1" cy="304.0" r="1.4" fill="#7a4a2e" fill-opacity="0.85"/>
<circle cx="485.7" cy="302.1" r="1.8" fill="#6a4022" fill-opacity="1.00"/>
<circle cx="485.6" cy="301.2" r="1.4" fill="#6a4022" fill-opacity="0.85"/>
<circle cx="486.4" cy="302.8" r="1.3" fill="#6a4022" fill-opacity="0.85"/>
<circle cx="477.6" cy="311.8" r="1.8" fill="#2a1a12" fill-opacity="1.00"/>
<circle cx="478.2" cy="312.7" r="1.0" fill="#2a1a12" fill-opacity="0.85"/>
<circle cx="477.0" cy="310.7" r="1.2" fill="#2a1a12" fill-opacity="0.85"/>
<circle cx="506.3" cy="306.9" r="2.0" fill="#7a4a2e" fill-opacity="1.00"/>
<circle cx="507.0" cy="306.2" r="1.4" fill="#7a4a2e" fill-opacity="0.85"/>
<circle cx="505.3" cy="306.2" r="1.3" fill="#7a4a2e" fill-opacity="0.85"/>
<circle cx="512.4" cy="309.4" r="1.8" fill="#7a4a2e" fill-opacity="1.00"/>
<circle cx="513.1" cy="308.2" r="1.2" fill="#7a4a2e" fill-opacity="0.85"/>
<circle cx="512.0" cy="308.8" r="1.3" fill="#7a4a2e" fill-opacity="0.85"/>
<circle cx="511.2" cy="316.6" r="1.8" fill="#a07850" fill-opacity="1.00"/>
<circle cx="510.4" cy="315.5" r="1.3" fill="#a07850" fill-opacity="0.85"/>
<circle cx="511.0" cy="317.6" r="1.3" fill="#a07850" fill-opacity="0.85"/>
<circle cx="485.7" cy="322.7" r="2.3" fill="#3a2210" fill-opacity="1.00"/>
<circle cx="487.0" cy="322.9" r="1.4" fill="#3a2210" fill-opacity="0.85"/>
<circle cx="486.4" cy="323.4" r="1.7" fill="#3a2210" fill-opacity="0.85"/>
<circle cx="490.5" cy="324.4" r="2.0" fill="#6a4022" fill-opacity="1.00"/>
<circle cx="491.2" cy="325.1" r="1.3" fill="#6a4022" fill-opacity="0.85"/>
<circle cx="491.1" cy="323.8" r="1.3" fill="#6a4022" fill-opacity="0.85"/>
<circle cx="475.9" cy="320.3" r="1.8" fill="#a07850" fill-opacity="1.00"/>
<circle cx="474.6" cy="319.9" r="1.3" fill="#a07850" fill-opacity="0.85"/>
<circle cx="476.5" cy="319.6" r="1.2" fill="#a07850" fill-opacity="0.85"/>
<circle cx="468.6" cy="325.2" r="1.5" fill="#9a8a7a" fill-opacity="1.00"/>
<circle cx="467.9" cy="326.1" r="1.2" fill="#9a8a7a" fill-opacity="0.85"/>
<circle cx="469.0" cy="325.8" r="0.9" fill="#9a8a7a" fill-opacity="0.85"/>
<circle cx="398.1" cy="331.7" r="2.3" fill="#3a2210" fill-opacity="1.00"/>
<circle cx="398.2" cy="333.1" r="1.6" fill="#3a2210" fill-opacity="0.85"/>
<circle cx="398.0" cy="332.6" r="1.5" fill="#3a2210" fill-opacity="0.85"/>
<circle cx="436.5" cy="328.8" r="2.2" fill="#3a2210" fill-opacity="1.00"/>
<circle cx="435.6" cy="329.8" r="1.7" fill="#3a2210" fill-opacity="0.85"/>
<circle cx="436.0" cy="327.6" r="1.5" fill="#3a2210" fill-opacity="0.85"/>
<circle cx="449.2" cy="331.2" r="1.8" fill="#a07850" fill-opacity="1.00"/>
<circle cx="448.9" cy="330.5" r="1.4" fill="#a07850" fill-opacity="0.85"/>
<circle cx="449.4" cy="329.9" r="1.3" fill="#a07850" fill-opacity="0.85"/>
<circle cx="457.7" cy="342.2" r="2.0" fill="#7a4a2e" fill-opacity="1.00"/>
<circle cx="456.8" cy="342.9" r="1.1" fill="#7a4a2e" fill-opacity="0.85"/>
<circle cx="457.1" cy="341.6" r="1.1" fill="#7a4a2e" fill-opacity="0.85"/>
<circle cx="493.0" cy="342.2" r="1.9" fill="#2a1a12" fill-opacity="1.00"/>
<circle cx="493.2" cy="343.0" r="1.2" fill="#2a1a12" fill-opacity="0.85"/>
<circle cx="493.7" cy="342.4" r="1.1" fill="#2a1a12" fill-opacity="0.85"/>
</g></g>
<rect x="394.25" y="270.25" width="121.50" height="82.50" fill="none" stroke="#3d3d3d" stroke-width="1.5"/>
</svg>
</body></html>
